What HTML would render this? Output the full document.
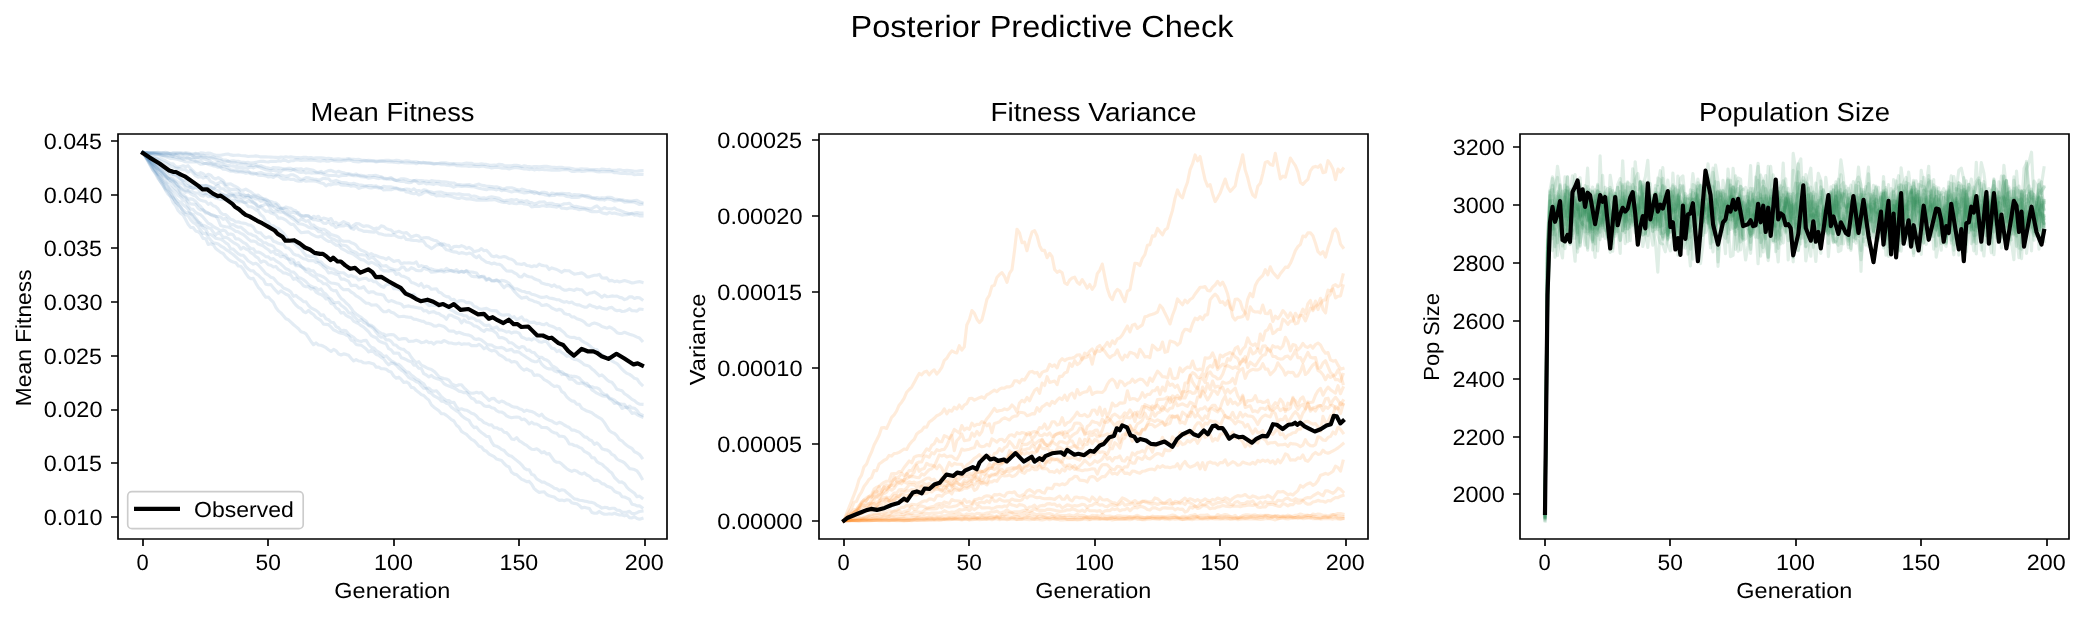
<!DOCTYPE html><html><head><meta charset="utf-8"><style>html,body{margin:0;padding:0;background:#fff;overflow:hidden}svg{display:block;will-change:transform;text-rendering:geometricPrecision}text{font-family:"Liberation Sans", sans-serif;fill:#000}</style></head><body>
<svg width="2084" height="617" viewBox="0 0 2084 617">
<rect width="2084" height="617" fill="#fff"/>
<clipPath id="c0"><rect x="118" y="134" width="549" height="405"/></clipPath>
<clipPath id="c1"><rect x="819" y="134" width="549" height="405"/></clipPath>
<clipPath id="c2"><rect x="1520" y="134" width="549" height="405"/></clipPath>
<g clip-path="url(#c0)" fill="none" stroke="rgb(70,130,180)" stroke-opacity="0.150" stroke-width="3.125" stroke-linejoin="round" stroke-linecap="square">
<path d="M143.0 152.6L145.5 152.6L148.0 152.6L150.5 152.6L153.0 152.6L155.5 152.5L158.0 152.4L160.5 152.6L163.0 152.7L165.5 152.3L168.0 153.1L170.5 153.2L173.1 152.8L175.6 153.1L178.1 152.8L180.6 152.8L183.1 153.2L185.6 152.6L188.1 153.0L190.6 153.5L193.1 153.8L195.6 153.4L198.1 153.7L200.6 152.9L203.1 153.1L205.7 153.5L208.2 153.1L210.7 153.4L213.2 154.4L215.7 155.3L218.2 155.2L220.7 155.3L223.2 154.7L225.7 154.3L228.2 154.1L230.7 154.9L233.2 155.4L235.8 155.2L238.3 155.0L240.8 155.5L243.3 155.8L245.8 155.9L248.3 156.5L250.8 156.3L253.3 156.3L255.8 155.9L258.3 156.3L260.8 156.9L263.3 156.9L265.8 156.9L268.4 157.0L270.9 157.1L273.4 157.3L275.9 157.4L278.4 157.6L280.9 157.1L283.4 157.3L285.9 156.8L288.4 157.2L290.9 156.9L293.4 157.2L295.9 157.6L298.5 157.6L301.0 157.8L303.5 157.2L306.0 157.3L308.5 157.9L311.0 157.6L313.5 158.2L316.0 157.8L318.5 157.7L321.0 157.7L323.5 158.1L326.0 158.6L328.5 158.3L331.1 158.5L333.6 159.4L336.1 159.1L338.6 158.8L341.1 159.2L343.6 159.2L346.1 159.0L348.6 158.6L351.1 159.3L353.6 159.3L356.1 159.5L358.6 159.3L361.2 160.1L363.7 160.3L366.2 160.6L368.7 160.4L371.2 160.5L373.7 160.8L376.2 161.1L378.7 161.0L381.2 160.8L383.7 160.6L386.2 160.4L388.7 160.3L391.2 160.8L393.8 160.8L396.3 160.2L398.8 160.6L401.3 161.4L403.8 161.3L406.3 160.7L408.8 161.1L411.3 161.7L413.8 161.9L416.3 161.8L418.8 162.6L421.3 163.2L423.8 162.7L426.4 162.9L428.9 162.9L431.4 163.1L433.9 163.5L436.4 163.5L438.9 163.3L441.4 162.9L443.9 162.7L446.4 162.9L448.9 163.6L451.4 163.6L453.9 163.6L456.5 163.7L459.0 163.7L461.5 164.0L464.0 163.5L466.5 163.0L469.0 163.4L471.5 163.3L474.0 164.4L476.5 164.4L479.0 164.4L481.5 163.9L484.0 164.4L486.5 164.4L489.1 165.1L491.6 165.4L494.1 165.0L496.6 165.3L499.1 164.3L501.6 164.5L504.1 165.5L506.6 165.9L509.1 165.9L511.6 165.9L514.1 165.4L516.6 165.2L519.2 165.7L521.7 166.6L524.2 165.7L526.7 166.3L529.2 166.6L531.7 167.0L534.2 166.6L536.7 166.5L539.2 166.7L541.7 166.5L544.2 166.3L546.7 166.4L549.2 166.8L551.8 167.3L554.3 167.4L556.8 167.6L559.3 167.4L561.8 167.3L564.3 168.1L566.8 168.1L569.3 168.1L571.8 168.5L574.3 169.0L576.8 169.2L579.3 169.1L581.9 168.9L584.4 169.0L586.9 169.0L589.4 169.5L591.9 169.5L594.4 169.6L596.9 169.5L599.4 170.0L601.9 169.0L604.4 169.4L606.9 169.8L609.4 169.4L611.9 170.4L614.5 170.2L617.0 170.1L619.5 169.7L622.0 170.3L624.5 170.5L627.0 170.3L629.5 170.5L632.0 170.9L634.5 171.3L637.0 171.2L639.5 170.8L642.0 170.7"/>
<path d="M143.0 152.6L145.5 152.6L148.0 152.6L150.5 152.7L153.0 152.7L155.5 152.7L158.0 153.1L160.5 153.1L163.0 153.3L165.5 153.4L168.0 153.2L170.5 153.8L173.1 153.3L175.6 153.0L178.1 153.2L180.6 153.2L183.1 153.4L185.6 153.5L188.1 154.3L190.6 154.4L193.1 154.7L195.6 154.1L198.1 154.3L200.6 155.4L203.1 155.2L205.7 156.3L208.2 156.2L210.7 156.9L213.2 157.1L215.7 157.8L218.2 158.0L220.7 158.6L223.2 160.0L225.7 160.0L228.2 161.2L230.7 161.0L233.2 160.7L235.8 161.2L238.3 161.3L240.8 162.2L243.3 162.4L245.8 162.6L248.3 162.4L250.8 163.1L253.3 162.7L255.8 162.4L258.3 161.7L260.8 161.2L263.3 161.4L265.8 161.8L268.4 162.0L270.9 161.3L273.4 161.4L275.9 161.4L278.4 160.8L280.9 161.1L283.4 160.1L285.9 160.5L288.4 161.7L290.9 160.8L293.4 160.8L295.9 159.9L298.5 159.9L301.0 160.5L303.5 160.1L306.0 160.2L308.5 160.2L311.0 160.1L313.5 160.3L316.0 160.5L318.5 161.0L321.0 161.1L323.5 160.5L326.0 161.1L328.5 161.3L331.1 160.3L333.6 160.7L336.1 161.0L338.6 161.3L341.1 161.3L343.6 160.5L346.1 160.6L348.6 159.9L351.1 160.4L353.6 161.5L356.1 161.7L358.6 161.9L361.2 161.4L363.7 161.0L366.2 160.9L368.7 161.3L371.2 161.2L373.7 161.2L376.2 162.0L378.7 161.4L381.2 161.2L383.7 161.5L386.2 161.8L388.7 162.0L391.2 161.7L393.8 162.2L396.3 162.4L398.8 162.7L401.3 162.3L403.8 162.7L406.3 163.0L408.8 162.8L411.3 163.0L413.8 162.9L416.3 163.8L418.8 162.5L421.3 162.5L423.8 162.4L426.4 163.0L428.9 163.2L431.4 163.5L433.9 164.2L436.4 163.7L438.9 163.8L441.4 164.1L443.9 164.0L446.4 164.6L448.9 165.0L451.4 164.8L453.9 164.4L456.5 165.6L459.0 165.8L461.5 166.0L464.0 166.0L466.5 166.0L469.0 166.4L471.5 166.3L474.0 166.1L476.5 166.5L479.0 166.6L481.5 166.3L484.0 166.2L486.5 167.0L489.1 167.3L491.6 168.0L494.1 167.5L496.6 167.1L499.1 167.5L501.6 168.1L504.1 168.2L506.6 168.2L509.1 168.9L511.6 168.2L514.1 167.7L516.6 167.7L519.2 167.9L521.7 168.4L524.2 168.9L526.7 169.0L529.2 169.6L531.7 169.0L534.2 169.9L536.7 169.3L539.2 169.8L541.7 169.3L544.2 169.6L546.7 169.7L549.2 170.0L551.8 170.3L554.3 170.1L556.8 170.1L559.3 170.3L561.8 169.8L564.3 169.8L566.8 169.5L569.3 170.1L571.8 171.4L574.3 171.5L576.8 171.0L579.3 170.8L581.9 171.5L584.4 171.3L586.9 170.7L589.4 170.8L591.9 170.8L594.4 170.9L596.9 171.7L599.4 171.9L601.9 171.5L604.4 171.7L606.9 171.6L609.4 171.6L611.9 171.5L614.5 172.8L617.0 172.8L619.5 173.2L622.0 173.5L624.5 173.3L627.0 173.6L629.5 173.8L632.0 173.8L634.5 174.7L637.0 174.5L639.5 174.2L642.0 174.4"/>
<path d="M143.0 152.6L145.5 152.7L148.0 152.7L150.5 152.7L153.0 152.7L155.5 152.7L158.0 153.1L160.5 153.5L163.0 152.8L165.5 153.2L168.0 153.1L170.5 153.9L173.1 154.6L175.6 154.2L178.1 154.2L180.6 154.0L183.1 154.9L185.6 154.2L188.1 154.2L190.6 154.6L193.1 156.1L195.6 157.8L198.1 157.4L200.6 156.6L203.1 157.2L205.7 157.1L208.2 158.1L210.7 157.9L213.2 158.4L215.7 159.2L218.2 160.2L220.7 160.5L223.2 161.8L225.7 162.0L228.2 161.1L230.7 162.5L233.2 162.7L235.8 162.8L238.3 164.3L240.8 163.7L243.3 164.2L245.8 164.1L248.3 165.4L250.8 165.2L253.3 165.6L255.8 164.9L258.3 166.3L260.8 165.7L263.3 166.7L265.8 167.4L268.4 168.0L270.9 168.8L273.4 167.5L275.9 167.8L278.4 167.9L280.9 168.2L283.4 168.9L285.9 168.7L288.4 168.2L290.9 168.4L293.4 169.6L295.9 168.7L298.5 169.0L301.0 168.7L303.5 169.9L306.0 168.9L308.5 169.3L311.0 169.7L313.5 170.2L316.0 171.9L318.5 172.5L321.0 171.3L323.5 172.8L326.0 171.6L328.5 170.6L331.1 170.4L333.6 171.5L336.1 172.4L338.6 171.3L341.1 172.4L343.6 172.7L346.1 173.6L348.6 173.5L351.1 174.4L353.6 174.7L356.1 174.0L358.6 175.3L361.2 175.4L363.7 175.8L366.2 176.5L368.7 175.6L371.2 175.8L373.7 175.5L376.2 175.4L378.7 176.2L381.2 176.8L383.7 177.9L386.2 178.6L388.7 178.2L391.2 177.6L393.8 179.9L396.3 180.6L398.8 179.7L401.3 178.8L403.8 178.8L406.3 179.3L408.8 180.2L411.3 180.7L413.8 180.7L416.3 180.4L418.8 180.6L421.3 180.6L423.8 180.9L426.4 181.0L428.9 181.6L431.4 180.6L433.9 181.0L436.4 181.4L438.9 181.2L441.4 181.8L443.9 181.7L446.4 182.0L448.9 182.5L451.4 182.9L453.9 183.0L456.5 184.3L459.0 184.5L461.5 184.8L464.0 185.0L466.5 184.7L469.0 184.5L471.5 185.5L474.0 185.5L476.5 184.7L479.0 184.1L481.5 185.3L484.0 185.6L486.5 186.2L489.1 186.4L491.6 186.6L494.1 187.1L496.6 186.7L499.1 187.4L501.6 188.5L504.1 189.0L506.6 187.9L509.1 187.7L511.6 187.7L514.1 188.4L516.6 189.6L519.2 190.1L521.7 189.1L524.2 189.8L526.7 190.8L529.2 190.7L531.7 192.1L534.2 191.5L536.7 192.4L539.2 193.7L541.7 192.3L544.2 192.2L546.7 192.8L549.2 194.9L551.8 193.0L554.3 193.6L556.8 193.8L559.3 193.6L561.8 193.4L564.3 193.5L566.8 193.9L569.3 193.5L571.8 195.2L574.3 194.6L576.8 194.8L579.3 194.9L581.9 195.2L584.4 195.7L586.9 195.6L589.4 196.0L591.9 197.5L594.4 198.1L596.9 197.6L599.4 198.3L601.9 197.7L604.4 198.1L606.9 197.4L609.4 197.3L611.9 197.5L614.5 199.0L617.0 199.3L619.5 199.8L622.0 199.9L624.5 200.3L627.0 200.6L629.5 201.1L632.0 201.1L634.5 200.5L637.0 200.4L639.5 201.7L642.0 202.6"/>
<path d="M143.0 152.6L145.5 152.7L148.0 153.0L150.5 153.2L153.0 153.4L155.5 153.6L158.0 153.8L160.5 154.5L163.0 155.2L165.5 154.7L168.0 154.9L170.5 155.3L173.1 156.2L175.6 154.8L178.1 156.1L180.6 157.4L183.1 157.0L185.6 157.2L188.1 158.2L190.6 158.4L193.1 157.5L195.6 157.4L198.1 157.6L200.6 157.7L203.1 158.8L205.7 159.4L208.2 160.3L210.7 161.5L213.2 163.0L215.7 163.2L218.2 162.2L220.7 163.9L223.2 164.2L225.7 165.4L228.2 165.2L230.7 165.8L233.2 166.1L235.8 166.5L238.3 167.6L240.8 167.2L243.3 167.6L245.8 167.9L248.3 167.9L250.8 166.8L253.3 167.9L255.8 166.6L258.3 166.8L260.8 167.7L263.3 168.8L265.8 169.7L268.4 170.3L270.9 170.6L273.4 170.2L275.9 171.0L278.4 170.6L280.9 171.4L283.4 169.7L285.9 169.7L288.4 170.0L290.9 170.6L293.4 169.4L295.9 170.9L298.5 171.9L301.0 172.4L303.5 171.9L306.0 173.0L308.5 172.4L311.0 173.1L313.5 172.9L316.0 172.9L318.5 173.0L321.0 173.2L323.5 174.1L326.0 174.9L328.5 175.4L331.1 175.5L333.6 175.5L336.1 175.5L338.6 176.4L341.1 175.6L343.6 175.1L346.1 175.4L348.6 174.6L351.1 175.2L353.6 175.7L356.1 175.5L358.6 175.8L361.2 176.8L363.7 176.9L366.2 177.3L368.7 178.2L371.2 177.8L373.7 177.3L376.2 177.9L378.7 178.6L381.2 177.7L383.7 178.8L386.2 179.0L388.7 179.1L391.2 179.0L393.8 179.4L396.3 180.5L398.8 180.9L401.3 181.5L403.8 181.1L406.3 182.3L408.8 182.8L411.3 182.4L413.8 180.6L416.3 181.4L418.8 183.7L421.3 183.3L423.8 182.5L426.4 183.9L428.9 183.4L431.4 183.9L433.9 184.4L436.4 183.4L438.9 184.0L441.4 185.0L443.9 184.8L446.4 185.4L448.9 185.4L451.4 186.1L453.9 187.2L456.5 186.0L459.0 186.0L461.5 186.5L464.0 186.2L466.5 186.1L469.0 186.4L471.5 186.7L474.0 186.7L476.5 187.5L479.0 188.3L481.5 188.8L484.0 189.2L486.5 189.8L489.1 188.6L491.6 188.9L494.1 189.3L496.6 189.9L499.1 188.9L501.6 190.7L504.1 190.1L506.6 190.5L509.1 191.2L511.6 191.9L514.1 191.2L516.6 191.1L519.2 191.7L521.7 192.3L524.2 192.9L526.7 192.7L529.2 192.3L531.7 191.8L534.2 193.6L536.7 192.7L539.2 193.6L541.7 194.0L544.2 194.6L546.7 195.1L549.2 195.8L551.8 195.4L554.3 195.5L556.8 194.2L559.3 194.9L561.8 194.8L564.3 195.3L566.8 196.5L569.3 196.6L571.8 197.4L574.3 197.1L576.8 197.4L579.3 197.2L581.9 195.8L584.4 196.3L586.9 197.0L589.4 197.7L591.9 198.1L594.4 198.4L596.9 199.3L599.4 199.7L601.9 199.4L604.4 200.1L606.9 198.8L609.4 199.3L611.9 199.8L614.5 201.0L617.0 200.7L619.5 200.0L622.0 200.7L624.5 202.2L627.0 201.9L629.5 202.0L632.0 202.0L634.5 202.3L637.0 203.4L639.5 204.5L642.0 204.2"/>
<path d="M143.0 152.6L145.5 153.0L148.0 153.3L150.5 153.6L153.0 153.8L155.5 154.1L158.0 154.5L160.5 154.8L163.0 155.3L165.5 155.7L168.0 156.3L170.5 156.3L173.1 156.6L175.6 157.2L178.1 157.6L180.6 158.0L183.1 159.2L185.6 158.5L188.1 157.6L190.6 159.3L193.1 159.7L195.6 161.2L198.1 161.3L200.6 160.9L203.1 163.2L205.7 163.5L208.2 163.4L210.7 163.3L213.2 164.5L215.7 164.6L218.2 165.6L220.7 167.0L223.2 166.3L225.7 166.8L228.2 168.0L230.7 169.7L233.2 170.3L235.8 169.9L238.3 171.2L240.8 170.9L243.3 170.9L245.8 171.5L248.3 171.0L250.8 173.7L253.3 174.1L255.8 173.7L258.3 173.1L260.8 172.5L263.3 173.4L265.8 174.2L268.4 174.0L270.9 174.1L273.4 174.9L275.9 175.0L278.4 173.9L280.9 175.1L283.4 175.7L285.9 176.4L288.4 175.9L290.9 174.7L293.4 174.8L295.9 176.1L298.5 178.1L301.0 179.6L303.5 179.0L306.0 177.6L308.5 177.8L311.0 178.5L313.5 179.0L316.0 179.2L318.5 180.3L321.0 179.5L323.5 178.2L326.0 178.6L328.5 178.7L331.1 181.3L333.6 181.2L336.1 180.4L338.6 181.5L341.1 182.5L343.6 182.6L346.1 182.8L348.6 183.7L351.1 183.9L353.6 183.3L356.1 184.1L358.6 184.8L361.2 185.0L363.7 185.6L366.2 185.8L368.7 185.5L371.2 185.5L373.7 186.2L376.2 185.9L378.7 187.1L381.2 187.9L383.7 186.2L386.2 186.7L388.7 186.7L391.2 186.9L393.8 187.6L396.3 187.9L398.8 188.8L401.3 189.2L403.8 189.5L406.3 189.0L408.8 189.2L411.3 190.6L413.8 188.8L416.3 190.8L418.8 190.5L421.3 191.6L423.8 189.7L426.4 190.3L428.9 191.6L431.4 192.0L433.9 192.9L436.4 192.2L438.9 192.1L441.4 192.1L443.9 193.0L446.4 193.6L448.9 193.7L451.4 193.7L453.9 193.8L456.5 194.2L459.0 193.9L461.5 194.4L464.0 194.7L466.5 194.8L469.0 194.9L471.5 196.5L474.0 196.0L476.5 196.6L479.0 197.7L481.5 198.0L484.0 197.7L486.5 198.4L489.1 197.2L491.6 196.8L494.1 197.2L496.6 197.7L499.1 198.2L501.6 200.0L504.1 200.9L506.6 200.3L509.1 200.3L511.6 199.6L514.1 200.2L516.6 199.5L519.2 201.1L521.7 200.8L524.2 201.5L526.7 200.7L529.2 202.2L531.7 202.6L534.2 203.9L536.7 203.4L539.2 202.1L541.7 202.0L544.2 201.8L546.7 203.8L549.2 203.4L551.8 203.2L554.3 204.2L556.8 204.6L559.3 205.1L561.8 204.8L564.3 203.7L566.8 203.7L569.3 203.2L571.8 205.4L574.3 206.6L576.8 206.4L579.3 207.1L581.9 207.6L584.4 208.0L586.9 208.3L589.4 208.8L591.9 208.6L594.4 207.0L596.9 205.8L599.4 208.2L601.9 209.1L604.4 207.5L606.9 208.7L609.4 208.7L611.9 209.0L614.5 207.9L617.0 209.7L619.5 210.3L622.0 211.3L624.5 212.2L627.0 212.9L629.5 213.7L632.0 213.3L634.5 213.1L637.0 212.5L639.5 213.1L642.0 213.0"/>
<path d="M143.0 152.6L145.5 153.1L148.0 153.6L150.5 153.6L153.0 153.7L155.5 154.3L158.0 154.5L160.5 155.6L163.0 156.1L165.5 156.8L168.0 157.6L170.5 158.5L173.1 158.4L175.6 159.0L178.1 159.4L180.6 160.2L183.1 160.7L185.6 161.8L188.1 162.0L190.6 161.6L193.1 162.0L195.6 161.6L198.1 162.6L200.6 164.3L203.1 164.0L205.7 163.3L208.2 164.4L210.7 164.9L213.2 165.9L215.7 166.2L218.2 167.2L220.7 167.2L223.2 169.3L225.7 169.4L228.2 170.3L230.7 171.2L233.2 171.2L235.8 171.9L238.3 172.0L240.8 172.0L243.3 172.4L245.8 173.3L248.3 172.7L250.8 172.8L253.3 173.0L255.8 173.5L258.3 175.2L260.8 175.4L263.3 175.4L265.8 175.9L268.4 177.0L270.9 176.4L273.4 177.5L275.9 175.8L278.4 176.0L280.9 178.0L283.4 179.3L285.9 179.1L288.4 178.7L290.9 179.5L293.4 179.2L295.9 180.5L298.5 181.2L301.0 181.3L303.5 180.3L306.0 181.3L308.5 181.0L311.0 181.0L313.5 181.0L316.0 181.3L318.5 182.1L321.0 182.9L323.5 183.5L326.0 185.8L328.5 184.4L331.1 184.9L333.6 184.0L336.1 184.0L338.6 183.4L341.1 184.9L343.6 185.1L346.1 185.3L348.6 185.4L351.1 186.3L353.6 185.8L356.1 186.4L358.6 188.4L361.2 187.6L363.7 187.0L366.2 186.5L368.7 187.7L371.2 187.9L373.7 187.5L376.2 187.4L378.7 188.1L381.2 187.8L383.7 190.0L386.2 189.7L388.7 189.7L391.2 189.8L393.8 188.8L396.3 188.6L398.8 189.4L401.3 190.2L403.8 189.9L406.3 192.0L408.8 192.3L411.3 193.3L413.8 193.8L416.3 193.2L418.8 194.9L421.3 194.3L423.8 192.6L426.4 191.5L428.9 192.7L431.4 194.1L433.9 194.4L436.4 195.9L438.9 195.4L441.4 195.8L443.9 196.3L446.4 195.4L448.9 196.0L451.4 196.5L453.9 197.4L456.5 198.1L459.0 198.5L461.5 197.5L464.0 198.2L466.5 198.9L469.0 198.7L471.5 199.2L474.0 199.6L476.5 200.2L479.0 199.9L481.5 200.1L484.0 200.2L486.5 200.2L489.1 199.9L491.6 200.0L494.1 199.6L496.6 200.2L499.1 201.3L501.6 201.9L504.1 202.5L506.6 202.3L509.1 203.4L511.6 202.8L514.1 203.5L516.6 203.7L519.2 203.1L521.7 202.9L524.2 204.0L526.7 204.2L529.2 204.6L531.7 206.9L534.2 206.5L536.7 206.1L539.2 206.5L541.7 205.8L544.2 205.8L546.7 206.4L549.2 206.0L551.8 206.4L554.3 206.7L556.8 207.1L559.3 206.1L561.8 208.3L564.3 208.2L566.8 208.8L569.3 208.0L571.8 207.6L574.3 208.4L576.8 208.7L579.3 209.7L581.9 209.2L584.4 209.0L586.9 210.0L589.4 210.9L591.9 211.7L594.4 211.6L596.9 211.8L599.4 211.3L601.9 212.7L604.4 213.4L606.9 213.9L609.4 212.4L611.9 213.4L614.5 213.0L617.0 213.7L619.5 214.2L622.0 215.1L624.5 214.8L627.0 214.6L629.5 214.1L632.0 213.8L634.5 215.1L637.0 214.8L639.5 215.9L642.0 215.9"/>
<path d="M143.0 152.6L145.5 153.6L148.0 154.7L150.5 155.4L153.0 156.3L155.5 157.2L158.0 158.5L160.5 158.9L163.0 159.7L165.5 160.7L168.0 162.3L170.5 163.8L173.1 163.9L175.6 166.5L178.1 167.2L180.6 166.6L183.1 165.7L185.6 166.8L188.1 165.7L190.6 168.5L193.1 170.8L195.6 173.3L198.1 174.2L200.6 172.6L203.1 173.7L205.7 175.9L208.2 174.2L210.7 175.2L213.2 177.8L215.7 179.0L218.2 177.6L220.7 179.1L223.2 180.8L225.7 184.6L228.2 184.1L230.7 183.8L233.2 185.3L235.8 186.7L238.3 188.1L240.8 190.3L243.3 190.2L245.8 189.1L248.3 190.6L250.8 191.8L253.3 194.0L255.8 195.6L258.3 195.1L260.8 197.1L263.3 198.9L265.8 199.1L268.4 200.9L270.9 201.5L273.4 202.4L275.9 203.0L278.4 204.9L280.9 208.8L283.4 208.3L285.9 207.0L288.4 207.8L290.9 208.2L293.4 210.0L295.9 210.8L298.5 214.7L301.0 215.2L303.5 217.2L306.0 215.7L308.5 215.7L311.0 218.7L313.5 216.3L316.0 217.4L318.5 216.3L321.0 219.5L323.5 218.1L326.0 218.8L328.5 219.6L331.1 218.5L333.6 222.8L336.1 222.4L338.6 224.5L341.1 223.1L343.6 221.6L346.1 222.9L348.6 223.8L351.1 227.5L353.6 225.2L356.1 223.5L358.6 223.7L361.2 225.2L363.7 226.5L366.2 225.8L368.7 226.1L371.2 227.4L373.7 229.0L376.2 228.1L378.7 228.6L381.2 225.7L383.7 226.4L386.2 228.6L388.7 229.5L391.2 230.1L393.8 232.7L396.3 232.1L398.8 231.2L401.3 232.4L403.8 233.3L406.3 232.5L408.8 234.7L411.3 237.1L413.8 236.0L416.3 235.3L418.8 236.1L421.3 238.4L423.8 237.8L426.4 237.6L428.9 237.9L431.4 239.3L433.9 240.3L436.4 240.7L438.9 242.8L441.4 245.4L443.9 243.9L446.4 245.2L448.9 245.3L451.4 248.8L453.9 246.5L456.5 246.2L459.0 246.8L461.5 245.6L464.0 246.6L466.5 248.5L469.0 247.4L471.5 248.8L474.0 251.8L476.5 251.0L479.0 250.5L481.5 248.6L484.0 250.7L486.5 250.3L489.1 253.0L491.6 256.0L494.1 256.7L496.6 255.8L499.1 257.3L501.6 257.1L504.1 256.5L506.6 257.3L509.1 258.8L511.6 259.2L514.1 260.8L516.6 263.8L519.2 264.0L521.7 264.5L524.2 263.5L526.7 265.5L529.2 265.7L531.7 266.8L534.2 265.7L536.7 266.4L539.2 264.1L541.7 265.4L544.2 265.8L546.7 266.0L549.2 269.5L551.8 267.9L554.3 268.8L556.8 269.5L559.3 270.9L561.8 272.3L564.3 270.4L566.8 270.7L569.3 270.8L571.8 272.7L574.3 274.2L576.8 273.7L579.3 273.4L581.9 272.9L584.4 274.4L586.9 276.9L589.4 276.9L591.9 275.9L594.4 275.3L596.9 275.3L599.4 274.4L601.9 277.9L604.4 278.1L606.9 277.9L609.4 280.9L611.9 280.4L614.5 281.7L617.0 281.1L619.5 281.9L622.0 281.3L624.5 280.5L627.0 281.2L629.5 282.0L632.0 283.0L634.5 282.6L637.0 282.0L639.5 281.6L642.0 282.3"/>
<path d="M143.0 152.6L145.5 153.8L148.0 155.1L150.5 156.5L153.0 157.8L155.5 158.6L158.0 159.2L160.5 160.8L163.0 162.1L165.5 163.1L168.0 164.5L170.5 166.3L173.1 167.0L175.6 168.4L178.1 168.2L180.6 169.3L183.1 169.7L185.6 169.7L188.1 172.2L190.6 170.3L193.1 172.9L195.6 175.7L198.1 177.2L200.6 176.2L203.1 178.1L205.7 177.1L208.2 178.0L210.7 181.6L213.2 182.4L215.7 184.4L218.2 183.3L220.7 181.9L223.2 183.0L225.7 186.3L228.2 188.1L230.7 189.6L233.2 189.4L235.8 189.8L238.3 190.2L240.8 194.4L243.3 193.9L245.8 196.0L248.3 195.4L250.8 197.2L253.3 195.9L255.8 196.2L258.3 197.9L260.8 198.2L263.3 199.0L265.8 200.2L268.4 200.9L270.9 204.2L273.4 206.0L275.9 204.5L278.4 207.8L280.9 208.0L283.4 208.6L285.9 209.2L288.4 211.2L290.9 212.6L293.4 212.3L295.9 213.3L298.5 212.6L301.0 216.3L303.5 215.6L306.0 215.6L308.5 216.1L311.0 217.7L313.5 219.7L316.0 219.7L318.5 220.5L321.0 220.8L323.5 223.1L326.0 223.4L328.5 221.6L331.1 224.6L333.6 225.1L336.1 227.5L338.6 226.1L341.1 225.7L343.6 226.0L346.1 225.0L348.6 225.9L351.1 228.4L353.6 229.4L356.1 226.6L358.6 229.5L361.2 230.2L363.7 231.4L366.2 231.3L368.7 231.6L371.2 231.9L373.7 232.2L376.2 231.4L378.7 233.6L381.2 234.0L383.7 234.7L386.2 235.3L388.7 235.1L391.2 235.5L393.8 234.5L396.3 236.1L398.8 237.3L401.3 237.6L403.8 236.3L406.3 239.4L408.8 239.6L411.3 240.2L413.8 240.4L416.3 240.5L418.8 241.1L421.3 240.8L423.8 241.6L426.4 245.3L428.9 246.7L431.4 248.6L433.9 247.0L436.4 244.9L438.9 244.7L441.4 243.4L443.9 247.2L446.4 249.8L448.9 250.3L451.4 251.2L453.9 251.9L456.5 252.1L459.0 253.5L461.5 252.6L464.0 253.1L466.5 254.0L469.0 253.1L471.5 253.7L474.0 256.1L476.5 257.7L479.0 255.7L481.5 258.9L484.0 260.4L486.5 262.2L489.1 262.6L491.6 264.0L494.1 263.0L496.6 264.2L499.1 264.3L501.6 265.4L504.1 268.4L506.6 271.0L509.1 271.1L511.6 271.0L514.1 272.8L516.6 273.9L519.2 276.6L521.7 277.0L524.2 274.2L526.7 275.9L529.2 276.7L531.7 277.0L534.2 278.7L536.7 279.8L539.2 280.4L541.7 283.1L544.2 283.7L546.7 284.4L549.2 284.7L551.8 286.4L554.3 284.9L556.8 287.0L559.3 286.8L561.8 288.9L564.3 290.2L566.8 290.1L569.3 289.2L571.8 289.8L574.3 290.4L576.8 288.9L579.3 289.6L581.9 289.8L584.4 292.5L586.9 294.6L589.4 293.1L591.9 292.8L594.4 291.9L596.9 293.4L599.4 295.1L601.9 297.3L604.4 295.2L606.9 296.7L609.4 296.5L611.9 295.9L614.5 296.2L617.0 296.0L619.5 297.4L622.0 297.9L624.5 299.6L627.0 298.7L629.5 296.8L632.0 296.9L634.5 298.5L637.0 297.5L639.5 297.8L642.0 299.6"/>
<path d="M143.0 152.6L145.5 154.6L148.0 156.6L150.5 158.4L153.0 160.3L155.5 161.9L158.0 163.6L160.5 165.3L163.0 167.2L165.5 168.8L168.0 169.9L170.5 170.9L173.1 174.8L175.6 174.7L178.1 176.1L180.6 178.9L183.1 180.7L185.6 180.2L188.1 183.5L190.6 185.5L193.1 184.5L195.6 183.3L198.1 185.0L200.6 185.4L203.1 185.7L205.7 185.5L208.2 185.9L210.7 187.2L213.2 189.0L215.7 186.8L218.2 185.5L220.7 188.8L223.2 188.8L225.7 190.8L228.2 191.4L230.7 193.3L233.2 194.3L235.8 193.7L238.3 193.8L240.8 194.8L243.3 196.2L245.8 195.7L248.3 194.9L250.8 196.7L253.3 197.9L255.8 198.9L258.3 199.0L260.8 201.3L263.3 200.4L265.8 201.8L268.4 205.1L270.9 204.7L273.4 206.7L275.9 208.4L278.4 209.9L280.9 208.8L283.4 211.8L285.9 213.0L288.4 214.6L290.9 215.9L293.4 216.8L295.9 219.2L298.5 221.3L301.0 219.2L303.5 219.9L306.0 221.4L308.5 220.5L311.0 224.7L313.5 225.0L316.0 227.1L318.5 228.4L321.0 229.1L323.5 229.2L326.0 230.5L328.5 232.2L331.1 234.6L333.6 235.3L336.1 236.0L338.6 237.2L341.1 240.2L343.6 241.2L346.1 241.3L348.6 241.2L351.1 242.7L353.6 243.5L356.1 245.1L358.6 248.5L361.2 250.2L363.7 251.1L366.2 252.3L368.7 254.9L371.2 253.6L373.7 255.1L376.2 255.6L378.7 256.7L381.2 257.6L383.7 258.0L386.2 259.5L388.7 257.6L391.2 259.6L393.8 261.4L396.3 260.7L398.8 260.6L401.3 264.0L403.8 262.8L406.3 263.0L408.8 262.8L411.3 263.1L413.8 263.3L416.3 262.0L418.8 266.5L421.3 265.6L423.8 266.5L426.4 266.6L428.9 268.5L431.4 268.9L433.9 269.7L436.4 270.4L438.9 270.5L441.4 269.8L443.9 270.6L446.4 268.3L448.9 270.0L451.4 270.9L453.9 271.2L456.5 269.6L459.0 272.0L461.5 271.2L464.0 272.5L466.5 270.6L469.0 271.7L471.5 272.0L474.0 272.4L476.5 273.0L479.0 276.5L481.5 276.6L484.0 277.5L486.5 280.4L489.1 278.3L491.6 281.0L494.1 280.7L496.6 280.6L499.1 281.2L501.6 280.4L504.1 280.7L506.6 281.7L509.1 283.4L511.6 286.2L514.1 288.6L516.6 288.7L519.2 290.0L521.7 291.2L524.2 291.5L526.7 292.6L529.2 292.6L531.7 294.3L534.2 294.7L536.7 295.6L539.2 296.7L541.7 297.4L544.2 297.2L546.7 296.6L549.2 298.0L551.8 298.4L554.3 298.9L556.8 299.8L559.3 299.8L561.8 301.3L564.3 302.3L566.8 301.6L569.3 302.8L571.8 302.1L574.3 303.9L576.8 304.9L579.3 304.9L581.9 306.1L584.4 307.1L586.9 307.2L589.4 304.8L591.9 305.9L594.4 306.7L596.9 308.0L599.4 306.8L601.9 308.2L604.4 308.7L606.9 309.2L609.4 307.7L611.9 307.4L614.5 309.7L617.0 310.7L619.5 310.2L622.0 311.5L624.5 311.3L627.0 310.4L629.5 308.7L632.0 310.8L634.5 310.7L637.0 311.1L639.5 309.0L642.0 309.3"/>
<path d="M143.0 152.6L145.5 154.8L148.0 156.8L150.5 158.7L153.0 161.0L155.5 162.9L158.0 164.8L160.5 166.8L163.0 168.4L165.5 170.2L168.0 171.8L170.5 173.8L173.1 174.4L175.6 175.5L178.1 177.8L180.6 179.5L183.1 181.4L185.6 185.0L188.1 186.0L190.6 187.5L193.1 187.8L195.6 187.7L198.1 187.2L200.6 186.0L203.1 186.1L205.7 185.4L208.2 186.6L210.7 187.0L213.2 188.1L215.7 190.0L218.2 190.8L220.7 193.0L223.2 194.4L225.7 195.5L228.2 196.2L230.7 196.2L233.2 195.5L235.8 196.6L238.3 196.6L240.8 197.1L243.3 198.3L245.8 197.7L248.3 197.2L250.8 199.5L253.3 202.9L255.8 204.4L258.3 208.7L260.8 205.7L263.3 205.4L265.8 203.8L268.4 205.1L270.9 209.4L273.4 212.0L275.9 211.0L278.4 211.8L280.9 212.1L283.4 212.3L285.9 214.2L288.4 215.7L290.9 217.6L293.4 219.3L295.9 221.4L298.5 223.8L301.0 224.0L303.5 224.6L306.0 225.6L308.5 227.3L311.0 228.1L313.5 228.0L316.0 229.1L318.5 231.6L321.0 231.5L323.5 234.1L326.0 233.7L328.5 236.3L331.1 238.4L333.6 239.2L336.1 240.5L338.6 241.7L341.1 245.1L343.6 245.3L346.1 245.7L348.6 247.8L351.1 250.4L353.6 251.6L356.1 252.4L358.6 254.7L361.2 254.6L363.7 255.0L366.2 255.3L368.7 258.8L371.2 257.3L373.7 258.0L376.2 260.6L378.7 262.6L381.2 265.6L383.7 266.0L386.2 265.6L388.7 267.7L391.2 268.7L393.8 269.5L396.3 270.0L398.8 269.8L401.3 267.6L403.8 267.0L406.3 270.2L408.8 269.9L411.3 267.7L413.8 268.7L416.3 270.4L418.8 270.8L421.3 270.6L423.8 268.0L426.4 269.3L428.9 269.9L431.4 272.3L433.9 271.9L436.4 271.6L438.9 271.2L441.4 271.3L443.9 272.0L446.4 271.5L448.9 271.0L451.4 270.4L453.9 271.7L456.5 272.0L459.0 272.4L461.5 271.4L464.0 271.8L466.5 271.0L469.0 273.9L471.5 276.1L474.0 276.6L476.5 276.6L479.0 277.6L481.5 276.3L484.0 276.2L486.5 279.4L489.1 279.0L491.6 280.4L494.1 281.0L496.6 279.7L499.1 281.6L501.6 284.8L504.1 287.7L506.6 285.4L509.1 285.8L511.6 287.7L514.1 291.1L516.6 293.8L519.2 296.3L521.7 298.3L524.2 297.6L526.7 297.1L529.2 299.6L531.7 300.2L534.2 301.4L536.7 302.1L539.2 303.0L541.7 305.5L544.2 305.1L546.7 304.6L549.2 305.9L551.8 308.0L554.3 309.1L556.8 310.3L559.3 309.2L561.8 310.3L564.3 313.5L566.8 314.2L569.3 314.5L571.8 317.0L574.3 316.9L576.8 318.7L579.3 319.4L581.9 320.5L584.4 322.1L586.9 324.8L589.4 325.5L591.9 323.8L594.4 323.0L596.9 323.8L599.4 324.7L601.9 326.6L604.4 327.2L606.9 328.1L609.4 326.8L611.9 328.2L614.5 330.1L617.0 332.7L619.5 333.5L622.0 333.4L624.5 332.3L627.0 333.3L629.5 334.2L632.0 334.9L634.5 335.9L637.0 337.1L639.5 338.0L642.0 340.9"/>
<path d="M143.0 152.6L145.5 154.9L148.0 157.3L150.5 159.4L153.0 161.7L155.5 164.0L158.0 165.9L160.5 168.6L163.0 171.1L165.5 173.0L168.0 175.2L170.5 177.5L173.1 178.5L175.6 180.7L178.1 182.1L180.6 183.3L183.1 184.0L185.6 187.4L188.1 188.2L190.6 187.0L193.1 188.9L195.6 186.8L198.1 189.2L200.6 191.4L203.1 193.6L205.7 193.7L208.2 192.9L210.7 195.8L213.2 196.5L215.7 197.4L218.2 196.4L220.7 197.0L223.2 194.8L225.7 196.4L228.2 194.6L230.7 195.0L233.2 195.1L235.8 198.4L238.3 200.2L240.8 199.9L243.3 202.1L245.8 202.5L248.3 200.7L250.8 202.0L253.3 201.7L255.8 204.0L258.3 206.2L260.8 206.6L263.3 209.2L265.8 211.4L268.4 211.0L270.9 213.0L273.4 213.9L275.9 214.8L278.4 218.2L280.9 217.9L283.4 218.8L285.9 220.2L288.4 222.4L290.9 224.4L293.4 224.2L295.9 227.3L298.5 230.2L301.0 232.6L303.5 232.4L306.0 232.1L308.5 231.9L311.0 233.9L313.5 235.2L316.0 236.4L318.5 237.0L321.0 236.0L323.5 238.2L326.0 240.1L328.5 241.4L331.1 241.5L333.6 243.4L336.1 245.1L338.6 245.5L341.1 248.3L343.6 249.6L346.1 251.0L348.6 252.6L351.1 253.3L353.6 254.4L356.1 256.3L358.6 258.1L361.2 259.7L363.7 259.9L366.2 261.7L368.7 263.6L371.2 262.2L373.7 263.1L376.2 264.6L378.7 265.9L381.2 269.2L383.7 270.9L386.2 270.7L388.7 271.2L391.2 270.5L393.8 271.0L396.3 274.5L398.8 273.4L401.3 276.0L403.8 276.4L406.3 277.6L408.8 278.9L411.3 282.4L413.8 283.1L416.3 284.2L418.8 285.8L421.3 283.5L423.8 287.5L426.4 286.0L428.9 286.8L431.4 289.3L433.9 289.0L436.4 288.7L438.9 292.3L441.4 293.1L443.9 295.4L446.4 296.6L448.9 296.9L451.4 299.7L453.9 299.4L456.5 302.3L459.0 300.9L461.5 300.5L464.0 301.0L466.5 302.7L469.0 302.4L471.5 303.2L474.0 306.4L476.5 307.0L479.0 308.8L481.5 309.2L484.0 308.7L486.5 308.4L489.1 309.7L491.6 310.6L494.1 310.6L496.6 310.9L499.1 313.6L501.6 314.9L504.1 315.1L506.6 314.7L509.1 314.7L511.6 317.7L514.1 316.7L516.6 319.7L519.2 318.3L521.7 316.8L524.2 320.3L526.7 320.1L529.2 322.2L531.7 322.4L534.2 322.1L536.7 323.6L539.2 323.3L541.7 324.4L544.2 324.7L546.7 323.4L549.2 325.6L551.8 326.2L554.3 327.3L556.8 329.1L559.3 328.5L561.8 330.8L564.3 332.7L566.8 335.9L569.3 336.9L571.8 337.5L574.3 337.3L576.8 338.5L579.3 338.3L581.9 340.9L584.4 342.3L586.9 343.6L589.4 345.4L591.9 347.7L594.4 349.4L596.9 349.5L599.4 353.2L601.9 354.5L604.4 356.4L606.9 357.9L609.4 358.4L611.9 360.9L614.5 362.4L617.0 363.6L619.5 366.2L622.0 369.2L624.5 371.6L627.0 373.4L629.5 374.4L632.0 376.1L634.5 378.3L637.0 378.9L639.5 382.7L642.0 385.0"/>
<path d="M143.0 152.6L145.5 155.4L148.0 158.5L150.5 160.7L153.0 163.3L155.5 165.5L158.0 168.4L160.5 170.1L163.0 173.0L165.5 175.5L168.0 178.4L170.5 178.6L173.1 180.2L175.6 182.4L178.1 185.6L180.6 187.1L183.1 189.3L185.6 190.7L188.1 190.5L190.6 191.6L193.1 192.3L195.6 193.0L198.1 193.0L200.6 195.2L203.1 196.1L205.7 194.3L208.2 196.6L210.7 196.5L213.2 195.6L215.7 198.3L218.2 198.6L220.7 199.4L223.2 199.4L225.7 199.7L228.2 198.1L230.7 200.4L233.2 200.2L235.8 201.2L238.3 202.0L240.8 201.8L243.3 201.7L245.8 203.5L248.3 206.6L250.8 206.8L253.3 207.8L255.8 209.8L258.3 211.1L260.8 214.8L263.3 216.8L265.8 221.2L268.4 222.1L270.9 225.8L273.4 225.8L275.9 227.7L278.4 228.4L280.9 230.7L283.4 233.1L285.9 236.5L288.4 240.4L290.9 241.7L293.4 242.1L295.9 244.9L298.5 247.3L301.0 249.1L303.5 252.5L306.0 255.6L308.5 255.9L311.0 256.8L313.5 255.8L316.0 258.0L318.5 261.5L321.0 261.8L323.5 264.6L326.0 266.3L328.5 267.6L331.1 268.8L333.6 269.1L336.1 270.9L338.6 272.3L341.1 272.7L343.6 272.8L346.1 274.8L348.6 276.5L351.1 275.3L353.6 276.7L356.1 277.0L358.6 280.0L361.2 279.0L363.7 278.5L366.2 278.2L368.7 280.4L371.2 279.8L373.7 281.7L376.2 281.8L378.7 284.3L381.2 286.3L383.7 287.3L386.2 284.7L388.7 284.3L391.2 283.0L393.8 288.8L396.3 288.7L398.8 289.3L401.3 290.6L403.8 292.4L406.3 292.7L408.8 293.8L411.3 294.7L413.8 294.2L416.3 297.9L418.8 300.3L421.3 300.1L423.8 300.2L426.4 303.1L428.9 305.7L431.4 304.9L433.9 305.5L436.4 305.1L438.9 306.2L441.4 303.9L443.9 303.5L446.4 306.8L448.9 308.3L451.4 310.2L453.9 311.4L456.5 313.1L459.0 314.0L461.5 314.5L464.0 315.8L466.5 315.8L469.0 318.6L471.5 317.8L474.0 318.4L476.5 320.6L479.0 320.8L481.5 322.8L484.0 324.9L486.5 325.6L489.1 325.0L491.6 327.7L494.1 328.0L496.6 326.8L499.1 330.0L501.6 330.0L504.1 330.9L506.6 332.1L509.1 331.5L511.6 333.2L514.1 332.0L516.6 332.1L519.2 333.2L521.7 337.2L524.2 338.0L526.7 339.4L529.2 338.9L531.7 340.1L534.2 338.1L536.7 339.7L539.2 341.8L541.7 342.2L544.2 341.3L546.7 341.7L549.2 345.1L551.8 348.3L554.3 348.6L556.8 351.6L559.3 350.4L561.8 352.6L564.3 354.0L566.8 356.3L569.3 355.2L571.8 358.1L574.3 359.4L576.8 359.6L579.3 360.9L581.9 362.6L584.4 364.8L586.9 365.4L589.4 366.4L591.9 368.9L594.4 370.8L596.9 373.3L599.4 375.9L601.9 374.9L604.4 377.2L606.9 379.7L609.4 381.6L611.9 382.3L614.5 385.5L617.0 389.3L619.5 390.1L622.0 390.7L624.5 393.7L627.0 395.3L629.5 397.3L632.0 399.4L634.5 400.6L637.0 402.8L639.5 404.1L642.0 404.3"/>
<path d="M143.0 152.6L145.5 155.3L148.0 158.0L150.5 160.9L153.0 163.3L155.5 166.2L158.0 168.9L160.5 170.9L163.0 172.4L165.5 175.3L168.0 177.8L170.5 180.8L173.1 181.1L175.6 183.5L178.1 186.0L180.6 188.5L183.1 190.4L185.6 192.4L188.1 191.3L190.6 193.7L193.1 195.3L195.6 195.9L198.1 198.7L200.6 200.3L203.1 200.9L205.7 201.5L208.2 204.3L210.7 203.1L213.2 205.8L215.7 206.6L218.2 209.0L220.7 212.9L223.2 214.5L225.7 214.6L228.2 217.0L230.7 219.3L233.2 220.1L235.8 222.0L238.3 221.8L240.8 222.8L243.3 223.1L245.8 223.5L248.3 224.9L250.8 225.3L253.3 227.0L255.8 231.3L258.3 232.6L260.8 232.9L263.3 235.9L265.8 238.0L268.4 236.9L270.9 237.4L273.4 241.2L275.9 242.0L278.4 243.3L280.9 243.9L283.4 244.2L285.9 247.7L288.4 248.0L290.9 250.4L293.4 253.9L295.9 255.0L298.5 255.4L301.0 257.2L303.5 258.8L306.0 259.1L308.5 260.8L311.0 260.6L313.5 260.5L316.0 262.4L318.5 262.7L321.0 264.7L323.5 267.0L326.0 269.2L328.5 273.0L331.1 272.4L333.6 273.3L336.1 274.3L338.6 274.8L341.1 279.3L343.6 279.0L346.1 280.1L348.6 281.3L351.1 285.6L353.6 285.4L356.1 285.2L358.6 288.1L361.2 288.0L363.7 286.7L366.2 290.4L368.7 292.7L371.2 291.7L373.7 291.9L376.2 293.8L378.7 294.3L381.2 294.4L383.7 295.2L386.2 299.6L388.7 301.6L391.2 300.6L393.8 301.5L396.3 302.7L398.8 303.2L401.3 304.1L403.8 307.1L406.3 306.2L408.8 305.9L411.3 306.8L413.8 306.9L416.3 307.5L418.8 308.1L421.3 308.1L423.8 310.9L426.4 310.5L428.9 312.9L431.4 312.0L433.9 311.6L436.4 313.1L438.9 313.5L441.4 315.4L443.9 316.5L446.4 319.3L448.9 315.0L451.4 315.2L453.9 316.8L456.5 317.8L459.0 318.9L461.5 323.0L464.0 319.9L466.5 322.0L469.0 322.6L471.5 323.6L474.0 325.9L476.5 326.2L479.0 327.9L481.5 330.0L484.0 331.5L486.5 329.2L489.1 329.9L491.6 330.1L494.1 331.4L496.6 333.3L499.1 337.7L501.6 337.5L504.1 338.3L506.6 339.6L509.1 342.8L511.6 342.8L514.1 344.6L516.6 346.7L519.2 348.2L521.7 346.5L524.2 347.1L526.7 350.4L529.2 350.0L531.7 352.2L534.2 352.5L536.7 355.6L539.2 357.4L541.7 357.2L544.2 359.3L546.7 360.1L549.2 361.8L551.8 365.5L554.3 366.9L556.8 368.4L559.3 371.3L561.8 371.7L564.3 374.0L566.8 374.8L569.3 375.7L571.8 376.1L574.3 376.4L576.8 376.9L579.3 377.9L581.9 380.9L584.4 383.0L586.9 383.3L589.4 386.5L591.9 386.7L594.4 387.8L596.9 387.8L599.4 389.1L601.9 392.5L604.4 394.5L606.9 394.9L609.4 398.0L611.9 398.9L614.5 400.1L617.0 402.6L619.5 403.9L622.0 404.4L624.5 404.4L627.0 407.9L629.5 406.1L632.0 407.9L634.5 408.2L637.0 410.4L639.5 413.9L642.0 415.1"/>
<path d="M143.0 152.6L145.5 155.5L148.0 158.7L150.5 161.7L153.0 164.4L155.5 166.7L158.0 169.2L160.5 172.0L163.0 174.4L165.5 176.9L168.0 178.6L170.5 180.2L173.1 182.2L175.6 185.6L178.1 187.2L180.6 193.0L183.1 194.8L185.6 196.8L188.1 199.2L190.6 198.9L193.1 199.4L195.6 201.5L198.1 204.3L200.6 206.5L203.1 209.7L205.7 211.7L208.2 213.1L210.7 214.6L213.2 215.0L215.7 216.5L218.2 216.5L220.7 217.0L223.2 219.4L225.7 218.3L228.2 221.8L230.7 224.9L233.2 224.5L235.8 226.3L238.3 227.2L240.8 227.1L243.3 229.2L245.8 231.3L248.3 233.7L250.8 234.1L253.3 235.6L255.8 236.2L258.3 239.1L260.8 240.2L263.3 242.6L265.8 242.8L268.4 244.6L270.9 245.1L273.4 246.3L275.9 249.8L278.4 250.9L280.9 252.4L283.4 254.8L285.9 255.1L288.4 259.2L290.9 258.9L293.4 260.0L295.9 264.2L298.5 262.7L301.0 266.6L303.5 267.8L306.0 269.3L308.5 269.0L311.0 270.8L313.5 270.9L316.0 274.1L318.5 275.1L321.0 275.8L323.5 277.0L326.0 278.7L328.5 281.5L331.1 283.0L333.6 283.2L336.1 283.8L338.6 284.6L341.1 287.8L343.6 289.8L346.1 289.6L348.6 289.6L351.1 292.0L353.6 293.3L356.1 295.9L358.6 297.2L361.2 299.1L363.7 301.2L366.2 303.2L368.7 303.3L371.2 305.1L373.7 305.0L376.2 304.8L378.7 306.8L381.2 309.6L383.7 311.8L386.2 311.8L388.7 310.3L391.2 312.2L393.8 313.1L396.3 314.9L398.8 316.8L401.3 316.5L403.8 316.3L406.3 316.9L408.8 317.3L411.3 317.4L413.8 319.2L416.3 319.4L418.8 320.3L421.3 321.1L423.8 321.4L426.4 323.3L428.9 323.4L431.4 324.2L433.9 325.9L436.4 326.1L438.9 325.0L441.4 325.7L443.9 326.5L446.4 328.5L448.9 331.0L451.4 331.1L453.9 331.1L456.5 333.2L459.0 332.2L461.5 333.2L464.0 334.3L466.5 334.7L469.0 335.1L471.5 336.2L474.0 338.7L476.5 339.4L479.0 338.9L481.5 340.0L484.0 341.9L486.5 344.2L489.1 344.9L491.6 345.0L494.1 346.8L496.6 347.7L499.1 347.8L501.6 347.4L504.1 348.5L506.6 350.6L509.1 349.9L511.6 349.4L514.1 352.0L516.6 351.6L519.2 352.1L521.7 354.2L524.2 355.8L526.7 357.5L529.2 359.0L531.7 360.8L534.2 361.6L536.7 361.7L539.2 360.0L541.7 364.2L544.2 366.6L546.7 368.2L549.2 368.9L551.8 368.8L554.3 370.8L556.8 371.9L559.3 371.5L561.8 374.6L564.3 374.0L566.8 375.4L569.3 379.2L571.8 378.9L574.3 380.5L576.8 382.9L579.3 383.6L581.9 383.0L584.4 384.2L586.9 386.0L589.4 386.0L591.9 389.9L594.4 391.4L596.9 393.2L599.4 394.4L601.9 395.7L604.4 396.3L606.9 395.9L609.4 398.8L611.9 400.3L614.5 403.5L617.0 402.8L619.5 404.6L622.0 408.5L624.5 407.3L627.0 407.4L629.5 409.8L632.0 413.4L634.5 412.8L637.0 414.6L639.5 415.9L642.0 416.9"/>
<path d="M143.0 152.6L145.5 155.8L148.0 159.0L150.5 161.7L153.0 164.6L155.5 167.7L158.0 170.0L160.5 172.7L163.0 175.6L165.5 177.2L168.0 182.0L170.5 183.2L173.1 186.2L175.6 188.8L178.1 190.8L180.6 194.9L183.1 196.9L185.6 197.9L188.1 201.7L190.6 203.9L193.1 204.1L195.6 204.5L198.1 208.2L200.6 209.9L203.1 209.9L205.7 213.0L208.2 213.1L210.7 214.6L213.2 216.0L215.7 216.0L218.2 219.7L220.7 225.6L223.2 226.2L225.7 226.8L228.2 227.0L230.7 228.0L233.2 229.5L235.8 231.4L238.3 231.8L240.8 233.3L243.3 234.5L245.8 236.7L248.3 239.0L250.8 241.1L253.3 241.1L255.8 241.7L258.3 244.1L260.8 244.9L263.3 246.0L265.8 248.0L268.4 249.7L270.9 252.3L273.4 251.4L275.9 254.3L278.4 254.6L280.9 256.8L283.4 256.3L285.9 258.1L288.4 259.1L290.9 263.1L293.4 262.8L295.9 265.7L298.5 265.7L301.0 266.1L303.5 268.6L306.0 271.6L308.5 272.6L311.0 274.7L313.5 276.1L316.0 277.3L318.5 280.4L321.0 281.4L323.5 283.8L326.0 283.8L328.5 285.9L331.1 289.4L333.6 290.7L336.1 290.6L338.6 295.0L341.1 298.4L343.6 300.3L346.1 303.0L348.6 305.1L351.1 308.2L353.6 311.8L356.1 314.0L358.6 315.8L361.2 317.3L363.7 319.6L366.2 321.3L368.7 324.9L371.2 325.4L373.7 327.0L376.2 329.7L378.7 331.8L381.2 333.4L383.7 334.1L386.2 335.6L388.7 334.8L391.2 334.6L393.8 334.8L396.3 337.0L398.8 339.5L401.3 338.9L403.8 338.6L406.3 338.8L408.8 341.5L411.3 341.2L413.8 341.1L416.3 340.3L418.8 341.2L421.3 342.6L423.8 342.3L426.4 341.0L428.9 342.8L431.4 342.3L433.9 344.2L436.4 342.0L438.9 342.0L441.4 342.5L443.9 340.5L446.4 341.7L448.9 343.0L451.4 343.0L453.9 343.7L456.5 343.9L459.0 343.0L461.5 344.5L464.0 343.7L466.5 344.0L469.0 343.9L471.5 345.6L474.0 345.5L476.5 345.8L479.0 344.3L481.5 346.0L484.0 348.8L486.5 347.2L489.1 349.6L491.6 350.9L494.1 350.2L496.6 351.8L499.1 354.8L501.6 355.9L504.1 357.5L506.6 359.8L509.1 360.0L511.6 362.1L514.1 361.5L516.6 362.2L519.2 365.9L521.7 368.5L524.2 370.2L526.7 368.9L529.2 370.4L531.7 371.2L534.2 375.5L536.7 374.9L539.2 375.3L541.7 377.0L544.2 379.7L546.7 380.9L549.2 382.5L551.8 384.8L554.3 386.5L556.8 385.9L559.3 387.0L561.8 391.7L564.3 393.2L566.8 396.8L569.3 399.2L571.8 400.9L574.3 401.4L576.8 404.2L579.3 404.4L581.9 408.4L584.4 409.6L586.9 411.1L589.4 411.8L591.9 412.8L594.4 414.7L596.9 416.4L599.4 417.8L601.9 419.4L604.4 422.6L606.9 426.6L609.4 430.6L611.9 432.4L614.5 433.5L617.0 435.9L619.5 439.6L622.0 440.8L624.5 443.5L627.0 445.4L629.5 447.2L632.0 448.5L634.5 451.8L637.0 452.9L639.5 454.5L642.0 457.9"/>
<path d="M143.0 152.6L145.5 156.2L148.0 159.8L150.5 163.1L153.0 166.3L155.5 170.1L158.0 174.1L160.5 175.4L163.0 179.5L165.5 182.5L168.0 185.3L170.5 187.5L173.1 190.0L175.6 191.9L178.1 195.5L180.6 197.3L183.1 200.3L185.6 201.4L188.1 206.1L190.6 209.0L193.1 209.4L195.6 212.3L198.1 213.8L200.6 214.8L203.1 217.2L205.7 220.2L208.2 223.3L210.7 224.2L213.2 226.5L215.7 227.8L218.2 229.2L220.7 231.0L223.2 229.9L225.7 231.1L228.2 234.5L230.7 233.9L233.2 234.7L235.8 239.0L238.3 238.7L240.8 240.6L243.3 242.5L245.8 243.6L248.3 246.4L250.8 248.5L253.3 248.7L255.8 252.2L258.3 252.0L260.8 253.0L263.3 254.6L265.8 256.6L268.4 256.9L270.9 259.3L273.4 258.6L275.9 260.8L278.4 262.3L280.9 264.1L283.4 266.4L285.9 268.8L288.4 269.8L290.9 271.9L293.4 272.0L295.9 274.1L298.5 277.5L301.0 278.2L303.5 279.8L306.0 281.8L308.5 284.5L311.0 286.3L313.5 287.4L316.0 287.8L318.5 290.2L321.0 288.8L323.5 292.5L326.0 294.1L328.5 297.3L331.1 299.0L333.6 302.4L336.1 302.8L338.6 302.3L341.1 305.2L343.6 307.0L346.1 309.2L348.6 312.7L351.1 313.1L353.6 315.9L356.1 318.5L358.6 321.0L361.2 319.7L363.7 322.3L366.2 323.5L368.7 325.5L371.2 326.8L373.7 328.9L376.2 332.2L378.7 335.7L381.2 337.3L383.7 336.8L386.2 340.0L388.7 339.8L391.2 341.4L393.8 344.7L396.3 345.3L398.8 347.9L401.3 349.0L403.8 349.4L406.3 351.9L408.8 353.2L411.3 357.3L413.8 360.4L416.3 362.6L418.8 361.7L421.3 365.2L423.8 366.1L426.4 367.6L428.9 368.8L431.4 369.4L433.9 371.2L436.4 373.7L438.9 376.6L441.4 377.8L443.9 378.5L446.4 379.0L448.9 380.1L451.4 383.5L453.9 385.0L456.5 385.9L459.0 384.8L461.5 384.7L464.0 387.9L466.5 390.2L469.0 392.5L471.5 393.2L474.0 393.1L476.5 392.2L479.0 393.1L481.5 392.5L484.0 395.5L486.5 397.7L489.1 400.4L491.6 398.6L494.1 398.4L496.6 401.0L499.1 402.5L501.6 401.0L504.1 402.0L506.6 403.8L509.1 404.6L511.6 406.2L514.1 407.1L516.6 407.2L519.2 408.7L521.7 409.4L524.2 411.5L526.7 410.1L529.2 411.1L531.7 411.5L534.2 412.6L536.7 414.4L539.2 416.0L541.7 414.2L544.2 417.4L546.7 418.9L549.2 420.2L551.8 420.9L554.3 422.8L556.8 423.7L559.3 422.3L561.8 423.3L564.3 425.0L566.8 426.3L569.3 427.5L571.8 430.1L574.3 430.1L576.8 431.2L579.3 432.1L581.9 434.4L584.4 436.9L586.9 437.4L589.4 439.8L591.9 440.8L594.4 444.3L596.9 442.8L599.4 445.2L601.9 448.7L604.4 449.6L606.9 450.0L609.4 451.3L611.9 454.4L614.5 455.7L617.0 459.0L619.5 460.5L622.0 461.4L624.5 462.9L627.0 465.6L629.5 468.6L632.0 469.0L634.5 469.6L637.0 470.9L639.5 474.3L642.0 478.6"/>
<path d="M143.0 152.6L145.5 156.4L148.0 160.0L150.5 163.9L153.0 167.0L155.5 170.8L158.0 173.7L160.5 176.8L163.0 180.7L165.5 183.9L168.0 187.1L170.5 190.8L173.1 193.9L175.6 198.2L178.1 201.1L180.6 202.2L183.1 204.7L185.6 206.7L188.1 209.0L190.6 213.8L193.1 214.4L195.6 218.1L198.1 221.2L200.6 225.3L203.1 225.2L205.7 226.2L208.2 227.7L210.7 228.4L213.2 232.1L215.7 235.0L218.2 232.5L220.7 234.1L223.2 237.4L225.7 237.3L228.2 238.4L230.7 240.5L233.2 242.3L235.8 243.8L238.3 245.4L240.8 249.2L243.3 247.3L245.8 249.0L248.3 250.0L250.8 252.7L253.3 254.2L255.8 256.7L258.3 258.2L260.8 262.3L263.3 261.0L265.8 261.9L268.4 264.7L270.9 265.3L273.4 267.0L275.9 266.5L278.4 269.5L280.9 270.9L283.4 273.0L285.9 273.1L288.4 274.3L290.9 275.2L293.4 279.3L295.9 278.2L298.5 280.8L301.0 282.8L303.5 285.7L306.0 286.8L308.5 286.7L311.0 289.1L313.5 288.5L316.0 292.2L318.5 293.7L321.0 294.5L323.5 296.1L326.0 299.0L328.5 298.8L331.1 303.5L333.6 304.2L336.1 308.0L338.6 309.4L341.1 313.1L343.6 312.4L346.1 315.4L348.6 316.8L351.1 317.9L353.6 321.1L356.1 322.5L358.6 323.6L361.2 325.7L363.7 327.2L366.2 329.5L368.7 331.9L371.2 335.4L373.7 336.8L376.2 337.7L378.7 340.8L381.2 342.1L383.7 342.9L386.2 343.9L388.7 348.7L391.2 349.9L393.8 353.3L396.3 353.0L398.8 353.4L401.3 357.7L403.8 358.5L406.3 359.7L408.8 361.1L411.3 361.7L413.8 365.2L416.3 365.2L418.8 368.2L421.3 368.5L423.8 373.7L426.4 375.0L428.9 376.9L431.4 375.4L433.9 377.6L436.4 378.4L438.9 379.2L441.4 380.4L443.9 383.6L446.4 385.1L448.9 386.0L451.4 387.0L453.9 388.1L456.5 389.4L459.0 391.1L461.5 391.6L464.0 392.7L466.5 392.4L469.0 395.3L471.5 398.2L474.0 399.0L476.5 402.2L479.0 401.9L481.5 403.2L484.0 405.7L486.5 406.5L489.1 406.1L491.6 407.7L494.1 408.2L496.6 410.6L499.1 412.0L501.6 412.0L504.1 413.3L506.6 415.9L509.1 417.0L511.6 417.7L514.1 417.3L516.6 417.1L519.2 417.2L521.7 419.7L524.2 419.1L526.7 421.0L529.2 423.9L531.7 422.2L534.2 424.0L536.7 424.0L539.2 425.4L541.7 427.5L544.2 427.5L546.7 427.6L549.2 429.3L551.8 431.6L554.3 432.7L556.8 433.3L559.3 436.2L561.8 436.3L564.3 436.7L566.8 439.5L569.3 444.0L571.8 444.2L574.3 445.5L576.8 445.9L579.3 447.4L581.9 448.4L584.4 451.4L586.9 452.7L589.4 454.2L591.9 457.8L594.4 457.9L596.9 461.6L599.4 463.2L601.9 464.1L604.4 466.6L606.9 468.6L609.4 471.3L611.9 473.1L614.5 477.5L617.0 479.9L619.5 482.3L622.0 481.9L624.5 483.7L627.0 487.4L629.5 489.8L632.0 491.5L634.5 493.3L637.0 496.7L639.5 496.1L642.0 498.1"/>
<path d="M143.0 152.6L145.5 156.6L148.0 160.3L150.5 164.1L153.0 168.4L155.5 171.9L158.0 175.6L160.5 179.2L163.0 183.1L165.5 187.9L168.0 189.6L170.5 192.7L173.1 197.5L175.6 202.3L178.1 203.8L180.6 207.6L183.1 210.1L185.6 212.5L188.1 212.7L190.6 213.6L193.1 217.2L195.6 219.9L198.1 222.3L200.6 223.3L203.1 227.9L205.7 229.3L208.2 234.3L210.7 234.5L213.2 236.1L215.7 238.2L218.2 238.8L220.7 239.2L223.2 240.7L225.7 242.9L228.2 244.4L230.7 248.8L233.2 249.1L235.8 251.6L238.3 253.8L240.8 255.2L243.3 255.3L245.8 258.1L248.3 261.0L250.8 262.5L253.3 264.1L255.8 263.3L258.3 264.9L260.8 267.8L263.3 270.6L265.8 273.7L268.4 275.1L270.9 277.2L273.4 277.9L275.9 281.0L278.4 283.7L280.9 285.1L283.4 288.0L285.9 289.0L288.4 290.1L290.9 291.9L293.4 296.3L295.9 295.4L298.5 297.8L301.0 299.4L303.5 301.6L306.0 301.8L308.5 305.3L311.0 307.9L313.5 309.1L316.0 310.4L318.5 312.4L321.0 315.4L323.5 314.9L326.0 318.8L328.5 319.7L331.1 322.3L333.6 322.5L336.1 326.6L338.6 327.7L341.1 330.7L343.6 330.4L346.1 330.9L348.6 334.0L351.1 335.9L353.6 337.3L356.1 339.8L358.6 341.0L361.2 341.4L363.7 340.6L366.2 340.4L368.7 344.5L371.2 347.3L373.7 347.9L376.2 350.6L378.7 352.0L381.2 353.8L383.7 356.6L386.2 355.9L388.7 358.5L391.2 360.9L393.8 362.2L396.3 364.0L398.8 364.3L401.3 366.7L403.8 369.4L406.3 371.9L408.8 372.3L411.3 375.0L413.8 376.8L416.3 379.0L418.8 380.1L421.3 382.4L423.8 383.9L426.4 388.1L428.9 388.1L431.4 390.5L433.9 391.3L436.4 390.8L438.9 393.6L441.4 396.7L443.9 398.7L446.4 400.6L448.9 400.5L451.4 402.5L453.9 402.4L456.5 406.8L459.0 409.6L461.5 408.8L464.0 409.9L466.5 410.2L469.0 411.5L471.5 413.3L474.0 414.1L476.5 416.0L479.0 419.0L481.5 420.1L484.0 422.6L486.5 423.5L489.1 425.0L491.6 424.8L494.1 427.8L496.6 427.7L499.1 429.1L501.6 429.4L504.1 432.3L506.6 432.6L509.1 435.3L511.6 438.9L514.1 439.6L516.6 437.6L519.2 440.8L521.7 442.2L524.2 444.1L526.7 445.4L529.2 447.6L531.7 449.3L534.2 449.5L536.7 448.8L539.2 450.4L541.7 452.8L544.2 451.7L546.7 454.0L549.2 453.6L551.8 457.4L554.3 460.9L556.8 462.3L559.3 462.2L561.8 464.1L564.3 466.5L566.8 468.7L569.3 470.3L571.8 471.4L574.3 470.2L576.8 471.1L579.3 473.0L581.9 474.1L584.4 472.9L586.9 475.0L589.4 476.1L591.9 478.4L594.4 480.5L596.9 480.1L599.4 481.3L601.9 483.6L604.4 484.1L606.9 486.2L609.4 487.0L611.9 488.2L614.5 491.3L617.0 492.5L619.5 493.2L622.0 496.7L624.5 497.0L627.0 498.1L629.5 499.4L632.0 504.3L634.5 504.7L637.0 505.9L639.5 505.7L642.0 507.6"/>
<path d="M143.0 152.6L145.5 156.7L148.0 160.9L150.5 165.4L153.0 170.0L155.5 173.8L158.0 178.5L160.5 181.4L163.0 185.6L165.5 189.3L168.0 191.7L170.5 196.2L173.1 198.1L175.6 201.1L178.1 204.7L180.6 206.8L183.1 212.0L185.6 214.3L188.1 215.8L190.6 219.6L193.1 222.4L195.6 223.8L198.1 226.3L200.6 230.3L203.1 233.4L205.7 233.2L208.2 237.0L210.7 240.0L213.2 242.7L215.7 243.2L218.2 243.9L220.7 246.0L223.2 247.3L225.7 249.3L228.2 250.8L230.7 252.8L233.2 254.5L235.8 256.9L238.3 259.2L240.8 260.9L243.3 262.4L245.8 266.6L248.3 269.0L250.8 270.7L253.3 270.9L255.8 273.7L258.3 275.2L260.8 277.7L263.3 279.6L265.8 284.2L268.4 284.7L270.9 284.6L273.4 287.9L275.9 290.6L278.4 293.2L280.9 290.9L283.4 292.5L285.9 294.3L288.4 295.2L290.9 298.6L293.4 301.9L295.9 305.0L298.5 307.4L301.0 308.5L303.5 311.6L306.0 312.7L308.5 310.5L311.0 312.9L313.5 314.5L316.0 317.5L318.5 318.9L321.0 320.6L323.5 324.2L326.0 324.4L328.5 324.6L331.1 327.2L333.6 329.8L336.1 331.0L338.6 332.5L341.1 333.3L343.6 333.6L346.1 335.0L348.6 336.2L351.1 340.1L353.6 341.2L356.1 344.4L358.6 345.0L361.2 345.1L363.7 347.1L366.2 348.9L368.7 351.9L371.2 350.3L373.7 351.9L376.2 354.5L378.7 355.3L381.2 357.4L383.7 358.8L386.2 362.4L388.7 364.8L391.2 363.1L393.8 363.5L396.3 365.3L398.8 368.0L401.3 370.1L403.8 371.7L406.3 374.6L408.8 377.4L411.3 378.8L413.8 379.9L416.3 381.7L418.8 382.5L421.3 385.7L423.8 388.3L426.4 388.5L428.9 392.3L431.4 393.4L433.9 395.9L436.4 397.2L438.9 398.5L441.4 401.1L443.9 401.4L446.4 403.3L448.9 404.1L451.4 407.3L453.9 409.1L456.5 410.9L459.0 412.4L461.5 415.5L464.0 417.6L466.5 419.1L469.0 420.4L471.5 424.7L474.0 427.6L476.5 427.1L479.0 430.4L481.5 432.5L484.0 434.3L486.5 436.4L489.1 436.5L491.6 442.0L494.1 445.6L496.6 446.2L499.1 447.5L501.6 449.4L504.1 450.5L506.6 453.5L509.1 455.5L511.6 456.3L514.1 458.4L516.6 460.4L519.2 462.4L521.7 464.8L524.2 468.1L526.7 469.6L529.2 469.8L531.7 474.4L534.2 475.3L536.7 478.9L539.2 480.3L541.7 482.1L544.2 482.1L546.7 483.8L549.2 484.8L551.8 486.3L554.3 488.2L556.8 488.7L559.3 490.8L561.8 489.8L564.3 490.2L566.8 492.6L569.3 494.5L571.8 496.6L574.3 498.9L576.8 499.2L579.3 500.2L581.9 500.5L584.4 501.1L586.9 501.5L589.4 502.3L591.9 502.4L594.4 503.3L596.9 505.3L599.4 506.4L601.9 508.1L604.4 507.4L606.9 507.5L609.4 508.8L611.9 508.3L614.5 508.2L617.0 510.2L619.5 510.4L622.0 512.1L624.5 512.3L627.0 512.0L629.5 511.3L632.0 513.6L634.5 513.6L637.0 512.7L639.5 511.5L642.0 511.2"/>
<path d="M143.0 152.6L145.5 157.2L148.0 161.4L150.5 165.9L153.0 170.2L155.5 173.1L158.0 177.0L160.5 182.0L163.0 184.9L165.5 190.2L168.0 194.1L170.5 196.4L173.1 202.4L175.6 205.5L178.1 210.5L180.6 213.3L183.1 215.1L185.6 219.6L188.1 224.2L190.6 227.4L193.1 227.5L195.6 230.9L198.1 231.7L200.6 233.9L203.1 238.4L205.7 238.7L208.2 244.4L210.7 243.8L213.2 244.7L215.7 248.5L218.2 250.4L220.7 252.4L223.2 253.5L225.7 256.9L228.2 259.2L230.7 261.0L233.2 262.0L235.8 262.8L238.3 266.0L240.8 266.2L243.3 269.2L245.8 273.4L248.3 276.9L250.8 278.8L253.3 278.4L255.8 283.1L258.3 287.3L260.8 289.9L263.3 294.0L265.8 297.2L268.4 297.0L270.9 299.9L273.4 302.4L275.9 307.5L278.4 310.9L280.9 312.9L283.4 315.7L285.9 318.8L288.4 319.8L290.9 322.1L293.4 324.5L295.9 326.6L298.5 328.8L301.0 331.7L303.5 332.4L306.0 333.8L308.5 337.7L311.0 341.5L313.5 344.7L316.0 342.9L318.5 345.0L321.0 345.2L323.5 346.3L326.0 347.7L328.5 349.7L331.1 351.5L333.6 349.4L336.1 350.8L338.6 354.0L341.1 355.0L343.6 353.9L346.1 354.4L348.6 355.2L351.1 358.2L353.6 361.0L356.1 359.6L358.6 361.0L361.2 361.3L363.7 362.8L366.2 363.0L368.7 362.5L371.2 363.2L373.7 363.9L376.2 367.3L378.7 367.0L381.2 368.8L383.7 368.7L386.2 369.3L388.7 371.3L391.2 372.1L393.8 376.1L396.3 378.2L398.8 377.2L401.3 379.4L403.8 382.5L406.3 381.9L408.8 383.4L411.3 387.4L413.8 387.8L416.3 390.6L418.8 392.4L421.3 394.6L423.8 395.5L426.4 398.1L428.9 400.1L431.4 404.9L433.9 407.2L436.4 409.0L438.9 410.8L441.4 413.7L443.9 413.7L446.4 415.4L448.9 417.4L451.4 419.7L453.9 421.0L456.5 425.2L459.0 427.3L461.5 431.4L464.0 433.0L466.5 434.4L469.0 437.0L471.5 439.3L474.0 440.6L476.5 443.2L479.0 446.3L481.5 447.0L484.0 450.3L486.5 451.3L489.1 454.1L491.6 455.4L494.1 456.7L496.6 459.1L499.1 459.7L501.6 460.4L504.1 463.5L506.6 465.9L509.1 467.0L511.6 472.3L514.1 474.1L516.6 474.6L519.2 477.1L521.7 479.4L524.2 480.3L526.7 481.7L529.2 481.4L531.7 484.3L534.2 488.6L536.7 490.7L539.2 492.4L541.7 492.0L544.2 491.8L546.7 494.5L549.2 495.8L551.8 496.4L554.3 497.0L556.8 499.1L559.3 500.4L561.8 500.1L564.3 500.8L566.8 499.8L569.3 500.2L571.8 502.8L574.3 503.4L576.8 503.7L579.3 505.5L581.9 508.0L584.4 507.3L586.9 507.9L589.4 508.6L591.9 512.5L594.4 513.3L596.9 513.1L599.4 511.4L601.9 513.2L604.4 514.3L606.9 514.3L609.4 513.8L611.9 514.2L614.5 513.2L617.0 514.3L619.5 515.0L622.0 515.0L624.5 515.9L627.0 515.0L629.5 517.7L632.0 517.9L634.5 516.8L637.0 518.5L639.5 519.2L642.0 518.4"/>
</g>
<path clip-path="url(#c0)" d="M142.9 153.1L149.7 157.6L159.5 163.5L169.2 170.5L173.1 171.8L176.0 172.0L180.9 174.7L184.7 176.3L188.6 179.0L198.4 185.9L202.3 189.3L207.1 189.3L213.0 193.6L217.8 196.1L220.7 195.6L227.5 200.4L232.4 203.9L234.9 206.7L238.8 209.1L242.6 212.5L245.6 214.9L249.5 216.4L257.2 220.8L262.1 223.2L268.9 227.1L274.7 230.5L277.7 233.9L282.5 236.8L285.4 240.7L289.3 240.7L294.2 240.2L300.0 243.6L304.9 247.5L309.8 249.5L314.6 252.9L320.0 253.9L322.9 253.8L326.8 256.7L330.7 260.1L333.1 257.6L337.5 261.5L340.9 261.5L345.3 265.4L350.2 268.8L355.0 267.9L360.4 272.7L364.7 270.8L368.2 269.3L372.5 272.2L375.9 277.1L381.3 276.9L388.1 281.0L395.9 285.4L400.7 287.8L405.6 293.6L411.4 296.1L415.8 298.8L420.7 301.2L427.5 299.7L433.3 301.7L439.2 305.1L443.1 304.1L448.9 307.0L453.8 304.1L460.6 309.9L468.4 309.0L478.1 314.3L483.9 313.8L488.8 318.7L492.7 317.2L497.5 320.2L503.4 323.1L508.8 319.7L513.6 324.1L517.5 324.1L521.4 327.0L528.2 326.5L532.1 330.4L537.0 335.3L542.8 335.5L548.6 338.2L551.6 337.7L558.4 343.1L563.2 345.0L568.1 350.9L573.9 355.7L581.7 348.9L587.5 351.3L593.4 351.3L596.8 352.8L601.6 356.2L608.4 358.9L616.5 353.8L624.0 358.3L633.6 364.4L637.7 363.4L642.0 365.4" fill="none" stroke="#000" stroke-width="4.17" stroke-linejoin="round" stroke-linecap="square"/>
<g clip-path="url(#c1)" fill="none" stroke="rgb(255,127,14)" stroke-opacity="0.150" stroke-width="3.125" stroke-linejoin="round" stroke-linecap="square">
<path d="M844.0 520.6L846.5 513.9L849.0 507.6L851.5 501.2L854.0 494.9L856.5 488.4L859.0 479.6L861.5 475.2L864.0 466.8L866.5 464.2L869.0 457.5L871.5 452.2L874.1 444.9L876.6 440.3L879.1 435.3L881.6 427.7L884.1 427.5L886.6 428.5L889.1 423.1L891.6 417.3L894.1 414.8L896.6 411.0L899.1 405.2L901.6 402.2L904.1 398.3L906.7 392.2L909.2 389.5L911.7 387.1L914.2 382.6L916.7 377.8L919.2 373.5L921.7 374.8L924.2 371.9L926.7 371.2L929.2 374.9L931.7 371.7L934.2 369.8L936.8 374.1L939.3 371.2L941.8 367.4L944.3 360.4L946.8 358.3L949.3 353.9L951.8 350.9L954.3 352.2L956.8 353.0L959.3 345.7L961.8 350.1L964.3 346.9L966.8 325.0L969.4 319.6L971.9 310.6L974.4 313.4L976.9 319.2L979.4 322.6L981.9 319.9L984.4 310.2L986.9 299.3L989.4 295.2L991.9 286.3L994.4 285.4L996.9 277.4L999.5 274.4L1002.0 272.6L1004.5 276.3L1007.0 282.3L1009.5 273.4L1012.0 269.7L1014.5 250.6L1017.0 229.2L1019.5 232.8L1022.0 242.7L1024.5 242.0L1027.0 250.7L1029.5 240.3L1032.1 231.9L1034.6 230.6L1037.1 236.0L1039.6 245.7L1042.1 250.4L1044.6 250.4L1047.1 257.7L1049.6 253.3L1052.1 256.7L1054.6 269.4L1057.1 272.3L1059.6 270.9L1062.2 272.8L1064.7 283.0L1067.2 284.4L1069.7 280.0L1072.2 277.9L1074.7 277.2L1077.2 282.2L1079.7 284.3L1082.2 279.6L1084.7 283.6L1087.2 288.2L1089.7 284.5L1092.2 289.4L1094.8 285.5L1097.3 273.6L1099.8 270.2L1102.3 264.0L1104.8 276.9L1107.3 288.6L1109.8 296.1L1112.3 299.7L1114.8 292.7L1117.3 289.4L1119.8 291.0L1122.3 296.6L1124.8 301.6L1127.4 291.2L1129.9 289.7L1132.4 276.3L1134.9 263.2L1137.4 263.5L1139.9 265.6L1142.4 258.3L1144.9 254.7L1147.4 245.3L1149.9 244.7L1152.4 235.8L1154.9 236.1L1157.5 228.4L1160.0 231.7L1162.5 234.9L1165.0 229.9L1167.5 228.2L1170.0 218.5L1172.5 210.4L1175.0 198.4L1177.5 189.9L1180.0 195.5L1182.5 197.8L1185.0 189.0L1187.5 182.3L1190.1 169.6L1192.6 163.7L1195.1 154.9L1197.6 160.8L1200.1 156.5L1202.6 168.6L1205.1 179.8L1207.6 186.2L1210.1 184.6L1212.6 193.9L1215.1 201.6L1217.6 197.6L1220.2 192.9L1222.7 185.9L1225.2 179.0L1227.7 187.1L1230.2 191.3L1232.7 188.8L1235.2 185.9L1237.7 173.6L1240.2 165.3L1242.7 154.8L1245.2 169.9L1247.7 177.8L1250.2 188.0L1252.8 195.1L1255.3 197.2L1257.8 186.3L1260.3 183.3L1262.8 173.6L1265.3 162.4L1267.8 161.5L1270.3 164.5L1272.8 165.4L1275.3 153.3L1277.8 166.2L1280.3 178.8L1282.9 176.2L1285.4 177.2L1287.9 167.6L1290.4 158.0L1292.9 162.0L1295.4 165.7L1297.9 171.8L1300.4 182.5L1302.9 184.4L1305.4 181.6L1307.9 179.4L1310.4 170.8L1312.9 167.3L1315.5 166.4L1318.0 167.3L1320.5 165.0L1323.0 172.7L1325.5 172.1L1328.0 160.7L1330.5 164.1L1333.0 169.2L1335.5 179.7L1338.0 169.0L1340.5 172.0L1343.0 168.8"/>
<path d="M844.0 520.6L846.5 515.5L849.0 512.1L851.5 508.4L854.0 502.4L856.5 501.4L859.0 495.9L861.5 492.2L864.0 486.5L866.5 483.3L869.0 479.4L871.5 477.6L874.1 470.5L876.6 470.8L879.1 464.0L881.6 462.3L884.1 460.2L886.6 459.1L889.1 455.4L891.6 456.1L894.1 453.5L896.6 453.3L899.1 452.4L901.6 450.7L904.1 449.0L906.7 449.5L909.2 444.7L911.7 441.7L914.2 439.4L916.7 434.0L919.2 432.0L921.7 430.7L924.2 427.0L926.7 427.1L929.2 422.0L931.7 420.4L934.2 418.3L936.8 415.7L939.3 414.6L941.8 412.9L944.3 408.9L946.8 413.8L949.3 410.2L951.8 411.2L954.3 407.2L956.8 409.1L959.3 405.0L961.8 408.7L964.3 405.0L966.8 403.6L969.4 398.5L971.9 398.3L974.4 400.2L976.9 398.9L979.4 397.7L981.9 396.8L984.4 398.3L986.9 394.7L989.4 393.6L991.9 391.8L994.4 390.1L996.9 391.6L999.5 389.1L1002.0 388.0L1004.5 388.2L1007.0 386.7L1009.5 386.9L1012.0 385.7L1014.5 380.9L1017.0 380.7L1019.5 382.9L1022.0 379.3L1024.5 380.1L1027.0 376.1L1029.5 372.1L1032.1 371.4L1034.6 373.1L1037.1 372.4L1039.6 376.7L1042.1 372.4L1044.6 371.2L1047.1 370.4L1049.6 364.3L1052.1 366.4L1054.6 364.9L1057.1 367.9L1059.6 361.4L1062.2 358.7L1064.7 360.6L1067.2 358.9L1069.7 358.3L1072.2 358.0L1074.7 357.2L1077.2 355.0L1079.7 354.7L1082.2 359.8L1084.7 353.1L1087.2 354.8L1089.7 351.1L1092.2 349.0L1094.8 353.8L1097.3 350.8L1099.8 351.5L1102.3 349.3L1104.8 346.0L1107.3 342.3L1109.8 346.4L1112.3 340.8L1114.8 343.7L1117.3 339.0L1119.8 337.9L1122.3 335.0L1124.8 330.5L1127.4 326.0L1129.9 332.0L1132.4 325.1L1134.9 324.1L1137.4 328.4L1139.9 326.6L1142.4 324.9L1144.9 316.7L1147.4 316.2L1149.9 314.9L1152.4 314.2L1154.9 313.4L1157.5 312.0L1160.0 305.2L1162.5 308.0L1165.0 313.3L1167.5 318.2L1170.0 324.0L1172.5 315.2L1175.0 308.8L1177.5 298.9L1180.0 302.0L1182.5 304.8L1185.0 300.1L1187.5 302.9L1190.1 299.5L1192.6 298.0L1195.1 294.0L1197.6 290.7L1200.1 287.3L1202.6 287.2L1205.1 286.5L1207.6 290.5L1210.1 291.0L1212.6 287.2L1215.1 285.0L1217.6 281.4L1220.2 285.1L1222.7 282.1L1225.2 287.3L1227.7 294.3L1230.2 304.9L1232.7 316.8L1235.2 320.0L1237.7 317.4L1240.2 317.2L1242.7 316.5L1245.2 313.1L1247.7 299.4L1250.2 293.4L1252.8 296.8L1255.3 285.5L1257.8 280.7L1260.3 277.9L1262.8 275.5L1265.3 269.6L1267.8 274.8L1270.3 266.8L1272.8 272.3L1275.3 275.1L1277.8 277.9L1280.3 273.8L1282.9 270.6L1285.4 267.1L1287.9 267.4L1290.4 263.3L1292.9 257.3L1295.4 250.6L1297.9 246.7L1300.4 244.4L1302.9 236.0L1305.4 236.8L1307.9 232.9L1310.4 232.7L1312.9 235.8L1315.5 243.2L1318.0 251.7L1320.5 254.2L1323.0 251.6L1325.5 257.1L1328.0 247.8L1330.5 240.8L1333.0 231.4L1335.5 228.9L1338.0 233.1L1340.5 244.1L1343.0 247.5"/>
<path d="M844.0 520.6L846.5 517.4L849.0 514.6L851.5 512.2L854.0 509.6L856.5 509.4L859.0 506.5L861.5 502.1L864.0 500.0L866.5 500.8L869.0 496.5L871.5 494.9L874.1 489.1L876.6 487.4L879.1 486.1L881.6 484.1L884.1 482.4L886.6 481.2L889.1 481.0L891.6 473.8L894.1 473.6L896.6 473.7L899.1 471.5L901.6 471.5L904.1 467.5L906.7 464.2L909.2 461.0L911.7 462.8L914.2 457.1L916.7 456.0L919.2 455.5L921.7 455.9L924.2 452.7L926.7 448.8L929.2 450.4L931.7 445.4L934.2 443.7L936.8 438.7L939.3 441.8L941.8 441.8L944.3 435.7L946.8 436.8L949.3 438.4L951.8 434.6L954.3 429.5L956.8 431.3L959.3 433.0L961.8 425.6L964.3 430.0L966.8 428.0L969.4 429.3L971.9 423.1L974.4 426.0L976.9 424.4L979.4 424.5L981.9 421.6L984.4 422.6L986.9 418.7L989.4 415.7L991.9 412.1L994.4 408.4L996.9 411.5L999.5 410.6L1002.0 410.3L1004.5 408.9L1007.0 409.8L1009.5 408.3L1012.0 405.0L1014.5 407.5L1017.0 412.1L1019.5 403.0L1022.0 400.4L1024.5 402.0L1027.0 397.4L1029.5 400.8L1032.1 395.2L1034.6 390.4L1037.1 388.4L1039.6 393.4L1042.1 383.0L1044.6 385.5L1047.1 376.7L1049.6 382.5L1052.1 381.8L1054.6 381.0L1057.1 384.7L1059.6 376.3L1062.2 376.4L1064.7 372.9L1067.2 372.0L1069.7 363.4L1072.2 366.4L1074.7 360.7L1077.2 364.7L1079.7 363.0L1082.2 358.1L1084.7 357.9L1087.2 357.0L1089.7 355.2L1092.2 364.2L1094.8 353.2L1097.3 347.3L1099.8 345.5L1102.3 349.2L1104.8 351.3L1107.3 355.1L1109.8 357.7L1112.3 355.6L1114.8 354.6L1117.3 349.9L1119.8 356.1L1122.3 359.9L1124.8 355.2L1127.4 357.0L1129.9 352.3L1132.4 353.1L1134.9 354.0L1137.4 357.4L1139.9 349.3L1142.4 352.6L1144.9 357.1L1147.4 356.5L1149.9 357.6L1152.4 345.2L1154.9 347.5L1157.5 350.0L1160.0 349.2L1162.5 342.0L1165.0 352.3L1167.5 351.6L1170.0 341.0L1172.5 341.8L1175.0 342.6L1177.5 345.0L1180.0 342.9L1182.5 333.1L1185.0 329.2L1187.5 329.6L1190.1 331.1L1192.6 323.5L1195.1 318.1L1197.6 319.7L1200.1 316.6L1202.6 319.5L1205.1 315.1L1207.6 314.6L1210.1 299.9L1212.6 296.6L1215.1 294.1L1217.6 296.7L1220.2 302.4L1222.7 301.7L1225.2 305.2L1227.7 300.8L1230.2 307.6L1232.7 309.8L1235.2 299.2L1237.7 299.0L1240.2 301.5L1242.7 309.5L1245.2 312.7L1247.7 319.1L1250.2 306.8L1252.8 311.0L1255.3 312.0L1257.8 311.8L1260.3 312.9L1262.8 305.1L1265.3 313.5L1267.8 313.7L1270.3 310.4L1272.8 321.5L1275.3 316.2L1277.8 318.7L1280.3 315.5L1282.9 310.6L1285.4 313.6L1287.9 317.8L1290.4 313.0L1292.9 317.5L1295.4 323.9L1297.9 323.0L1300.4 315.1L1302.9 309.1L1305.4 313.8L1307.9 303.6L1310.4 300.4L1312.9 310.7L1315.5 306.7L1318.0 304.4L1320.5 298.3L1323.0 309.3L1325.5 313.0L1328.0 296.9L1330.5 294.1L1333.0 285.9L1335.5 284.7L1338.0 286.7L1340.5 285.1L1343.0 275.0"/>
<path d="M844.0 520.6L846.5 519.7L849.0 517.4L851.5 515.5L854.0 512.8L856.5 509.7L859.0 505.9L861.5 503.2L864.0 499.8L866.5 497.9L869.0 496.2L871.5 496.7L874.1 491.7L876.6 492.0L879.1 486.7L881.6 491.7L884.1 486.5L886.6 484.8L889.1 486.1L891.6 481.6L894.1 479.4L896.6 477.6L899.1 476.7L901.6 473.1L904.1 475.7L906.7 474.3L909.2 470.5L911.7 470.6L914.2 466.6L916.7 463.2L919.2 462.0L921.7 462.0L924.2 456.1L926.7 456.1L929.2 457.2L931.7 452.7L934.2 453.9L936.8 449.7L939.3 450.8L941.8 449.6L944.3 449.4L946.8 445.6L949.3 440.0L951.8 435.4L954.3 450.7L956.8 440.7L959.3 438.0L961.8 434.0L964.3 440.6L966.8 440.3L969.4 439.8L971.9 433.0L974.4 436.3L976.9 431.4L979.4 435.0L981.9 431.6L984.4 422.9L986.9 425.8L989.4 423.8L991.9 432.7L994.4 423.4L996.9 422.7L999.5 421.8L1002.0 419.1L1004.5 417.8L1007.0 418.9L1009.5 420.0L1012.0 417.2L1014.5 416.1L1017.0 416.0L1019.5 412.2L1022.0 412.5L1024.5 413.0L1027.0 415.8L1029.5 415.1L1032.1 413.6L1034.6 413.9L1037.1 407.6L1039.6 411.3L1042.1 406.8L1044.6 405.3L1047.1 403.3L1049.6 405.6L1052.1 401.3L1054.6 403.4L1057.1 400.2L1059.6 397.9L1062.2 399.6L1064.7 395.2L1067.2 400.3L1069.7 394.8L1072.2 393.1L1074.7 398.0L1077.2 389.5L1079.7 394.6L1082.2 392.9L1084.7 392.0L1087.2 391.6L1089.7 387.0L1092.2 394.4L1094.8 392.6L1097.3 392.1L1099.8 392.2L1102.3 392.5L1104.8 390.0L1107.3 384.3L1109.8 380.7L1112.3 379.0L1114.8 381.5L1117.3 387.6L1119.8 381.0L1122.3 382.0L1124.8 385.7L1127.4 383.3L1129.9 382.6L1132.4 379.1L1134.9 382.3L1137.4 380.4L1139.9 379.1L1142.4 379.5L1144.9 382.3L1147.4 385.2L1149.9 378.0L1152.4 381.4L1154.9 376.2L1157.5 371.2L1160.0 373.6L1162.5 376.7L1165.0 376.9L1167.5 378.1L1170.0 368.9L1172.5 378.1L1175.0 378.6L1177.5 377.6L1180.0 367.9L1182.5 371.8L1185.0 368.7L1187.5 367.1L1190.1 367.7L1192.6 361.0L1195.1 368.4L1197.6 370.0L1200.1 369.0L1202.6 370.4L1205.1 357.8L1207.6 358.3L1210.1 357.5L1212.6 352.9L1215.1 358.9L1217.6 367.4L1220.2 355.1L1222.7 356.8L1225.2 354.7L1227.7 353.7L1230.2 352.5L1232.7 353.9L1235.2 348.3L1237.7 346.7L1240.2 354.0L1242.7 349.1L1245.2 346.7L1247.7 337.9L1250.2 343.4L1252.8 345.3L1255.3 343.9L1257.8 348.2L1260.3 334.0L1262.8 340.4L1265.3 331.2L1267.8 329.7L1270.3 324.3L1272.8 333.6L1275.3 332.0L1277.8 329.2L1280.3 329.4L1282.9 319.2L1285.4 321.1L1287.9 324.4L1290.4 321.0L1292.9 321.1L1295.4 313.3L1297.9 317.2L1300.4 315.3L1302.9 315.7L1305.4 320.8L1307.9 314.6L1310.4 308.1L1312.9 309.0L1315.5 301.1L1318.0 309.6L1320.5 303.7L1323.0 300.3L1325.5 299.9L1328.0 290.1L1330.5 291.0L1333.0 288.8L1335.5 297.9L1338.0 296.2L1340.5 296.0L1343.0 285.8"/>
<path d="M844.0 520.6L846.5 518.8L849.0 515.8L851.5 513.0L854.0 512.7L856.5 510.4L859.0 508.2L861.5 503.5L864.0 501.9L866.5 500.0L869.0 497.7L871.5 497.2L874.1 493.8L876.6 491.0L879.1 494.0L881.6 491.5L884.1 486.8L886.6 489.8L889.1 487.0L891.6 484.6L894.1 476.8L896.6 481.3L899.1 479.4L901.6 480.0L904.1 480.4L906.7 473.4L909.2 476.9L911.7 475.2L914.2 472.2L916.7 465.1L919.2 471.4L921.7 469.2L924.2 468.5L926.7 463.3L929.2 465.1L931.7 465.0L934.2 466.5L936.8 460.6L939.3 454.9L941.8 456.0L944.3 454.9L946.8 457.0L949.3 456.1L951.8 456.1L954.3 458.3L956.8 459.6L959.3 455.3L961.8 449.0L964.3 450.3L966.8 449.7L969.4 449.2L971.9 448.3L974.4 447.8L976.9 441.3L979.4 445.8L981.9 446.8L984.4 446.2L986.9 444.3L989.4 445.9L991.9 438.9L994.4 440.3L996.9 442.2L999.5 439.5L1002.0 439.2L1004.5 441.7L1007.0 438.7L1009.5 435.2L1012.0 434.7L1014.5 436.5L1017.0 432.6L1019.5 433.8L1022.0 432.5L1024.5 433.0L1027.0 434.7L1029.5 434.7L1032.1 432.3L1034.6 431.5L1037.1 432.3L1039.6 427.5L1042.1 428.2L1044.6 424.0L1047.1 429.2L1049.6 427.1L1052.1 421.7L1054.6 421.8L1057.1 425.1L1059.6 424.3L1062.2 417.6L1064.7 425.3L1067.2 422.8L1069.7 421.9L1072.2 418.9L1074.7 415.9L1077.2 412.1L1079.7 415.5L1082.2 415.6L1084.7 414.4L1087.2 416.7L1089.7 415.6L1092.2 410.4L1094.8 410.0L1097.3 414.3L1099.8 407.2L1102.3 415.6L1104.8 409.3L1107.3 416.8L1109.8 411.9L1112.3 403.0L1114.8 406.1L1117.3 405.4L1119.8 402.9L1122.3 403.1L1124.8 402.7L1127.4 390.8L1129.9 399.6L1132.4 398.6L1134.9 398.8L1137.4 400.6L1139.9 398.2L1142.4 392.7L1144.9 397.2L1147.4 394.2L1149.9 394.5L1152.4 390.8L1154.9 390.8L1157.5 387.3L1160.0 394.5L1162.5 387.1L1165.0 391.0L1167.5 381.6L1170.0 385.3L1172.5 384.0L1175.0 387.4L1177.5 385.2L1180.0 391.2L1182.5 395.1L1185.0 383.1L1187.5 382.7L1190.1 375.8L1192.6 372.7L1195.1 374.2L1197.6 377.7L1200.1 377.3L1202.6 373.4L1205.1 376.3L1207.6 368.0L1210.1 365.5L1212.6 367.1L1215.1 360.4L1217.6 369.6L1220.2 366.5L1222.7 364.1L1225.2 365.6L1227.7 358.6L1230.2 360.2L1232.7 353.8L1235.2 356.9L1237.7 358.5L1240.2 364.1L1242.7 359.1L1245.2 362.1L1247.7 357.0L1250.2 348.1L1252.8 353.9L1255.3 352.6L1257.8 348.9L1260.3 353.2L1262.8 346.1L1265.3 345.9L1267.8 349.9L1270.3 351.5L1272.8 345.7L1275.3 347.3L1277.8 346.8L1280.3 348.8L1282.9 346.0L1285.4 337.3L1287.9 341.5L1290.4 350.8L1292.9 344.6L1295.4 345.2L1297.9 349.9L1300.4 347.4L1302.9 343.4L1305.4 346.6L1307.9 347.4L1310.4 345.4L1312.9 348.1L1315.5 344.5L1318.0 343.1L1320.5 344.9L1323.0 350.0L1325.5 353.2L1328.0 352.6L1330.5 359.9L1333.0 361.2L1335.5 360.4L1338.0 365.2L1340.5 369.2L1343.0 368.4"/>
<path d="M844.0 520.6L846.5 518.9L849.0 517.4L851.5 515.2L854.0 512.6L856.5 510.8L859.0 509.0L861.5 504.7L864.0 506.0L866.5 503.4L869.0 504.0L871.5 500.5L874.1 496.8L876.6 496.9L879.1 494.8L881.6 494.4L884.1 491.0L886.6 488.9L889.1 486.8L891.6 485.1L894.1 485.7L896.6 481.9L899.1 482.6L901.6 483.8L904.1 479.6L906.7 478.9L909.2 476.9L911.7 476.4L914.2 476.7L916.7 477.5L919.2 477.6L921.7 473.9L924.2 475.0L926.7 472.2L929.2 469.6L931.7 468.7L934.2 465.7L936.8 468.7L939.3 465.1L941.8 468.0L944.3 474.1L946.8 467.8L949.3 462.5L951.8 465.8L954.3 463.3L956.8 464.3L959.3 464.3L961.8 464.4L964.3 468.8L966.8 465.1L969.4 463.2L971.9 461.1L974.4 458.3L976.9 456.9L979.4 454.6L981.9 457.9L984.4 455.9L986.9 456.5L989.4 455.2L991.9 458.9L994.4 453.5L996.9 452.8L999.5 448.6L1002.0 451.1L1004.5 447.6L1007.0 446.4L1009.5 441.4L1012.0 444.3L1014.5 447.7L1017.0 447.4L1019.5 440.0L1022.0 442.3L1024.5 438.1L1027.0 433.5L1029.5 432.5L1032.1 438.9L1034.6 436.3L1037.1 432.4L1039.6 435.2L1042.1 435.8L1044.6 433.8L1047.1 435.2L1049.6 432.8L1052.1 436.4L1054.6 436.1L1057.1 433.2L1059.6 433.2L1062.2 434.6L1064.7 431.8L1067.2 432.4L1069.7 430.5L1072.2 428.9L1074.7 423.3L1077.2 423.0L1079.7 423.3L1082.2 426.3L1084.7 434.7L1087.2 426.6L1089.7 424.8L1092.2 421.2L1094.8 422.3L1097.3 422.7L1099.8 425.2L1102.3 419.2L1104.8 422.4L1107.3 422.3L1109.8 420.0L1112.3 415.6L1114.8 414.1L1117.3 415.7L1119.8 418.1L1122.3 416.2L1124.8 412.8L1127.4 414.3L1129.9 409.9L1132.4 413.7L1134.9 421.4L1137.4 412.0L1139.9 413.3L1142.4 406.5L1144.9 406.9L1147.4 407.9L1149.9 409.8L1152.4 405.9L1154.9 408.3L1157.5 399.5L1160.0 399.4L1162.5 399.3L1165.0 398.8L1167.5 397.1L1170.0 402.6L1172.5 395.9L1175.0 397.6L1177.5 395.3L1180.0 399.4L1182.5 391.9L1185.0 391.8L1187.5 390.4L1190.1 375.2L1192.6 382.2L1195.1 386.2L1197.6 388.6L1200.1 379.1L1202.6 378.1L1205.1 382.4L1207.6 374.3L1210.1 371.9L1212.6 375.7L1215.1 376.7L1217.6 379.0L1220.2 378.4L1222.7 374.1L1225.2 367.1L1227.7 365.6L1230.2 366.9L1232.7 368.3L1235.2 366.8L1237.7 368.6L1240.2 362.6L1242.7 361.1L1245.2 356.6L1247.7 367.5L1250.2 362.2L1252.8 364.3L1255.3 365.8L1257.8 362.2L1260.3 358.3L1262.8 355.3L1265.3 354.8L1267.8 348.4L1270.3 350.6L1272.8 356.5L1275.3 356.5L1277.8 358.5L1280.3 359.1L1282.9 358.9L1285.4 356.5L1287.9 356.1L1290.4 359.1L1292.9 355.2L1295.4 350.2L1297.9 357.7L1300.4 357.5L1302.9 362.2L1305.4 357.4L1307.9 352.4L1310.4 357.3L1312.9 357.9L1315.5 357.6L1318.0 368.2L1320.5 367.9L1323.0 363.0L1325.5 360.7L1328.0 366.7L1330.5 372.6L1333.0 374.6L1335.5 379.8L1338.0 379.6L1340.5 381.4L1343.0 374.4"/>
<path d="M844.0 520.6L846.5 518.4L849.0 517.2L851.5 513.9L854.0 511.8L856.5 511.8L859.0 508.3L861.5 507.3L864.0 505.2L866.5 506.1L869.0 503.7L871.5 503.1L874.1 500.0L876.6 495.5L879.1 498.6L881.6 494.8L884.1 493.6L886.6 492.2L889.1 488.4L891.6 490.2L894.1 488.3L896.6 484.5L899.1 483.0L901.6 480.5L904.1 481.9L906.7 483.1L909.2 481.8L911.7 482.7L914.2 482.1L916.7 483.3L919.2 482.4L921.7 481.6L924.2 479.8L926.7 478.2L929.2 478.0L931.7 480.3L934.2 479.2L936.8 482.5L939.3 482.2L941.8 477.5L944.3 479.4L946.8 481.5L949.3 478.1L951.8 480.6L954.3 477.2L956.8 480.5L959.3 479.3L961.8 477.0L964.3 472.8L966.8 474.2L969.4 473.0L971.9 474.5L974.4 471.7L976.9 473.1L979.4 470.7L981.9 471.5L984.4 471.4L986.9 469.1L989.4 468.1L991.9 468.2L994.4 462.3L996.9 463.0L999.5 461.3L1002.0 463.1L1004.5 458.3L1007.0 458.5L1009.5 450.7L1012.0 454.6L1014.5 452.9L1017.0 451.3L1019.5 451.2L1022.0 444.6L1024.5 444.3L1027.0 444.4L1029.5 442.7L1032.1 441.1L1034.6 444.2L1037.1 442.2L1039.6 440.3L1042.1 440.1L1044.6 443.2L1047.1 445.5L1049.6 443.8L1052.1 441.2L1054.6 434.7L1057.1 434.3L1059.6 432.8L1062.2 431.9L1064.7 437.5L1067.2 433.9L1069.7 438.2L1072.2 435.6L1074.7 433.7L1077.2 432.5L1079.7 428.2L1082.2 429.3L1084.7 433.1L1087.2 433.6L1089.7 431.7L1092.2 432.3L1094.8 430.4L1097.3 430.1L1099.8 435.6L1102.3 430.1L1104.8 422.0L1107.3 417.4L1109.8 419.5L1112.3 422.6L1114.8 425.5L1117.3 422.8L1119.8 421.8L1122.3 422.3L1124.8 416.9L1127.4 417.4L1129.9 418.1L1132.4 415.5L1134.9 412.5L1137.4 415.3L1139.9 417.5L1142.4 414.3L1144.9 404.6L1147.4 405.7L1149.9 406.7L1152.4 409.3L1154.9 406.6L1157.5 405.2L1160.0 408.8L1162.5 410.5L1165.0 406.5L1167.5 400.5L1170.0 397.3L1172.5 401.9L1175.0 398.0L1177.5 398.7L1180.0 397.7L1182.5 397.9L1185.0 398.0L1187.5 392.6L1190.1 391.5L1192.6 393.4L1195.1 392.9L1197.6 387.2L1200.1 396.3L1202.6 387.1L1205.1 392.0L1207.6 383.5L1210.1 389.4L1212.6 381.0L1215.1 387.3L1217.6 386.2L1220.2 387.7L1222.7 382.0L1225.2 383.2L1227.7 383.0L1230.2 382.0L1232.7 378.5L1235.2 383.8L1237.7 373.2L1240.2 369.9L1242.7 368.5L1245.2 378.3L1247.7 372.5L1250.2 370.5L1252.8 369.3L1255.3 369.9L1257.8 369.9L1260.3 368.6L1262.8 363.7L1265.3 369.1L1267.8 369.1L1270.3 374.7L1272.8 372.2L1275.3 369.2L1277.8 362.8L1280.3 366.4L1282.9 369.7L1285.4 375.0L1287.9 372.0L1290.4 372.6L1292.9 372.2L1295.4 376.2L1297.9 375.9L1300.4 371.8L1302.9 364.8L1305.4 374.5L1307.9 372.3L1310.4 368.4L1312.9 365.0L1315.5 362.9L1318.0 370.4L1320.5 371.9L1323.0 374.7L1325.5 379.7L1328.0 375.1L1330.5 377.5L1333.0 375.9L1335.5 374.7L1338.0 369.9L1340.5 374.4L1343.0 383.7"/>
<path d="M844.0 520.6L846.5 519.1L849.0 517.5L851.5 517.2L854.0 516.0L856.5 512.8L859.0 510.8L861.5 510.7L864.0 508.9L866.5 507.2L869.0 507.0L871.5 505.3L874.1 503.4L876.6 505.9L879.1 502.4L881.6 497.8L884.1 497.9L886.6 497.1L889.1 498.5L891.6 496.1L894.1 493.1L896.6 493.1L899.1 489.9L901.6 489.6L904.1 490.3L906.7 488.0L909.2 484.7L911.7 484.8L914.2 484.9L916.7 487.1L919.2 485.7L921.7 485.6L924.2 483.6L926.7 484.6L929.2 483.3L931.7 484.9L934.2 484.6L936.8 486.5L939.3 485.3L941.8 482.9L944.3 480.7L946.8 481.8L949.3 482.9L951.8 484.7L954.3 480.8L956.8 477.6L959.3 475.1L961.8 475.5L964.3 476.9L966.8 476.8L969.4 476.2L971.9 476.1L974.4 476.2L976.9 471.3L979.4 472.5L981.9 471.7L984.4 470.6L986.9 468.8L989.4 464.0L991.9 466.7L994.4 464.5L996.9 463.6L999.5 463.4L1002.0 461.8L1004.5 461.1L1007.0 460.1L1009.5 455.4L1012.0 452.3L1014.5 455.4L1017.0 451.6L1019.5 457.1L1022.0 449.9L1024.5 450.0L1027.0 448.8L1029.5 448.8L1032.1 445.2L1034.6 446.9L1037.1 451.6L1039.6 446.1L1042.1 439.3L1044.6 444.3L1047.1 445.2L1049.6 445.9L1052.1 441.9L1054.6 443.5L1057.1 445.2L1059.6 441.7L1062.2 441.8L1064.7 442.8L1067.2 443.6L1069.7 440.9L1072.2 441.0L1074.7 445.7L1077.2 447.2L1079.7 438.9L1082.2 444.8L1084.7 439.3L1087.2 441.2L1089.7 435.0L1092.2 435.4L1094.8 433.8L1097.3 437.0L1099.8 436.0L1102.3 435.8L1104.8 435.1L1107.3 433.8L1109.8 434.9L1112.3 432.4L1114.8 430.4L1117.3 427.4L1119.8 425.0L1122.3 424.6L1124.8 426.6L1127.4 428.6L1129.9 425.2L1132.4 429.9L1134.9 428.7L1137.4 423.9L1139.9 422.5L1142.4 420.3L1144.9 413.2L1147.4 418.5L1149.9 417.8L1152.4 411.0L1154.9 416.2L1157.5 412.9L1160.0 412.1L1162.5 406.5L1165.0 409.3L1167.5 411.1L1170.0 408.3L1172.5 408.0L1175.0 400.9L1177.5 405.7L1180.0 404.8L1182.5 403.8L1185.0 405.2L1187.5 406.3L1190.1 402.2L1192.6 403.5L1195.1 406.6L1197.6 397.1L1200.1 397.3L1202.6 391.0L1205.1 395.2L1207.6 399.9L1210.1 396.0L1212.6 390.9L1215.1 391.0L1217.6 394.4L1220.2 388.8L1222.7 387.3L1225.2 393.4L1227.7 389.3L1230.2 393.0L1232.7 390.5L1235.2 388.1L1237.7 395.8L1240.2 400.0L1242.7 395.1L1245.2 404.4L1247.7 400.5L1250.2 400.8L1252.8 400.0L1255.3 395.7L1257.8 401.8L1260.3 401.2L1262.8 402.5L1265.3 402.0L1267.8 400.2L1270.3 409.2L1272.8 406.0L1275.3 402.7L1277.8 404.7L1280.3 399.1L1282.9 402.5L1285.4 411.6L1287.9 403.2L1290.4 404.2L1292.9 398.7L1295.4 400.7L1297.9 405.0L1300.4 399.0L1302.9 396.9L1305.4 403.1L1307.9 401.9L1310.4 402.5L1312.9 402.0L1315.5 395.1L1318.0 390.8L1320.5 388.3L1323.0 395.2L1325.5 390.5L1328.0 387.1L1330.5 389.7L1333.0 391.5L1335.5 393.1L1338.0 385.7L1340.5 393.7L1343.0 387.8"/>
<path d="M844.0 520.6L846.5 519.1L849.0 517.0L851.5 516.2L854.0 515.0L856.5 514.3L859.0 514.1L861.5 513.5L864.0 511.3L866.5 509.5L869.0 506.8L871.5 503.6L874.1 504.1L876.6 502.2L879.1 501.2L881.6 499.8L884.1 499.9L886.6 498.1L889.1 501.0L891.6 499.2L894.1 495.8L896.6 495.5L899.1 496.5L901.6 492.1L904.1 492.4L906.7 490.9L909.2 490.9L911.7 489.6L914.2 489.9L916.7 490.2L919.2 490.3L921.7 486.3L924.2 488.5L926.7 487.8L929.2 486.1L931.7 486.3L934.2 489.1L936.8 486.7L939.3 484.2L941.8 486.1L944.3 484.7L946.8 485.7L949.3 485.0L951.8 486.6L954.3 483.0L956.8 481.9L959.3 484.1L961.8 485.7L964.3 482.9L966.8 483.6L969.4 481.9L971.9 479.9L974.4 475.1L976.9 480.6L979.4 479.9L981.9 471.6L984.4 474.5L986.9 471.6L989.4 468.8L991.9 467.9L994.4 469.6L996.9 467.5L999.5 465.5L1002.0 464.0L1004.5 462.1L1007.0 462.7L1009.5 455.8L1012.0 454.2L1014.5 455.8L1017.0 453.0L1019.5 454.7L1022.0 453.3L1024.5 454.3L1027.0 452.6L1029.5 453.7L1032.1 452.1L1034.6 453.2L1037.1 450.5L1039.6 445.5L1042.1 448.2L1044.6 449.0L1047.1 447.7L1049.6 451.0L1052.1 450.8L1054.6 453.2L1057.1 448.8L1059.6 447.0L1062.2 448.7L1064.7 451.8L1067.2 446.8L1069.7 448.1L1072.2 446.9L1074.7 445.6L1077.2 448.3L1079.7 448.9L1082.2 448.5L1084.7 444.4L1087.2 444.5L1089.7 439.6L1092.2 443.7L1094.8 439.7L1097.3 440.8L1099.8 443.9L1102.3 441.5L1104.8 441.2L1107.3 438.3L1109.8 446.0L1112.3 437.2L1114.8 435.3L1117.3 435.2L1119.8 442.6L1122.3 435.2L1124.8 433.8L1127.4 434.8L1129.9 425.8L1132.4 430.9L1134.9 430.5L1137.4 433.2L1139.9 433.6L1142.4 429.9L1144.9 429.9L1147.4 423.8L1149.9 419.5L1152.4 420.3L1154.9 421.5L1157.5 419.8L1160.0 421.0L1162.5 421.6L1165.0 424.9L1167.5 419.4L1170.0 415.9L1172.5 417.2L1175.0 416.3L1177.5 416.6L1180.0 419.8L1182.5 412.1L1185.0 414.1L1187.5 416.3L1190.1 416.4L1192.6 406.7L1195.1 406.8L1197.6 411.7L1200.1 408.8L1202.6 408.9L1205.1 406.8L1207.6 410.5L1210.1 408.1L1212.6 405.2L1215.1 405.4L1217.6 409.8L1220.2 408.0L1222.7 400.5L1225.2 396.3L1227.7 404.3L1230.2 399.1L1232.7 403.5L1235.2 402.2L1237.7 405.1L1240.2 402.9L1242.7 396.8L1245.2 407.5L1247.7 406.5L1250.2 405.8L1252.8 411.6L1255.3 410.8L1257.8 412.1L1260.3 408.3L1262.8 408.2L1265.3 409.4L1267.8 406.4L1270.3 410.2L1272.8 410.3L1275.3 408.0L1277.8 406.9L1280.3 410.7L1282.9 408.7L1285.4 409.8L1287.9 409.8L1290.4 408.0L1292.9 397.3L1295.4 405.3L1297.9 409.4L1300.4 405.9L1302.9 404.4L1305.4 408.8L1307.9 403.2L1310.4 409.1L1312.9 408.7L1315.5 411.0L1318.0 406.8L1320.5 405.5L1323.0 405.3L1325.5 398.7L1328.0 398.2L1330.5 404.5L1333.0 400.2L1335.5 397.3L1338.0 400.3L1340.5 404.6L1343.0 400.7"/>
<path d="M844.0 520.6L846.5 519.3L849.0 518.2L851.5 515.9L854.0 515.4L856.5 514.5L859.0 514.0L861.5 513.2L864.0 511.8L866.5 512.0L869.0 509.3L871.5 507.4L874.1 508.2L876.6 506.0L879.1 503.6L881.6 502.2L884.1 501.7L886.6 499.1L889.1 500.9L891.6 500.0L894.1 500.6L896.6 496.8L899.1 496.0L901.6 494.8L904.1 495.7L906.7 495.4L909.2 495.5L911.7 495.1L914.2 491.7L916.7 492.4L919.2 492.0L921.7 491.4L924.2 491.7L926.7 487.5L929.2 487.7L931.7 488.3L934.2 487.2L936.8 486.0L939.3 489.0L941.8 489.7L944.3 491.1L946.8 486.6L949.3 482.2L951.8 485.8L954.3 484.9L956.8 482.9L959.3 484.8L961.8 484.1L964.3 480.3L966.8 482.0L969.4 478.9L971.9 481.6L974.4 478.6L976.9 476.5L979.4 479.6L981.9 480.7L984.4 478.1L986.9 474.8L989.4 476.6L991.9 475.7L994.4 475.0L996.9 472.8L999.5 469.0L1002.0 469.3L1004.5 472.9L1007.0 469.1L1009.5 468.4L1012.0 467.7L1014.5 469.2L1017.0 467.7L1019.5 465.1L1022.0 469.1L1024.5 466.1L1027.0 465.0L1029.5 462.0L1032.1 458.7L1034.6 461.8L1037.1 460.8L1039.6 461.8L1042.1 455.9L1044.6 463.0L1047.1 461.3L1049.6 462.4L1052.1 458.1L1054.6 459.3L1057.1 459.7L1059.6 462.0L1062.2 461.9L1064.7 454.8L1067.2 457.7L1069.7 458.3L1072.2 457.3L1074.7 458.0L1077.2 459.0L1079.7 460.1L1082.2 455.1L1084.7 453.8L1087.2 455.3L1089.7 457.1L1092.2 453.4L1094.8 454.2L1097.3 450.9L1099.8 452.4L1102.3 451.8L1104.8 452.6L1107.3 454.4L1109.8 448.6L1112.3 448.8L1114.8 442.7L1117.3 444.6L1119.8 448.2L1122.3 439.4L1124.8 438.1L1127.4 429.2L1129.9 435.1L1132.4 441.1L1134.9 433.4L1137.4 433.4L1139.9 435.6L1142.4 429.2L1144.9 429.0L1147.4 425.3L1149.9 424.2L1152.4 424.7L1154.9 427.0L1157.5 425.5L1160.0 423.8L1162.5 422.4L1165.0 425.4L1167.5 424.3L1170.0 423.3L1172.5 415.6L1175.0 417.6L1177.5 415.3L1180.0 423.0L1182.5 422.0L1185.0 423.8L1187.5 417.0L1190.1 412.1L1192.6 412.5L1195.1 416.9L1197.6 414.1L1200.1 417.3L1202.6 420.3L1205.1 415.9L1207.6 418.4L1210.1 409.0L1212.6 408.6L1215.1 410.5L1217.6 411.9L1220.2 408.9L1222.7 411.3L1225.2 416.6L1227.7 417.8L1230.2 416.9L1232.7 412.3L1235.2 418.2L1237.7 417.8L1240.2 412.3L1242.7 416.8L1245.2 414.1L1247.7 416.0L1250.2 416.1L1252.8 416.8L1255.3 420.0L1257.8 424.4L1260.3 419.2L1262.8 416.5L1265.3 415.0L1267.8 416.1L1270.3 416.9L1272.8 411.1L1275.3 413.6L1277.8 421.5L1280.3 419.4L1282.9 419.7L1285.4 416.1L1287.9 421.9L1290.4 418.8L1292.9 414.6L1295.4 411.7L1297.9 414.4L1300.4 419.4L1302.9 413.0L1305.4 409.5L1307.9 403.7L1310.4 411.2L1312.9 407.8L1315.5 407.4L1318.0 405.8L1320.5 405.5L1323.0 410.6L1325.5 406.9L1328.0 408.3L1330.5 405.5L1333.0 405.4L1335.5 408.4L1338.0 409.0L1340.5 402.8L1343.0 404.3"/>
<path d="M844.0 520.6L846.5 519.7L849.0 518.1L851.5 516.5L854.0 516.3L856.5 514.6L859.0 513.8L861.5 513.4L864.0 511.4L866.5 510.2L869.0 510.1L871.5 511.2L874.1 509.3L876.6 508.1L879.1 506.3L881.6 505.0L884.1 505.9L886.6 502.8L889.1 501.2L891.6 503.1L894.1 500.1L896.6 497.9L899.1 499.1L901.6 499.9L904.1 500.9L906.7 501.5L909.2 494.6L911.7 494.9L914.2 494.5L916.7 495.1L919.2 493.0L921.7 493.4L924.2 493.6L926.7 493.3L929.2 491.1L931.7 491.9L934.2 490.0L936.8 489.1L939.3 489.6L941.8 491.3L944.3 486.7L946.8 488.2L949.3 491.0L951.8 489.6L954.3 487.5L956.8 487.9L959.3 490.2L961.8 487.4L964.3 485.1L966.8 486.7L969.4 484.9L971.9 483.1L974.4 484.9L976.9 481.9L979.4 481.3L981.9 483.8L984.4 481.8L986.9 482.8L989.4 476.5L991.9 474.2L994.4 474.3L996.9 475.1L999.5 471.0L1002.0 473.5L1004.5 472.2L1007.0 471.2L1009.5 471.6L1012.0 470.6L1014.5 467.6L1017.0 468.3L1019.5 465.9L1022.0 470.4L1024.5 467.6L1027.0 466.7L1029.5 465.3L1032.1 466.1L1034.6 466.7L1037.1 465.9L1039.6 463.3L1042.1 467.3L1044.6 465.9L1047.1 460.9L1049.6 458.2L1052.1 459.7L1054.6 460.0L1057.1 458.9L1059.6 460.0L1062.2 463.3L1064.7 466.6L1067.2 465.2L1069.7 464.9L1072.2 466.6L1074.7 469.5L1077.2 468.0L1079.7 466.0L1082.2 463.5L1084.7 460.3L1087.2 462.5L1089.7 465.0L1092.2 463.5L1094.8 460.7L1097.3 462.3L1099.8 461.0L1102.3 459.0L1104.8 454.7L1107.3 459.1L1109.8 457.4L1112.3 461.0L1114.8 457.6L1117.3 457.8L1119.8 455.9L1122.3 460.8L1124.8 461.1L1127.4 457.5L1129.9 459.5L1132.4 452.9L1134.9 455.1L1137.4 452.4L1139.9 452.1L1142.4 450.7L1144.9 452.5L1147.4 446.5L1149.9 447.4L1152.4 452.1L1154.9 443.6L1157.5 445.6L1160.0 442.7L1162.5 437.3L1165.0 443.0L1167.5 441.8L1170.0 445.3L1172.5 436.8L1175.0 439.2L1177.5 442.4L1180.0 432.6L1182.5 435.4L1185.0 435.5L1187.5 433.0L1190.1 434.7L1192.6 432.2L1195.1 426.1L1197.6 422.9L1200.1 422.8L1202.6 427.6L1205.1 423.0L1207.6 424.1L1210.1 420.6L1212.6 421.5L1215.1 421.3L1217.6 423.3L1220.2 425.9L1222.7 419.5L1225.2 415.3L1227.7 417.5L1230.2 418.8L1232.7 420.5L1235.2 423.9L1237.7 421.1L1240.2 421.9L1242.7 422.8L1245.2 427.0L1247.7 424.3L1250.2 429.0L1252.8 433.5L1255.3 428.9L1257.8 432.9L1260.3 432.2L1262.8 430.6L1265.3 436.8L1267.8 437.0L1270.3 432.8L1272.8 434.3L1275.3 431.3L1277.8 428.4L1280.3 434.7L1282.9 433.8L1285.4 438.3L1287.9 435.3L1290.4 434.4L1292.9 432.7L1295.4 432.5L1297.9 429.2L1300.4 429.3L1302.9 424.2L1305.4 421.5L1307.9 421.3L1310.4 422.8L1312.9 424.2L1315.5 423.6L1318.0 426.8L1320.5 431.2L1323.0 416.3L1325.5 422.4L1328.0 421.9L1330.5 415.8L1333.0 414.9L1335.5 406.5L1338.0 408.1L1340.5 413.5L1343.0 404.8"/>
<path d="M844.0 520.6L846.5 520.2L849.0 519.9L851.5 519.4L854.0 518.6L856.5 518.6L859.0 517.6L861.5 518.7L864.0 518.1L866.5 516.9L869.0 515.5L871.5 514.7L874.1 514.0L876.6 513.7L879.1 513.8L881.6 512.0L884.1 512.3L886.6 511.9L889.1 510.4L891.6 511.7L894.1 511.0L896.6 510.2L899.1 508.6L901.6 507.4L904.1 507.4L906.7 505.3L909.2 506.2L911.7 504.3L914.2 504.5L916.7 505.0L919.2 503.5L921.7 502.0L924.2 500.8L926.7 501.1L929.2 498.9L931.7 499.1L934.2 500.2L936.8 495.8L939.3 495.4L941.8 496.3L944.3 493.9L946.8 492.7L949.3 491.4L951.8 493.8L954.3 489.1L956.8 490.3L959.3 490.1L961.8 489.9L964.3 487.9L966.8 488.3L969.4 486.8L971.9 485.2L974.4 490.4L976.9 488.9L979.4 483.8L981.9 482.2L984.4 483.2L986.9 484.9L989.4 481.8L991.9 481.9L994.4 480.4L996.9 481.3L999.5 477.5L1002.0 475.2L1004.5 476.0L1007.0 475.8L1009.5 474.8L1012.0 476.6L1014.5 475.7L1017.0 473.7L1019.5 469.9L1022.0 472.4L1024.5 473.4L1027.0 470.2L1029.5 470.2L1032.1 467.9L1034.6 469.8L1037.1 469.6L1039.6 466.0L1042.1 468.7L1044.6 468.8L1047.1 468.8L1049.6 471.8L1052.1 471.6L1054.6 472.4L1057.1 470.0L1059.6 472.9L1062.2 469.1L1064.7 471.1L1067.2 466.9L1069.7 469.2L1072.2 467.2L1074.7 465.5L1077.2 469.6L1079.7 469.9L1082.2 470.7L1084.7 469.9L1087.2 470.0L1089.7 469.4L1092.2 468.8L1094.8 469.1L1097.3 474.1L1099.8 468.2L1102.3 464.8L1104.8 464.6L1107.3 464.8L1109.8 467.4L1112.3 469.2L1114.8 469.6L1117.3 466.2L1119.8 466.7L1122.3 469.2L1124.8 466.7L1127.4 467.0L1129.9 461.2L1132.4 463.1L1134.9 463.1L1137.4 457.6L1139.9 458.3L1142.4 459.5L1144.9 455.6L1147.4 458.3L1149.9 459.0L1152.4 457.1L1154.9 454.9L1157.5 453.5L1160.0 454.1L1162.5 455.7L1165.0 449.4L1167.5 450.7L1170.0 450.7L1172.5 447.2L1175.0 444.3L1177.5 445.6L1180.0 441.5L1182.5 444.6L1185.0 443.8L1187.5 440.7L1190.1 442.2L1192.6 439.8L1195.1 438.8L1197.6 443.3L1200.1 439.0L1202.6 432.1L1205.1 437.4L1207.6 435.2L1210.1 434.5L1212.6 441.1L1215.1 438.6L1217.6 440.3L1220.2 434.5L1222.7 433.5L1225.2 433.9L1227.7 438.6L1230.2 436.4L1232.7 432.2L1235.2 438.6L1237.7 437.4L1240.2 439.0L1242.7 441.7L1245.2 446.9L1247.7 442.8L1250.2 446.2L1252.8 439.4L1255.3 441.6L1257.8 443.0L1260.3 436.8L1262.8 438.3L1265.3 439.8L1267.8 443.9L1270.3 442.8L1272.8 442.7L1275.3 442.2L1277.8 445.1L1280.3 444.8L1282.9 444.7L1285.4 444.1L1287.9 446.4L1290.4 443.3L1292.9 443.9L1295.4 444.0L1297.9 444.9L1300.4 446.7L1302.9 445.2L1305.4 439.7L1307.9 443.9L1310.4 445.6L1312.9 446.0L1315.5 444.6L1318.0 436.8L1320.5 437.6L1323.0 440.0L1325.5 440.4L1328.0 437.4L1330.5 436.4L1333.0 432.0L1335.5 434.1L1338.0 427.0L1340.5 429.3L1343.0 432.9"/>
<path d="M844.0 520.6L846.5 520.5L849.0 520.5L851.5 519.9L854.0 519.1L856.5 518.5L859.0 517.7L861.5 518.1L864.0 517.0L866.5 517.0L869.0 516.0L871.5 516.4L874.1 515.0L876.6 515.1L879.1 514.5L881.6 515.3L884.1 514.2L886.6 513.8L889.1 514.4L891.6 512.5L894.1 511.4L896.6 511.8L899.1 510.7L901.6 512.6L904.1 511.6L906.7 511.1L909.2 510.0L911.7 506.4L914.2 509.5L916.7 508.8L919.2 506.2L921.7 505.9L924.2 506.7L926.7 508.2L929.2 507.4L931.7 506.8L934.2 506.3L936.8 504.3L939.3 503.6L941.8 503.9L944.3 501.9L946.8 502.7L949.3 503.6L951.8 499.5L954.3 500.7L956.8 500.8L959.3 501.0L961.8 503.2L964.3 499.3L966.8 502.3L969.4 501.4L971.9 503.5L974.4 499.8L976.9 499.4L979.4 498.3L981.9 498.7L984.4 496.5L986.9 495.7L989.4 496.1L991.9 497.3L994.4 494.6L996.9 494.9L999.5 494.3L1002.0 495.4L1004.5 496.4L1007.0 492.9L1009.5 492.2L1012.0 492.8L1014.5 491.8L1017.0 495.1L1019.5 496.5L1022.0 495.3L1024.5 494.2L1027.0 490.9L1029.5 489.7L1032.1 491.3L1034.6 493.4L1037.1 490.7L1039.6 490.6L1042.1 492.5L1044.6 493.1L1047.1 488.1L1049.6 488.2L1052.1 488.7L1054.6 484.2L1057.1 484.3L1059.6 485.2L1062.2 483.8L1064.7 484.8L1067.2 483.1L1069.7 479.5L1072.2 478.7L1074.7 476.3L1077.2 476.6L1079.7 480.2L1082.2 480.4L1084.7 480.6L1087.2 482.0L1089.7 477.2L1092.2 476.5L1094.8 477.3L1097.3 480.5L1099.8 478.5L1102.3 476.6L1104.8 476.6L1107.3 473.8L1109.8 470.3L1112.3 474.0L1114.8 473.1L1117.3 474.4L1119.8 471.1L1122.3 470.3L1124.8 473.4L1127.4 473.1L1129.9 474.3L1132.4 471.0L1134.9 471.3L1137.4 472.5L1139.9 473.2L1142.4 471.2L1144.9 471.0L1147.4 470.0L1149.9 469.3L1152.4 469.1L1154.9 470.0L1157.5 466.1L1160.0 467.5L1162.5 465.7L1165.0 467.2L1167.5 467.0L1170.0 467.8L1172.5 466.9L1175.0 466.8L1177.5 463.7L1180.0 468.9L1182.5 464.3L1185.0 461.4L1187.5 465.4L1190.1 467.2L1192.6 466.2L1195.1 465.2L1197.6 462.9L1200.1 468.9L1202.6 462.6L1205.1 469.7L1207.6 463.0L1210.1 461.9L1212.6 463.2L1215.1 463.0L1217.6 465.1L1220.2 462.5L1222.7 462.7L1225.2 459.8L1227.7 465.2L1230.2 463.5L1232.7 461.7L1235.2 462.9L1237.7 465.3L1240.2 464.8L1242.7 462.0L1245.2 463.0L1247.7 463.7L1250.2 464.1L1252.8 462.4L1255.3 464.1L1257.8 460.3L1260.3 461.8L1262.8 460.0L1265.3 461.4L1267.8 460.2L1270.3 462.7L1272.8 460.8L1275.3 463.9L1277.8 459.7L1280.3 462.8L1282.9 459.2L1285.4 453.8L1287.9 455.2L1290.4 460.1L1292.9 459.8L1295.4 460.2L1297.9 457.8L1300.4 458.4L1302.9 455.0L1305.4 460.2L1307.9 461.3L1310.4 458.5L1312.9 454.4L1315.5 452.4L1318.0 454.4L1320.5 454.0L1323.0 450.2L1325.5 452.6L1328.0 453.3L1330.5 452.2L1333.0 450.9L1335.5 449.5L1338.0 447.9L1340.5 445.9L1343.0 443.8"/>
<path d="M844.0 520.6L846.5 520.2L849.0 520.1L851.5 520.2L854.0 520.5L856.5 519.7L859.0 519.9L861.5 519.8L864.0 519.5L866.5 519.7L869.0 518.0L871.5 518.5L874.1 518.0L876.6 517.9L879.1 517.4L881.6 516.6L884.1 515.5L886.6 516.3L889.1 516.0L891.6 514.9L894.1 515.1L896.6 514.3L899.1 514.0L901.6 514.4L904.1 514.9L906.7 512.6L909.2 513.1L911.7 513.6L914.2 511.9L916.7 511.8L919.2 512.1L921.7 512.5L924.2 510.4L926.7 508.8L929.2 508.9L931.7 508.8L934.2 508.9L936.8 508.7L939.3 506.2L941.8 507.9L944.3 505.5L946.8 506.6L949.3 507.0L951.8 506.7L954.3 506.2L956.8 505.8L959.3 504.0L961.8 503.1L964.3 506.3L966.8 506.5L969.4 506.2L971.9 505.2L974.4 501.4L976.9 504.5L979.4 502.6L981.9 502.0L984.4 502.7L986.9 500.7L989.4 502.6L991.9 497.9L994.4 501.1L996.9 501.1L999.5 498.9L1002.0 500.5L1004.5 501.3L1007.0 500.9L1009.5 500.9L1012.0 499.0L1014.5 500.1L1017.0 500.4L1019.5 500.8L1022.0 499.9L1024.5 496.1L1027.0 498.0L1029.5 495.9L1032.1 495.9L1034.6 496.9L1037.1 497.7L1039.6 497.3L1042.1 498.2L1044.6 498.8L1047.1 498.6L1049.6 498.4L1052.1 498.8L1054.6 499.5L1057.1 497.5L1059.6 496.0L1062.2 499.3L1064.7 499.2L1067.2 495.7L1069.7 499.6L1072.2 501.0L1074.7 497.3L1077.2 497.1L1079.7 498.0L1082.2 497.4L1084.7 498.1L1087.2 499.2L1089.7 501.2L1092.2 497.0L1094.8 499.2L1097.3 501.4L1099.8 497.2L1102.3 499.7L1104.8 500.0L1107.3 499.5L1109.8 501.2L1112.3 502.6L1114.8 502.9L1117.3 504.3L1119.8 500.9L1122.3 497.9L1124.8 499.0L1127.4 500.4L1129.9 502.3L1132.4 502.1L1134.9 500.5L1137.4 502.7L1139.9 502.2L1142.4 501.8L1144.9 501.0L1147.4 501.6L1149.9 502.0L1152.4 501.4L1154.9 497.9L1157.5 498.7L1160.0 500.9L1162.5 503.2L1165.0 503.4L1167.5 503.4L1170.0 504.3L1172.5 503.1L1175.0 503.5L1177.5 503.2L1180.0 502.0L1182.5 499.9L1185.0 498.1L1187.5 500.3L1190.1 498.7L1192.6 499.6L1195.1 501.1L1197.6 499.5L1200.1 501.2L1202.6 500.5L1205.1 498.8L1207.6 500.3L1210.1 501.0L1212.6 499.4L1215.1 500.2L1217.6 498.0L1220.2 499.0L1222.7 499.5L1225.2 497.7L1227.7 498.6L1230.2 500.9L1232.7 498.5L1235.2 496.8L1237.7 495.6L1240.2 496.1L1242.7 495.7L1245.2 494.5L1247.7 496.7L1250.2 497.7L1252.8 495.9L1255.3 496.7L1257.8 498.2L1260.3 497.7L1262.8 497.0L1265.3 497.4L1267.8 495.3L1270.3 496.8L1272.8 498.7L1275.3 495.1L1277.8 491.6L1280.3 492.0L1282.9 491.4L1285.4 492.9L1287.9 494.7L1290.4 493.9L1292.9 495.0L1295.4 492.7L1297.9 490.6L1300.4 485.5L1302.9 487.2L1305.4 485.1L1307.9 483.7L1310.4 482.8L1312.9 485.3L1315.5 483.8L1318.0 480.5L1320.5 475.3L1323.0 474.5L1325.5 473.4L1328.0 474.4L1330.5 473.0L1333.0 471.3L1335.5 466.1L1338.0 467.5L1340.5 471.1L1343.0 461.2"/>
<path d="M844.0 520.6L846.5 520.5L849.0 520.5L851.5 520.3L854.0 520.1L856.5 520.3L859.0 519.6L861.5 518.9L864.0 518.6L866.5 519.3L869.0 519.5L871.5 518.9L874.1 518.1L876.6 517.9L879.1 518.3L881.6 518.6L884.1 517.8L886.6 517.2L889.1 516.8L891.6 516.7L894.1 517.3L896.6 517.1L899.1 516.9L901.6 516.6L904.1 516.4L906.7 515.2L909.2 514.7L911.7 515.4L914.2 515.5L916.7 515.8L919.2 514.9L921.7 513.7L924.2 513.6L926.7 513.4L929.2 513.7L931.7 513.0L934.2 513.1L936.8 513.0L939.3 512.8L941.8 512.5L944.3 510.7L946.8 512.0L949.3 512.7L951.8 512.0L954.3 512.4L956.8 511.2L959.3 509.6L961.8 510.0L964.3 509.4L966.8 508.9L969.4 510.6L971.9 508.3L974.4 509.6L976.9 508.0L979.4 506.0L981.9 508.0L984.4 507.9L986.9 507.8L989.4 507.7L991.9 508.6L994.4 507.9L996.9 506.8L999.5 506.6L1002.0 507.0L1004.5 505.9L1007.0 506.5L1009.5 503.7L1012.0 505.0L1014.5 505.5L1017.0 506.5L1019.5 504.6L1022.0 505.0L1024.5 505.9L1027.0 509.1L1029.5 507.0L1032.1 506.7L1034.6 505.2L1037.1 508.0L1039.6 506.1L1042.1 505.4L1044.6 505.6L1047.1 503.9L1049.6 503.6L1052.1 504.4L1054.6 504.0L1057.1 506.1L1059.6 505.0L1062.2 508.0L1064.7 506.6L1067.2 504.9L1069.7 505.4L1072.2 506.2L1074.7 505.6L1077.2 506.0L1079.7 505.3L1082.2 504.3L1084.7 504.8L1087.2 507.3L1089.7 505.5L1092.2 505.3L1094.8 503.4L1097.3 503.8L1099.8 505.1L1102.3 504.7L1104.8 506.3L1107.3 506.6L1109.8 504.9L1112.3 504.7L1114.8 505.5L1117.3 505.3L1119.8 504.4L1122.3 502.0L1124.8 505.2L1127.4 504.5L1129.9 504.3L1132.4 503.1L1134.9 505.4L1137.4 504.1L1139.9 503.9L1142.4 501.0L1144.9 501.9L1147.4 502.7L1149.9 503.5L1152.4 504.2L1154.9 503.3L1157.5 504.5L1160.0 503.5L1162.5 503.0L1165.0 503.1L1167.5 501.0L1170.0 499.6L1172.5 504.3L1175.0 501.4L1177.5 501.8L1180.0 503.6L1182.5 502.6L1185.0 504.6L1187.5 501.3L1190.1 502.9L1192.6 504.1L1195.1 506.6L1197.6 506.5L1200.1 503.7L1202.6 504.8L1205.1 504.5L1207.6 502.5L1210.1 502.7L1212.6 504.7L1215.1 503.8L1217.6 502.6L1220.2 502.6L1222.7 501.8L1225.2 501.1L1227.7 503.3L1230.2 504.1L1232.7 505.1L1235.2 502.2L1237.7 501.6L1240.2 503.4L1242.7 503.6L1245.2 503.2L1247.7 501.7L1250.2 502.2L1252.8 500.9L1255.3 504.2L1257.8 504.2L1260.3 501.9L1262.8 503.9L1265.3 501.6L1267.8 502.8L1270.3 502.6L1272.8 501.7L1275.3 503.6L1277.8 500.2L1280.3 500.6L1282.9 500.7L1285.4 498.6L1287.9 498.1L1290.4 499.9L1292.9 500.5L1295.4 498.7L1297.9 500.0L1300.4 500.0L1302.9 500.1L1305.4 498.3L1307.9 497.5L1310.4 497.9L1312.9 495.9L1315.5 494.3L1318.0 492.7L1320.5 494.3L1323.0 495.7L1325.5 490.7L1328.0 490.9L1330.5 492.2L1333.0 493.4L1335.5 491.3L1338.0 488.2L1340.5 489.2L1343.0 491.9"/>
<path d="M844.0 520.6L846.5 520.6L849.0 520.7L851.5 520.4L854.0 520.5L856.5 520.6L859.0 520.6L861.5 520.4L864.0 520.2L866.5 520.0L869.0 519.7L871.5 519.7L874.1 519.4L876.6 519.6L879.1 519.5L881.6 519.3L884.1 519.3L886.6 519.3L889.1 518.8L891.6 519.2L894.1 519.1L896.6 519.2L899.1 518.8L901.6 518.6L904.1 518.6L906.7 518.5L909.2 518.2L911.7 518.0L914.2 517.7L916.7 517.6L919.2 517.3L921.7 517.0L924.2 516.6L926.7 517.7L929.2 516.8L931.7 516.7L934.2 516.0L936.8 516.3L939.3 516.9L941.8 515.8L944.3 515.8L946.8 515.5L949.3 516.0L951.8 515.3L954.3 514.9L956.8 514.6L959.3 513.1L961.8 514.6L964.3 515.5L966.8 513.9L969.4 514.5L971.9 513.9L974.4 514.8L976.9 513.4L979.4 513.5L981.9 514.2L984.4 513.7L986.9 513.1L989.4 512.6L991.9 511.8L994.4 512.0L996.9 511.0L999.5 512.9L1002.0 512.5L1004.5 511.6L1007.0 509.9L1009.5 511.6L1012.0 512.4L1014.5 511.7L1017.0 511.9L1019.5 511.9L1022.0 510.9L1024.5 510.3L1027.0 510.5L1029.5 511.6L1032.1 510.3L1034.6 508.8L1037.1 510.0L1039.6 510.4L1042.1 510.3L1044.6 510.6L1047.1 509.4L1049.6 509.3L1052.1 509.7L1054.6 510.2L1057.1 510.9L1059.6 511.4L1062.2 511.1L1064.7 510.7L1067.2 509.8L1069.7 510.0L1072.2 509.0L1074.7 509.5L1077.2 510.7L1079.7 511.3L1082.2 510.1L1084.7 511.7L1087.2 509.0L1089.7 510.7L1092.2 510.8L1094.8 510.7L1097.3 511.2L1099.8 510.5L1102.3 512.8L1104.8 511.0L1107.3 510.4L1109.8 510.8L1112.3 508.7L1114.8 509.6L1117.3 508.7L1119.8 510.9L1122.3 509.8L1124.8 509.7L1127.4 508.0L1129.9 510.8L1132.4 508.3L1134.9 507.5L1137.4 507.9L1139.9 506.4L1142.4 506.7L1144.9 507.7L1147.4 509.5L1149.9 510.1L1152.4 507.9L1154.9 507.7L1157.5 508.9L1160.0 509.8L1162.5 508.0L1165.0 507.9L1167.5 508.1L1170.0 508.3L1172.5 507.9L1175.0 509.9L1177.5 508.5L1180.0 509.4L1182.5 509.1L1185.0 512.1L1187.5 511.0L1190.1 506.9L1192.6 508.2L1195.1 505.8L1197.6 508.5L1200.1 507.7L1202.6 505.5L1205.1 505.8L1207.6 506.6L1210.1 508.8L1212.6 508.1L1215.1 508.2L1217.6 506.9L1220.2 506.7L1222.7 505.4L1225.2 506.1L1227.7 506.4L1230.2 506.7L1232.7 505.9L1235.2 506.3L1237.7 506.1L1240.2 506.7L1242.7 505.9L1245.2 505.6L1247.7 505.1L1250.2 505.1L1252.8 505.5L1255.3 504.7L1257.8 507.0L1260.3 507.5L1262.8 506.8L1265.3 507.0L1267.8 504.7L1270.3 504.5L1272.8 504.5L1275.3 505.3L1277.8 506.1L1280.3 506.4L1282.9 503.7L1285.4 504.3L1287.9 505.8L1290.4 504.5L1292.9 504.8L1295.4 502.1L1297.9 503.1L1300.4 502.9L1302.9 500.5L1305.4 503.0L1307.9 504.3L1310.4 503.9L1312.9 502.1L1315.5 501.5L1318.0 500.3L1320.5 501.3L1323.0 501.3L1325.5 502.3L1328.0 500.5L1330.5 500.9L1333.0 499.1L1335.5 497.5L1338.0 497.7L1340.5 496.2L1343.0 495.4"/>
<path d="M844.0 520.6L846.5 520.6L849.0 520.5L851.5 520.4L854.0 520.4L856.5 520.3L859.0 520.4L861.5 520.3L864.0 520.0L866.5 520.0L869.0 520.2L871.5 520.5L874.1 520.3L876.6 519.8L879.1 519.7L881.6 519.8L884.1 519.8L886.6 519.8L889.1 520.3L891.6 519.6L894.1 519.3L896.6 519.4L899.1 519.4L901.6 519.5L904.1 519.6L906.7 519.4L909.2 519.6L911.7 519.3L914.2 519.3L916.7 518.4L919.2 518.4L921.7 518.5L924.2 518.9L926.7 518.4L929.2 518.1L931.7 518.0L934.2 519.0L936.8 517.8L939.3 518.1L941.8 518.1L944.3 518.7L946.8 518.5L949.3 517.8L951.8 518.1L954.3 518.4L956.8 517.6L959.3 516.5L961.8 516.3L964.3 516.9L966.8 516.4L969.4 516.8L971.9 517.5L974.4 517.1L976.9 518.0L979.4 516.9L981.9 515.7L984.4 516.1L986.9 516.6L989.4 515.2L991.9 515.8L994.4 516.7L996.9 515.9L999.5 516.7L1002.0 514.6L1004.5 515.2L1007.0 513.7L1009.5 513.0L1012.0 512.9L1014.5 514.6L1017.0 514.6L1019.5 515.4L1022.0 513.9L1024.5 512.7L1027.0 514.2L1029.5 513.5L1032.1 512.6L1034.6 514.1L1037.1 514.9L1039.6 513.8L1042.1 514.1L1044.6 514.6L1047.1 513.7L1049.6 513.6L1052.1 514.4L1054.6 515.8L1057.1 514.5L1059.6 515.4L1062.2 515.6L1064.7 515.5L1067.2 515.3L1069.7 514.9L1072.2 515.8L1074.7 515.7L1077.2 514.2L1079.7 515.6L1082.2 515.4L1084.7 515.8L1087.2 517.4L1089.7 516.9L1092.2 515.2L1094.8 515.7L1097.3 515.4L1099.8 516.6L1102.3 514.4L1104.8 516.0L1107.3 516.3L1109.8 516.1L1112.3 516.6L1114.8 517.6L1117.3 515.7L1119.8 515.8L1122.3 516.2L1124.8 516.4L1127.4 516.3L1129.9 516.7L1132.4 516.7L1134.9 516.3L1137.4 515.3L1139.9 516.5L1142.4 517.4L1144.9 517.6L1147.4 517.2L1149.9 517.5L1152.4 516.0L1154.9 516.9L1157.5 516.9L1160.0 516.6L1162.5 517.3L1165.0 516.7L1167.5 516.3L1170.0 515.7L1172.5 515.0L1175.0 515.5L1177.5 517.1L1180.0 517.7L1182.5 516.3L1185.0 516.2L1187.5 517.1L1190.1 515.6L1192.6 515.4L1195.1 514.6L1197.6 516.4L1200.1 515.4L1202.6 515.2L1205.1 515.3L1207.6 514.8L1210.1 517.0L1212.6 516.7L1215.1 517.3L1217.6 514.5L1220.2 515.6L1222.7 515.3L1225.2 514.5L1227.7 515.1L1230.2 516.4L1232.7 516.6L1235.2 515.4L1237.7 517.9L1240.2 517.1L1242.7 515.5L1245.2 514.9L1247.7 514.8L1250.2 515.2L1252.8 515.1L1255.3 514.9L1257.8 516.0L1260.3 515.3L1262.8 515.6L1265.3 515.2L1267.8 515.3L1270.3 516.4L1272.8 516.0L1275.3 516.4L1277.8 515.9L1280.3 516.6L1282.9 516.0L1285.4 516.6L1287.9 515.1L1290.4 516.3L1292.9 516.2L1295.4 515.2L1297.9 515.0L1300.4 514.0L1302.9 514.8L1305.4 515.4L1307.9 515.1L1310.4 516.1L1312.9 514.0L1315.5 514.7L1318.0 514.1L1320.5 514.4L1323.0 515.5L1325.5 515.2L1328.0 516.2L1330.5 515.1L1333.0 514.5L1335.5 514.5L1338.0 513.5L1340.5 513.6L1343.0 514.2"/>
<path d="M844.0 520.6L846.5 520.6L849.0 520.6L851.5 520.5L854.0 520.5L856.5 520.5L859.0 520.6L861.5 520.6L864.0 520.5L866.5 520.6L869.0 520.4L871.5 520.4L874.1 520.5L876.6 520.4L879.1 520.5L881.6 520.4L884.1 520.3L886.6 520.3L889.1 520.2L891.6 520.2L894.1 520.4L896.6 520.1L899.1 520.3L901.6 520.4L904.1 520.6L906.7 520.2L909.2 520.4L911.7 519.7L914.2 519.5L916.7 519.8L919.2 519.5L921.7 519.4L924.2 519.2L926.7 519.3L929.2 519.2L931.7 518.9L934.2 519.1L936.8 518.9L939.3 519.0L941.8 519.1L944.3 519.1L946.8 518.8L949.3 518.5L951.8 518.3L954.3 517.9L956.8 518.4L959.3 518.3L961.8 518.7L964.3 518.4L966.8 517.9L969.4 518.4L971.9 517.9L974.4 517.8L976.9 518.1L979.4 518.0L981.9 517.4L984.4 517.9L986.9 517.9L989.4 517.6L991.9 517.4L994.4 517.6L996.9 516.6L999.5 517.8L1002.0 516.1L1004.5 516.3L1007.0 516.3L1009.5 517.1L1012.0 517.1L1014.5 517.3L1017.0 516.4L1019.5 517.5L1022.0 517.7L1024.5 516.0L1027.0 516.8L1029.5 515.8L1032.1 516.2L1034.6 517.0L1037.1 517.0L1039.6 516.2L1042.1 516.4L1044.6 517.4L1047.1 517.3L1049.6 517.5L1052.1 516.3L1054.6 517.1L1057.1 517.2L1059.6 516.7L1062.2 517.8L1064.7 517.4L1067.2 517.8L1069.7 517.2L1072.2 517.5L1074.7 517.7L1077.2 517.4L1079.7 517.5L1082.2 517.6L1084.7 517.5L1087.2 516.8L1089.7 517.4L1092.2 517.4L1094.8 517.6L1097.3 517.1L1099.8 518.2L1102.3 518.2L1104.8 518.5L1107.3 518.8L1109.8 518.5L1112.3 517.7L1114.8 516.9L1117.3 517.9L1119.8 517.8L1122.3 518.0L1124.8 518.4L1127.4 517.7L1129.9 517.1L1132.4 517.6L1134.9 517.3L1137.4 517.0L1139.9 517.5L1142.4 517.4L1144.9 517.7L1147.4 517.0L1149.9 517.3L1152.4 517.3L1154.9 517.4L1157.5 517.1L1160.0 517.7L1162.5 516.8L1165.0 517.5L1167.5 518.1L1170.0 517.7L1172.5 517.6L1175.0 517.1L1177.5 517.5L1180.0 517.7L1182.5 517.7L1185.0 517.7L1187.5 517.8L1190.1 517.7L1192.6 516.6L1195.1 516.5L1197.6 517.1L1200.1 518.5L1202.6 518.4L1205.1 517.7L1207.6 517.4L1210.1 517.2L1212.6 517.6L1215.1 517.3L1217.6 517.4L1220.2 516.9L1222.7 517.0L1225.2 516.7L1227.7 516.7L1230.2 516.9L1232.7 517.8L1235.2 517.6L1237.7 517.9L1240.2 517.2L1242.7 517.3L1245.2 516.8L1247.7 516.9L1250.2 516.9L1252.8 516.0L1255.3 516.6L1257.8 516.1L1260.3 516.8L1262.8 516.4L1265.3 515.7L1267.8 515.6L1270.3 515.8L1272.8 517.2L1275.3 516.0L1277.8 516.1L1280.3 516.5L1282.9 516.4L1285.4 516.4L1287.9 516.8L1290.4 516.1L1292.9 517.3L1295.4 517.5L1297.9 516.9L1300.4 517.3L1302.9 516.7L1305.4 516.1L1307.9 515.5L1310.4 515.5L1312.9 516.3L1315.5 516.4L1318.0 517.2L1320.5 517.5L1323.0 517.1L1325.5 516.5L1328.0 517.3L1330.5 516.5L1333.0 514.7L1335.5 515.4L1338.0 516.1L1340.5 516.4L1343.0 516.5"/>
<path d="M844.0 520.6L846.5 520.6L849.0 520.6L851.5 520.6L854.0 520.6L856.5 520.5L859.0 520.6L861.5 520.5L864.0 520.4L866.5 520.5L869.0 520.6L871.5 520.5L874.1 520.4L876.6 520.5L879.1 520.5L881.6 520.5L884.1 520.5L886.6 520.3L889.1 520.4L891.6 520.2L894.1 520.4L896.6 520.3L899.1 520.2L901.6 520.5L904.1 520.4L906.7 520.4L909.2 520.4L911.7 520.7L914.2 519.8L916.7 520.1L919.2 520.1L921.7 520.3L924.2 520.1L926.7 520.0L929.2 520.0L931.7 519.9L934.2 519.5L936.8 519.6L939.3 520.2L941.8 519.9L944.3 518.9L946.8 519.2L949.3 519.0L951.8 519.5L954.3 518.9L956.8 519.0L959.3 519.3L961.8 519.4L964.3 518.9L966.8 519.1L969.4 519.9L971.9 519.0L974.4 519.0L976.9 518.6L979.4 518.7L981.9 519.0L984.4 518.9L986.9 519.1L989.4 518.3L991.9 518.7L994.4 518.6L996.9 517.4L999.5 518.7L1002.0 518.7L1004.5 518.4L1007.0 519.0L1009.5 518.9L1012.0 517.7L1014.5 518.4L1017.0 519.6L1019.5 519.0L1022.0 519.1L1024.5 518.0L1027.0 517.6L1029.5 517.6L1032.1 518.7L1034.6 519.0L1037.1 517.6L1039.6 518.6L1042.1 517.6L1044.6 517.6L1047.1 518.1L1049.6 518.1L1052.1 518.3L1054.6 518.6L1057.1 519.1L1059.6 518.5L1062.2 518.2L1064.7 518.1L1067.2 519.5L1069.7 519.4L1072.2 519.4L1074.7 519.1L1077.2 518.9L1079.7 519.3L1082.2 518.8L1084.7 518.0L1087.2 517.7L1089.7 519.4L1092.2 518.4L1094.8 518.3L1097.3 518.4L1099.8 519.0L1102.3 518.3L1104.8 518.4L1107.3 518.7L1109.8 518.1L1112.3 518.4L1114.8 519.0L1117.3 518.8L1119.8 518.7L1122.3 518.8L1124.8 518.6L1127.4 518.4L1129.9 518.3L1132.4 518.8L1134.9 517.9L1137.4 517.8L1139.9 518.6L1142.4 519.1L1144.9 518.8L1147.4 518.2L1149.9 517.7L1152.4 518.5L1154.9 518.6L1157.5 518.7L1160.0 518.7L1162.5 518.1L1165.0 518.0L1167.5 518.2L1170.0 518.3L1172.5 517.6L1175.0 517.5L1177.5 518.0L1180.0 518.9L1182.5 519.6L1185.0 518.9L1187.5 518.4L1190.1 518.5L1192.6 518.4L1195.1 517.9L1197.6 516.6L1200.1 517.8L1202.6 517.8L1205.1 518.0L1207.6 517.7L1210.1 517.9L1212.6 518.1L1215.1 517.5L1217.6 517.6L1220.2 518.2L1222.7 518.5L1225.2 517.4L1227.7 518.2L1230.2 518.8L1232.7 518.5L1235.2 518.4L1237.7 518.2L1240.2 518.2L1242.7 517.8L1245.2 518.5L1247.7 518.0L1250.2 517.1L1252.8 517.8L1255.3 518.2L1257.8 518.1L1260.3 517.3L1262.8 517.8L1265.3 516.1L1267.8 517.9L1270.3 518.0L1272.8 516.7L1275.3 516.1L1277.8 518.3L1280.3 517.9L1282.9 517.2L1285.4 517.6L1287.9 517.4L1290.4 517.3L1292.9 517.6L1295.4 517.7L1297.9 516.9L1300.4 517.4L1302.9 517.6L1305.4 517.0L1307.9 517.8L1310.4 517.9L1312.9 517.0L1315.5 518.3L1318.0 518.1L1320.5 518.4L1323.0 517.4L1325.5 517.2L1328.0 517.5L1330.5 517.2L1333.0 517.3L1335.5 516.6L1338.0 518.3L1340.5 518.1L1343.0 518.4"/>
<path d="M844.0 520.6L846.5 520.6L849.0 520.6L851.5 520.6L854.0 520.6L856.5 520.6L859.0 520.6L861.5 520.6L864.0 520.6L866.5 520.7L869.0 520.6L871.5 520.6L874.1 520.5L876.6 520.5L879.1 520.6L881.6 520.5L884.1 520.6L886.6 520.5L889.1 520.6L891.6 520.4L894.1 520.5L896.6 520.6L899.1 520.6L901.6 520.7L904.1 520.6L906.7 520.6L909.2 520.4L911.7 520.5L914.2 520.5L916.7 520.4L919.2 520.5L921.7 520.2L924.2 520.2L926.7 520.3L929.2 520.0L931.7 519.8L934.2 520.2L936.8 520.0L939.3 519.7L941.8 519.7L944.3 519.6L946.8 519.5L949.3 519.7L951.8 519.4L954.3 519.1L956.8 519.4L959.3 519.5L961.8 519.9L964.3 519.2L966.8 519.2L969.4 519.7L971.9 519.7L974.4 519.4L976.9 519.2L979.4 519.6L981.9 519.5L984.4 519.2L986.9 519.2L989.4 519.3L991.9 519.7L994.4 518.7L996.9 519.0L999.5 519.7L1002.0 519.0L1004.5 519.2L1007.0 519.6L1009.5 519.1L1012.0 519.2L1014.5 519.1L1017.0 519.4L1019.5 519.2L1022.0 519.0L1024.5 519.3L1027.0 519.5L1029.5 519.8L1032.1 519.5L1034.6 519.4L1037.1 519.3L1039.6 519.8L1042.1 520.0L1044.6 519.4L1047.1 518.7L1049.6 519.8L1052.1 519.0L1054.6 518.7L1057.1 519.0L1059.6 519.9L1062.2 520.0L1064.7 519.6L1067.2 519.7L1069.7 519.5L1072.2 519.8L1074.7 519.4L1077.2 520.0L1079.7 519.8L1082.2 519.4L1084.7 518.9L1087.2 519.6L1089.7 519.7L1092.2 519.2L1094.8 519.1L1097.3 519.2L1099.8 519.2L1102.3 519.3L1104.8 519.4L1107.3 519.4L1109.8 519.2L1112.3 520.0L1114.8 519.5L1117.3 519.2L1119.8 519.5L1122.3 519.1L1124.8 519.4L1127.4 519.4L1129.9 519.7L1132.4 519.1L1134.9 518.5L1137.4 519.4L1139.9 519.2L1142.4 519.8L1144.9 519.7L1147.4 519.2L1149.9 519.3L1152.4 518.8L1154.9 518.7L1157.5 519.0L1160.0 519.1L1162.5 518.5L1165.0 519.2L1167.5 519.3L1170.0 519.6L1172.5 518.7L1175.0 519.2L1177.5 518.9L1180.0 518.8L1182.5 519.4L1185.0 519.2L1187.5 519.3L1190.1 519.5L1192.6 519.6L1195.1 518.9L1197.6 518.6L1200.1 519.0L1202.6 519.2L1205.1 518.8L1207.6 519.1L1210.1 518.7L1212.6 518.8L1215.1 518.9L1217.6 519.0L1220.2 519.3L1222.7 519.0L1225.2 519.0L1227.7 518.7L1230.2 519.1L1232.7 519.2L1235.2 518.8L1237.7 519.6L1240.2 519.1L1242.7 518.9L1245.2 518.7L1247.7 518.9L1250.2 518.9L1252.8 518.6L1255.3 518.9L1257.8 519.2L1260.3 519.5L1262.8 519.2L1265.3 518.8L1267.8 518.4L1270.3 518.8L1272.8 519.3L1275.3 519.9L1277.8 519.0L1280.3 518.3L1282.9 518.1L1285.4 518.6L1287.9 518.9L1290.4 518.4L1292.9 518.1L1295.4 517.6L1297.9 518.6L1300.4 517.9L1302.9 518.6L1305.4 518.5L1307.9 517.7L1310.4 517.8L1312.9 518.7L1315.5 518.6L1318.0 518.5L1320.5 519.1L1323.0 518.7L1325.5 518.7L1328.0 518.7L1330.5 518.6L1333.0 519.1L1335.5 518.5L1338.0 519.0L1340.5 519.4L1343.0 518.6"/>
</g>
<path clip-path="url(#c1)" d="M844.0 520.6L847.7 517.7L857.5 513.8L867.2 509.9L871.1 508.9L876.9 509.9L884.7 507.9L891.5 505.0L898.3 503.1L904.1 498.7L907.1 500.6L912.9 492.4L916.8 491.4L921.7 493.3L924.6 488.5L929.4 489.0L934.3 484.6L939.7 482.8L946.5 474.5L953.3 476.0L957.2 472.6L962.1 473.6L965.0 470.6L972.8 467.2L976.7 469.2L979.6 462.4L986.4 455.6L990.3 459.5L994.2 458.5L998.1 460.9L1003.9 459.5L1006.8 461.4L1015.6 453.1L1023.9 461.6L1031.7 456.7L1034.6 461.6L1039.5 458.2L1042.4 460.1L1045.3 456.2L1052.1 453.3L1060.9 452.3L1064.3 454.7L1067.2 449.9L1074.5 454.7L1078.4 453.8L1084.2 455.2L1090.0 450.9L1093.9 451.8L1099.8 445.5L1103.7 444.0L1109.5 437.2L1113.9 436.1L1116.8 428.3L1119.7 430.3L1122.2 425.4L1127.0 427.4L1130.4 435.2L1134.3 436.6L1137.2 441.0L1140.2 439.0L1146.0 440.5L1150.9 443.9L1155.7 444.4L1164.5 441.5L1172.3 446.8L1177.1 439.0L1182.0 434.7L1189.8 430.8L1193.7 434.2L1198.5 436.1L1203.9 430.5L1207.8 434.4L1212.6 426.1L1215.6 425.6L1218.5 428.1L1222.4 428.1L1225.3 432.0L1229.2 438.8L1234.0 435.4L1238.9 437.3L1242.8 436.8L1246.7 439.3L1252.0 442.7L1256.4 438.8L1262.3 435.9L1267.1 436.3L1270.0 431.0L1273.0 424.2L1276.8 424.7L1282.7 429.0L1288.5 424.7L1292.4 424.2L1295.1 422.7L1297.3 424.9L1300.2 422.7L1304.6 426.4L1309.0 428.6L1314.8 431.5L1320.6 429.3L1326.5 425.6L1330.8 424.2L1333.8 415.8L1336.7 416.2L1340.3 423.4L1343.0 420.9" fill="none" stroke="#000" stroke-width="4.17" stroke-linejoin="round" stroke-linecap="square"/>
<g clip-path="url(#c2)" fill="none" stroke="rgb(46,139,87)" stroke-opacity="0.150" stroke-width="3.125" stroke-linejoin="round" stroke-linecap="square">
<path d="M1545.0 518.3L1547.5 239.7L1550.0 190.7L1552.5 189.6L1555.0 211.3L1557.5 200.8L1560.0 199.4L1562.5 205.3L1565.0 206.1L1567.5 176.9L1570.0 244.3L1572.5 228.2L1575.1 200.0L1577.6 209.4L1580.1 204.2L1582.6 203.6L1585.1 212.1L1587.6 210.2L1590.1 222.4L1592.6 213.3L1595.1 198.5L1597.6 190.7L1600.1 196.7L1602.6 210.8L1605.1 216.6L1607.7 239.5L1610.2 220.6L1612.7 228.4L1615.2 226.1L1617.7 220.0L1620.2 211.7L1622.7 208.5L1625.2 209.8L1627.7 228.6L1630.2 222.4L1632.7 202.5L1635.2 210.3L1637.8 203.9L1640.3 208.0L1642.8 185.5L1645.3 177.2L1647.8 160.3L1650.3 203.6L1652.8 195.3L1655.3 227.2L1657.8 202.5L1660.3 200.5L1662.8 213.6L1665.3 187.1L1667.8 201.3L1670.4 232.5L1672.9 191.1L1675.4 203.3L1677.9 194.8L1680.4 216.2L1682.9 223.4L1685.4 232.6L1687.9 232.6L1690.4 203.5L1692.9 199.0L1695.4 233.5L1697.9 215.5L1700.5 210.7L1703.0 222.4L1705.5 208.4L1708.0 222.4L1710.5 197.7L1713.0 212.0L1715.5 208.3L1718.0 266.5L1720.5 233.0L1723.0 216.9L1725.5 223.6L1728.0 218.8L1730.5 229.4L1733.1 203.0L1735.6 227.1L1738.1 221.7L1740.6 192.2L1743.1 189.3L1745.6 207.9L1748.1 232.8L1750.6 249.3L1753.1 215.8L1755.6 210.7L1758.1 217.8L1760.6 219.5L1763.2 181.0L1765.7 191.1L1768.2 207.7L1770.7 215.4L1773.2 219.5L1775.7 209.5L1778.2 216.5L1780.7 212.4L1783.2 220.1L1785.7 202.7L1788.2 206.5L1790.7 229.9L1793.2 170.2L1795.8 197.6L1798.3 216.5L1800.8 233.6L1803.3 216.6L1805.8 223.6L1808.3 187.8L1810.8 197.9L1813.3 218.6L1815.8 242.8L1818.3 207.0L1820.8 238.4L1823.3 211.1L1825.8 210.0L1828.4 256.7L1830.9 227.8L1833.4 189.5L1835.9 221.4L1838.4 251.6L1840.9 250.4L1843.4 223.6L1845.9 210.8L1848.4 198.7L1850.9 204.9L1853.4 226.4L1855.9 223.4L1858.5 219.3L1861.0 217.2L1863.5 234.5L1866.0 207.8L1868.5 193.8L1871.0 210.3L1873.5 209.7L1876.0 232.8L1878.5 214.4L1881.0 226.3L1883.5 230.8L1886.0 204.1L1888.5 208.4L1891.1 219.4L1893.6 241.4L1896.1 219.6L1898.6 187.4L1901.1 200.9L1903.6 205.7L1906.1 190.6L1908.6 172.0L1911.1 192.4L1913.6 190.0L1916.1 202.8L1918.6 201.1L1921.2 201.4L1923.7 190.4L1926.2 213.6L1928.7 206.4L1931.2 204.6L1933.7 210.7L1936.2 220.7L1938.7 199.8L1941.2 214.2L1943.7 237.1L1946.2 205.3L1948.7 232.9L1951.2 203.3L1953.8 250.2L1956.3 220.3L1958.8 183.1L1961.3 206.9L1963.8 190.1L1966.3 211.7L1968.8 223.2L1971.3 218.1L1973.8 196.4L1976.3 185.4L1978.8 180.3L1981.3 187.9L1983.9 205.0L1986.4 242.1L1988.9 230.7L1991.4 190.4L1993.9 232.0L1996.4 207.8L1998.9 202.6L2001.4 236.4L2003.9 211.4L2006.4 217.4L2008.9 209.2L2011.4 212.2L2013.9 214.7L2016.5 227.2L2019.0 248.3L2021.5 191.0L2024.0 220.4L2026.5 217.8L2029.0 219.1L2031.5 218.1L2034.0 225.3L2036.5 205.4L2039.0 209.8L2041.5 218.9L2044.0 223.0"/>
<path d="M1545.0 509.6L1547.5 320.5L1550.0 195.5L1552.5 234.5L1555.0 204.2L1557.5 204.2L1560.0 185.7L1562.5 213.1L1565.0 218.3L1567.5 187.5L1570.0 217.4L1572.5 192.3L1575.1 199.5L1577.6 248.2L1580.1 226.8L1582.6 221.8L1585.1 235.2L1587.6 247.9L1590.1 218.3L1592.6 229.3L1595.1 226.2L1597.6 230.1L1600.1 219.3L1602.6 204.2L1605.1 195.3L1607.7 197.9L1610.2 213.3L1612.7 213.9L1615.2 201.6L1617.7 187.3L1620.2 206.1L1622.7 230.8L1625.2 210.6L1627.7 199.8L1630.2 215.5L1632.7 191.7L1635.2 213.7L1637.8 211.2L1640.3 204.3L1642.8 182.0L1645.3 223.1L1647.8 204.6L1650.3 195.8L1652.8 208.7L1655.3 192.8L1657.8 217.0L1660.3 231.7L1662.8 236.6L1665.3 228.6L1667.8 233.2L1670.4 207.7L1672.9 209.6L1675.4 234.6L1677.9 190.0L1680.4 201.3L1682.9 236.0L1685.4 248.1L1687.9 218.9L1690.4 189.8L1692.9 210.6L1695.4 194.3L1697.9 179.1L1700.5 190.4L1703.0 211.0L1705.5 232.7L1708.0 227.2L1710.5 192.3L1713.0 205.6L1715.5 226.1L1718.0 221.4L1720.5 216.6L1723.0 193.0L1725.5 216.0L1728.0 180.2L1730.5 199.1L1733.1 201.5L1735.6 227.1L1738.1 207.7L1740.6 205.3L1743.1 196.9L1745.6 219.1L1748.1 209.0L1750.6 236.1L1753.1 234.0L1755.6 177.0L1758.1 210.1L1760.6 223.7L1763.2 198.9L1765.7 210.8L1768.2 166.3L1770.7 198.5L1773.2 195.8L1775.7 211.6L1778.2 191.6L1780.7 205.4L1783.2 163.1L1785.7 211.1L1788.2 203.2L1790.7 196.6L1793.2 226.7L1795.8 223.9L1798.3 227.6L1800.8 243.9L1803.3 214.1L1805.8 260.9L1808.3 246.0L1810.8 239.6L1813.3 213.8L1815.8 214.7L1818.3 194.7L1820.8 186.9L1823.3 202.7L1825.8 225.9L1828.4 203.1L1830.9 222.0L1833.4 219.8L1835.9 213.1L1838.4 186.6L1840.9 159.9L1843.4 177.4L1845.9 210.7L1848.4 195.0L1850.9 185.2L1853.4 219.0L1855.9 210.3L1858.5 222.0L1861.0 224.0L1863.5 212.4L1866.0 208.6L1868.5 223.1L1871.0 213.3L1873.5 232.3L1876.0 218.8L1878.5 210.2L1881.0 218.5L1883.5 238.6L1886.0 230.7L1888.5 209.1L1891.1 194.0L1893.6 190.4L1896.1 188.4L1898.6 175.7L1901.1 209.3L1903.6 191.0L1906.1 219.5L1908.6 183.5L1911.1 187.5L1913.6 222.0L1916.1 201.9L1918.6 191.7L1921.2 219.7L1923.7 207.4L1926.2 195.2L1928.7 175.5L1931.2 211.4L1933.7 184.8L1936.2 221.3L1938.7 227.4L1941.2 192.2L1943.7 193.5L1946.2 219.3L1948.7 186.9L1951.2 196.2L1953.8 203.9L1956.3 213.8L1958.8 255.2L1961.3 221.7L1963.8 197.5L1966.3 208.3L1968.8 197.9L1971.3 209.3L1973.8 187.0L1976.3 253.9L1978.8 213.4L1981.3 227.2L1983.9 211.5L1986.4 199.9L1988.9 188.6L1991.4 191.6L1993.9 185.7L1996.4 221.6L1998.9 211.2L2001.4 248.0L2003.9 214.6L2006.4 239.9L2008.9 200.3L2011.4 205.1L2013.9 214.5L2016.5 223.0L2019.0 211.2L2021.5 221.5L2024.0 238.1L2026.5 211.4L2029.0 226.0L2031.5 207.1L2034.0 226.7L2036.5 235.9L2039.0 180.0L2041.5 193.6L2044.0 186.7"/>
<path d="M1545.0 519.4L1547.5 281.5L1550.0 207.6L1552.5 213.3L1555.0 212.9L1557.5 196.0L1560.0 208.9L1562.5 211.6L1565.0 190.4L1567.5 191.4L1570.0 194.6L1572.5 175.7L1575.1 205.7L1577.6 230.7L1580.1 245.2L1582.6 222.6L1585.1 211.8L1587.6 196.7L1590.1 233.6L1592.6 241.3L1595.1 224.4L1597.6 221.3L1600.1 239.6L1602.6 223.5L1605.1 204.7L1607.7 216.0L1610.2 175.2L1612.7 192.3L1615.2 222.6L1617.7 220.3L1620.2 240.2L1622.7 184.5L1625.2 211.9L1627.7 219.3L1630.2 203.6L1632.7 217.7L1635.2 227.0L1637.8 219.2L1640.3 198.9L1642.8 193.8L1645.3 233.1L1647.8 247.5L1650.3 215.8L1652.8 220.8L1655.3 224.6L1657.8 199.8L1660.3 203.9L1662.8 221.1L1665.3 206.3L1667.8 225.7L1670.4 226.6L1672.9 186.3L1675.4 212.1L1677.9 205.1L1680.4 217.1L1682.9 221.0L1685.4 235.5L1687.9 239.5L1690.4 199.7L1692.9 173.6L1695.4 192.9L1697.9 199.4L1700.5 220.1L1703.0 217.0L1705.5 189.4L1708.0 163.9L1710.5 189.8L1713.0 201.3L1715.5 192.1L1718.0 206.2L1720.5 225.0L1723.0 231.8L1725.5 223.1L1728.0 223.2L1730.5 256.7L1733.1 255.4L1735.6 210.7L1738.1 196.9L1740.6 195.9L1743.1 213.5L1745.6 225.5L1748.1 217.8L1750.6 209.6L1753.1 221.3L1755.6 197.3L1758.1 221.6L1760.6 256.1L1763.2 213.0L1765.7 198.5L1768.2 213.2L1770.7 196.2L1773.2 189.3L1775.7 251.6L1778.2 216.4L1780.7 235.2L1783.2 207.5L1785.7 207.9L1788.2 198.1L1790.7 214.5L1793.2 224.3L1795.8 211.7L1798.3 171.8L1800.8 195.9L1803.3 227.1L1805.8 217.7L1808.3 219.0L1810.8 193.3L1813.3 206.4L1815.8 217.2L1818.3 211.5L1820.8 225.2L1823.3 208.4L1825.8 230.9L1828.4 225.7L1830.9 213.0L1833.4 236.8L1835.9 242.2L1838.4 234.0L1840.9 193.7L1843.4 194.1L1845.9 207.5L1848.4 194.7L1850.9 193.9L1853.4 218.8L1855.9 233.4L1858.5 197.6L1861.0 220.5L1863.5 203.9L1866.0 237.4L1868.5 220.6L1871.0 236.2L1873.5 207.5L1876.0 198.6L1878.5 202.7L1881.0 197.0L1883.5 218.3L1886.0 207.5L1888.5 201.4L1891.1 225.1L1893.6 205.6L1896.1 206.4L1898.6 203.3L1901.1 214.7L1903.6 214.4L1906.1 205.2L1908.6 209.1L1911.1 202.3L1913.6 233.3L1916.1 201.9L1918.6 223.9L1921.2 197.9L1923.7 234.0L1926.2 229.0L1928.7 212.8L1931.2 206.3L1933.7 219.3L1936.2 230.2L1938.7 207.0L1941.2 194.0L1943.7 223.7L1946.2 236.5L1948.7 229.4L1951.2 219.5L1953.8 245.0L1956.3 238.7L1958.8 208.5L1961.3 225.8L1963.8 230.5L1966.3 191.8L1968.8 189.6L1971.3 179.0L1973.8 204.8L1976.3 213.6L1978.8 220.5L1981.3 240.1L1983.9 256.0L1986.4 225.4L1988.9 229.6L1991.4 206.5L1993.9 195.0L1996.4 234.6L1998.9 242.1L2001.4 216.6L2003.9 189.9L2006.4 180.5L2008.9 216.5L2011.4 212.7L2013.9 188.3L2016.5 219.5L2019.0 231.3L2021.5 194.4L2024.0 220.3L2026.5 235.0L2029.0 191.0L2031.5 214.4L2034.0 219.9L2036.5 204.3L2039.0 184.6L2041.5 191.8L2044.0 202.8"/>
<path d="M1545.0 517.9L1547.5 316.4L1550.0 233.7L1552.5 228.6L1555.0 212.5L1557.5 212.7L1560.0 204.5L1562.5 209.1L1565.0 201.6L1567.5 176.8L1570.0 220.6L1572.5 194.1L1575.1 174.6L1577.6 208.5L1580.1 215.8L1582.6 213.4L1585.1 203.1L1587.6 220.4L1590.1 218.9L1592.6 212.9L1595.1 209.7L1597.6 185.8L1600.1 212.4L1602.6 196.5L1605.1 193.2L1607.7 202.5L1610.2 205.7L1612.7 222.6L1615.2 225.2L1617.7 207.4L1620.2 205.0L1622.7 213.1L1625.2 190.9L1627.7 202.7L1630.2 206.9L1632.7 211.7L1635.2 192.1L1637.8 195.9L1640.3 200.9L1642.8 229.0L1645.3 185.9L1647.8 227.4L1650.3 207.4L1652.8 229.2L1655.3 241.2L1657.8 272.1L1660.3 223.8L1662.8 209.4L1665.3 217.1L1667.8 221.0L1670.4 237.3L1672.9 219.2L1675.4 218.8L1677.9 239.3L1680.4 227.3L1682.9 221.9L1685.4 234.0L1687.9 199.4L1690.4 231.6L1692.9 184.6L1695.4 186.3L1697.9 214.2L1700.5 185.6L1703.0 186.8L1705.5 185.1L1708.0 202.6L1710.5 226.7L1713.0 252.0L1715.5 217.6L1718.0 215.8L1720.5 223.4L1723.0 180.3L1725.5 196.0L1728.0 233.7L1730.5 220.0L1733.1 205.5L1735.6 231.7L1738.1 213.6L1740.6 218.5L1743.1 239.0L1745.6 212.0L1748.1 200.7L1750.6 253.4L1753.1 215.1L1755.6 222.8L1758.1 220.7L1760.6 242.5L1763.2 236.6L1765.7 188.5L1768.2 194.4L1770.7 210.6L1773.2 210.4L1775.7 225.7L1778.2 217.7L1780.7 228.1L1783.2 211.9L1785.7 231.2L1788.2 213.7L1790.7 199.4L1793.2 214.5L1795.8 209.6L1798.3 206.9L1800.8 220.0L1803.3 238.1L1805.8 200.6L1808.3 207.8L1810.8 216.2L1813.3 192.0L1815.8 221.0L1818.3 222.9L1820.8 226.7L1823.3 233.2L1825.8 219.8L1828.4 224.7L1830.9 191.6L1833.4 218.0L1835.9 192.7L1838.4 222.3L1840.9 220.1L1843.4 213.3L1845.9 227.1L1848.4 204.4L1850.9 220.0L1853.4 225.1L1855.9 203.7L1858.5 222.4L1861.0 204.0L1863.5 192.0L1866.0 193.6L1868.5 183.6L1871.0 211.7L1873.5 190.9L1876.0 215.6L1878.5 240.5L1881.0 222.0L1883.5 181.7L1886.0 221.2L1888.5 184.5L1891.1 229.0L1893.6 201.1L1896.1 201.0L1898.6 216.8L1901.1 251.2L1903.6 210.6L1906.1 200.9L1908.6 201.0L1911.1 192.9L1913.6 220.9L1916.1 180.7L1918.6 189.0L1921.2 219.2L1923.7 177.2L1926.2 203.0L1928.7 202.0L1931.2 195.3L1933.7 222.4L1936.2 229.6L1938.7 219.1L1941.2 233.0L1943.7 220.7L1946.2 191.0L1948.7 225.9L1951.2 214.1L1953.8 222.1L1956.3 200.6L1958.8 228.9L1961.3 235.0L1963.8 221.0L1966.3 180.9L1968.8 220.8L1971.3 243.7L1973.8 237.4L1976.3 207.3L1978.8 196.3L1981.3 210.0L1983.9 208.3L1986.4 235.6L1988.9 212.3L1991.4 215.9L1993.9 224.7L1996.4 199.5L1998.9 192.4L2001.4 216.3L2003.9 210.5L2006.4 245.3L2008.9 239.3L2011.4 198.3L2013.9 228.9L2016.5 233.2L2019.0 199.9L2021.5 249.2L2024.0 234.4L2026.5 206.6L2029.0 219.8L2031.5 230.2L2034.0 235.7L2036.5 216.0L2039.0 230.5L2041.5 213.1L2044.0 216.4"/>
<path d="M1545.0 514.4L1547.5 270.1L1550.0 214.4L1552.5 220.0L1555.0 246.8L1557.5 213.7L1560.0 246.0L1562.5 258.0L1565.0 212.0L1567.5 190.9L1570.0 215.7L1572.5 230.9L1575.1 197.6L1577.6 234.7L1580.1 222.1L1582.6 228.2L1585.1 210.0L1587.6 210.2L1590.1 228.4L1592.6 201.3L1595.1 200.7L1597.6 212.8L1600.1 220.8L1602.6 219.1L1605.1 238.5L1607.7 226.2L1610.2 223.3L1612.7 209.2L1615.2 218.3L1617.7 224.0L1620.2 214.3L1622.7 199.9L1625.2 202.9L1627.7 215.3L1630.2 223.6L1632.7 195.6L1635.2 211.1L1637.8 235.4L1640.3 217.7L1642.8 246.5L1645.3 232.9L1647.8 209.8L1650.3 217.6L1652.8 222.3L1655.3 205.6L1657.8 194.2L1660.3 227.0L1662.8 238.1L1665.3 233.8L1667.8 239.8L1670.4 214.4L1672.9 203.7L1675.4 215.0L1677.9 234.0L1680.4 247.4L1682.9 227.1L1685.4 232.5L1687.9 213.3L1690.4 237.2L1692.9 231.3L1695.4 227.1L1697.9 202.3L1700.5 200.2L1703.0 204.6L1705.5 210.3L1708.0 203.8L1710.5 243.6L1713.0 208.4L1715.5 218.8L1718.0 192.4L1720.5 195.3L1723.0 191.0L1725.5 221.4L1728.0 169.0L1730.5 194.6L1733.1 205.8L1735.6 222.9L1738.1 211.7L1740.6 250.0L1743.1 201.9L1745.6 204.0L1748.1 213.6L1750.6 192.2L1753.1 200.8L1755.6 204.1L1758.1 221.1L1760.6 211.2L1763.2 233.8L1765.7 238.6L1768.2 218.6L1770.7 226.3L1773.2 240.5L1775.7 224.7L1778.2 248.4L1780.7 197.5L1783.2 226.0L1785.7 232.9L1788.2 194.0L1790.7 235.0L1793.2 257.6L1795.8 226.2L1798.3 222.9L1800.8 200.5L1803.3 213.0L1805.8 242.1L1808.3 220.6L1810.8 221.3L1813.3 196.4L1815.8 205.9L1818.3 228.9L1820.8 230.5L1823.3 219.2L1825.8 223.6L1828.4 214.2L1830.9 210.9L1833.4 234.0L1835.9 216.5L1838.4 202.2L1840.9 232.3L1843.4 244.0L1845.9 210.0L1848.4 205.0L1850.9 197.3L1853.4 181.5L1855.9 209.0L1858.5 231.3L1861.0 215.7L1863.5 226.6L1866.0 211.8L1868.5 202.1L1871.0 210.3L1873.5 204.5L1876.0 212.4L1878.5 210.0L1881.0 233.2L1883.5 191.5L1886.0 220.6L1888.5 223.6L1891.1 229.3L1893.6 223.1L1896.1 224.6L1898.6 251.1L1901.1 198.3L1903.6 204.9L1906.1 217.6L1908.6 216.5L1911.1 198.6L1913.6 197.3L1916.1 206.0L1918.6 198.1L1921.2 254.4L1923.7 211.1L1926.2 218.5L1928.7 229.4L1931.2 236.7L1933.7 220.0L1936.2 246.2L1938.7 218.3L1941.2 229.9L1943.7 207.6L1946.2 243.9L1948.7 216.9L1951.2 224.2L1953.8 238.3L1956.3 201.5L1958.8 194.6L1961.3 227.1L1963.8 224.6L1966.3 194.5L1968.8 209.9L1971.3 225.9L1973.8 235.4L1976.3 234.9L1978.8 212.2L1981.3 200.8L1983.9 219.8L1986.4 235.7L1988.9 235.9L1991.4 252.8L1993.9 219.2L1996.4 218.8L1998.9 200.4L2001.4 176.1L2003.9 185.4L2006.4 217.2L2008.9 223.9L2011.4 242.1L2013.9 259.7L2016.5 197.6L2019.0 209.4L2021.5 242.6L2024.0 213.5L2026.5 253.4L2029.0 231.8L2031.5 220.9L2034.0 231.1L2036.5 231.6L2039.0 209.7L2041.5 226.4L2044.0 202.4"/>
<path d="M1545.0 517.9L1547.5 303.1L1550.0 216.1L1552.5 220.1L1555.0 209.4L1557.5 193.8L1560.0 197.4L1562.5 204.3L1565.0 216.2L1567.5 208.9L1570.0 195.0L1572.5 222.1L1575.1 221.1L1577.6 232.7L1580.1 216.6L1582.6 209.8L1585.1 220.0L1587.6 231.9L1590.1 229.1L1592.6 204.3L1595.1 218.8L1597.6 198.6L1600.1 218.0L1602.6 225.4L1605.1 201.1L1607.7 221.7L1610.2 194.1L1612.7 243.7L1615.2 218.7L1617.7 221.6L1620.2 220.0L1622.7 208.4L1625.2 243.6L1627.7 182.7L1630.2 210.9L1632.7 168.7L1635.2 185.8L1637.8 200.4L1640.3 234.1L1642.8 186.8L1645.3 193.0L1647.8 185.4L1650.3 230.4L1652.8 245.2L1655.3 225.5L1657.8 204.9L1660.3 195.2L1662.8 185.4L1665.3 218.9L1667.8 235.3L1670.4 203.7L1672.9 225.6L1675.4 214.9L1677.9 176.1L1680.4 208.8L1682.9 203.2L1685.4 203.7L1687.9 208.2L1690.4 202.8L1692.9 199.4L1695.4 206.1L1697.9 182.8L1700.5 186.8L1703.0 221.1L1705.5 187.7L1708.0 201.7L1710.5 210.3L1713.0 223.0L1715.5 199.6L1718.0 207.7L1720.5 222.5L1723.0 227.0L1725.5 194.4L1728.0 211.2L1730.5 216.6L1733.1 168.2L1735.6 193.2L1738.1 194.0L1740.6 203.1L1743.1 208.1L1745.6 225.4L1748.1 201.1L1750.6 202.2L1753.1 221.3L1755.6 213.7L1758.1 180.3L1760.6 196.9L1763.2 205.0L1765.7 218.7L1768.2 221.1L1770.7 202.8L1773.2 192.8L1775.7 201.4L1778.2 191.5L1780.7 218.5L1783.2 218.2L1785.7 205.3L1788.2 188.4L1790.7 211.7L1793.2 193.5L1795.8 223.2L1798.3 193.7L1800.8 183.3L1803.3 207.8L1805.8 202.6L1808.3 194.6L1810.8 216.5L1813.3 217.4L1815.8 218.1L1818.3 201.8L1820.8 191.4L1823.3 219.6L1825.8 223.6L1828.4 201.4L1830.9 217.4L1833.4 213.9L1835.9 196.0L1838.4 204.4L1840.9 189.6L1843.4 202.0L1845.9 208.6L1848.4 220.7L1850.9 248.7L1853.4 224.9L1855.9 243.1L1858.5 203.6L1861.0 194.3L1863.5 197.1L1866.0 186.4L1868.5 167.1L1871.0 227.2L1873.5 215.2L1876.0 196.2L1878.5 209.1L1881.0 210.4L1883.5 190.3L1886.0 194.9L1888.5 228.1L1891.1 188.6L1893.6 217.0L1896.1 206.6L1898.6 198.1L1901.1 233.9L1903.6 185.8L1906.1 191.3L1908.6 197.4L1911.1 192.1L1913.6 208.0L1916.1 196.2L1918.6 194.2L1921.2 241.5L1923.7 236.6L1926.2 199.3L1928.7 223.5L1931.2 202.8L1933.7 209.7L1936.2 196.3L1938.7 235.0L1941.2 212.8L1943.7 209.1L1946.2 203.7L1948.7 203.0L1951.2 205.6L1953.8 201.3L1956.3 198.3L1958.8 215.2L1961.3 185.8L1963.8 202.3L1966.3 216.9L1968.8 199.2L1971.3 230.3L1973.8 195.8L1976.3 211.0L1978.8 208.1L1981.3 207.9L1983.9 200.4L1986.4 217.5L1988.9 218.9L1991.4 205.5L1993.9 218.6L1996.4 212.5L1998.9 212.6L2001.4 216.4L2003.9 223.2L2006.4 227.2L2008.9 221.3L2011.4 233.2L2013.9 234.9L2016.5 171.1L2019.0 199.7L2021.5 191.8L2024.0 200.4L2026.5 195.2L2029.0 203.7L2031.5 191.3L2034.0 201.5L2036.5 202.6L2039.0 227.8L2041.5 197.7L2044.0 209.7"/>
<path d="M1545.0 506.8L1547.5 247.4L1550.0 224.0L1552.5 250.6L1555.0 229.1L1557.5 255.5L1560.0 228.1L1562.5 197.3L1565.0 185.0L1567.5 225.3L1570.0 210.9L1572.5 233.7L1575.1 214.0L1577.6 191.8L1580.1 219.1L1582.6 190.3L1585.1 203.9L1587.6 168.1L1590.1 212.4L1592.6 228.2L1595.1 195.6L1597.6 194.1L1600.1 198.8L1602.6 222.5L1605.1 213.0L1607.7 221.7L1610.2 189.6L1612.7 196.7L1615.2 219.7L1617.7 228.2L1620.2 240.6L1622.7 229.4L1625.2 217.0L1627.7 206.6L1630.2 193.1L1632.7 215.4L1635.2 192.2L1637.8 240.6L1640.3 220.8L1642.8 203.5L1645.3 218.2L1647.8 209.5L1650.3 197.8L1652.8 217.6L1655.3 209.9L1657.8 192.9L1660.3 226.9L1662.8 196.9L1665.3 210.0L1667.8 235.4L1670.4 211.3L1672.9 200.3L1675.4 211.6L1677.9 205.7L1680.4 201.8L1682.9 207.8L1685.4 208.1L1687.9 196.4L1690.4 194.6L1692.9 207.0L1695.4 240.6L1697.9 239.7L1700.5 224.4L1703.0 195.3L1705.5 198.7L1708.0 178.3L1710.5 195.0L1713.0 199.8L1715.5 213.4L1718.0 191.1L1720.5 228.3L1723.0 209.4L1725.5 212.8L1728.0 220.0L1730.5 197.3L1733.1 196.2L1735.6 200.4L1738.1 213.4L1740.6 235.4L1743.1 239.2L1745.6 260.0L1748.1 245.5L1750.6 214.4L1753.1 188.5L1755.6 223.9L1758.1 193.6L1760.6 175.1L1763.2 183.6L1765.7 175.6L1768.2 202.4L1770.7 216.8L1773.2 207.6L1775.7 193.7L1778.2 198.5L1780.7 204.2L1783.2 195.4L1785.7 221.1L1788.2 199.7L1790.7 240.6L1793.2 193.8L1795.8 182.6L1798.3 163.9L1800.8 213.5L1803.3 220.4L1805.8 229.8L1808.3 239.3L1810.8 256.3L1813.3 208.4L1815.8 213.3L1818.3 213.1L1820.8 240.9L1823.3 215.3L1825.8 177.4L1828.4 199.2L1830.9 193.3L1833.4 225.5L1835.9 195.8L1838.4 207.0L1840.9 207.3L1843.4 203.3L1845.9 212.5L1848.4 199.1L1850.9 209.1L1853.4 217.0L1855.9 229.8L1858.5 234.4L1861.0 201.6L1863.5 189.6L1866.0 206.5L1868.5 212.2L1871.0 220.0L1873.5 209.3L1876.0 186.1L1878.5 199.3L1881.0 216.2L1883.5 193.5L1886.0 192.8L1888.5 235.4L1891.1 223.9L1893.6 192.1L1896.1 198.5L1898.6 207.6L1901.1 201.9L1903.6 227.2L1906.1 233.4L1908.6 217.3L1911.1 209.2L1913.6 182.0L1916.1 204.2L1918.6 202.8L1921.2 181.5L1923.7 212.2L1926.2 214.5L1928.7 209.8L1931.2 204.7L1933.7 205.2L1936.2 196.3L1938.7 226.1L1941.2 235.7L1943.7 217.4L1946.2 238.8L1948.7 190.1L1951.2 218.0L1953.8 221.3L1956.3 202.5L1958.8 202.6L1961.3 198.5L1963.8 207.6L1966.3 231.6L1968.8 218.2L1971.3 223.4L1973.8 241.9L1976.3 223.3L1978.8 197.6L1981.3 223.0L1983.9 226.2L1986.4 227.4L1988.9 202.2L1991.4 243.2L1993.9 211.1L1996.4 209.3L1998.9 212.3L2001.4 227.1L2003.9 219.6L2006.4 180.8L2008.9 200.0L2011.4 215.2L2013.9 198.3L2016.5 229.2L2019.0 196.9L2021.5 209.6L2024.0 168.5L2026.5 163.2L2029.0 189.2L2031.5 198.5L2034.0 214.8L2036.5 202.4L2039.0 196.7L2041.5 230.7L2044.0 241.6"/>
<path d="M1545.0 516.8L1547.5 247.8L1550.0 214.7L1552.5 201.9L1555.0 184.8L1557.5 177.4L1560.0 209.1L1562.5 209.0L1565.0 209.6L1567.5 236.4L1570.0 244.0L1572.5 222.0L1575.1 206.6L1577.6 197.6L1580.1 219.5L1582.6 203.0L1585.1 211.9L1587.6 219.6L1590.1 197.5L1592.6 237.1L1595.1 257.4L1597.6 191.1L1600.1 207.7L1602.6 197.9L1605.1 210.4L1607.7 223.5L1610.2 234.6L1612.7 248.3L1615.2 218.1L1617.7 231.5L1620.2 219.1L1622.7 209.4L1625.2 212.8L1627.7 211.1L1630.2 187.1L1632.7 201.3L1635.2 205.6L1637.8 213.5L1640.3 188.5L1642.8 184.8L1645.3 215.4L1647.8 206.7L1650.3 213.3L1652.8 220.0L1655.3 229.5L1657.8 186.3L1660.3 196.6L1662.8 244.0L1665.3 202.4L1667.8 180.0L1670.4 202.1L1672.9 210.7L1675.4 209.2L1677.9 195.7L1680.4 217.3L1682.9 206.7L1685.4 236.2L1687.9 198.5L1690.4 227.8L1692.9 222.5L1695.4 208.0L1697.9 194.2L1700.5 219.9L1703.0 225.8L1705.5 190.4L1708.0 217.6L1710.5 227.6L1713.0 224.9L1715.5 204.2L1718.0 198.7L1720.5 192.1L1723.0 200.2L1725.5 216.4L1728.0 205.9L1730.5 198.1L1733.1 228.3L1735.6 226.8L1738.1 216.5L1740.6 186.0L1743.1 211.1L1745.6 211.0L1748.1 211.4L1750.6 205.9L1753.1 199.9L1755.6 226.5L1758.1 263.8L1760.6 212.1L1763.2 247.7L1765.7 216.1L1768.2 206.3L1770.7 198.9L1773.2 226.5L1775.7 210.3L1778.2 200.4L1780.7 197.6L1783.2 187.6L1785.7 222.9L1788.2 223.8L1790.7 219.8L1793.2 214.9L1795.8 195.7L1798.3 194.1L1800.8 205.9L1803.3 181.1L1805.8 194.2L1808.3 227.1L1810.8 194.0L1813.3 229.5L1815.8 237.9L1818.3 225.7L1820.8 223.6L1823.3 217.0L1825.8 213.5L1828.4 226.0L1830.9 228.3L1833.4 205.1L1835.9 205.7L1838.4 214.7L1840.9 226.8L1843.4 215.7L1845.9 230.0L1848.4 238.9L1850.9 202.1L1853.4 198.2L1855.9 214.7L1858.5 186.0L1861.0 207.5L1863.5 200.1L1866.0 200.9L1868.5 207.4L1871.0 208.7L1873.5 185.4L1876.0 189.9L1878.5 237.7L1881.0 208.3L1883.5 248.0L1886.0 238.3L1888.5 210.9L1891.1 229.8L1893.6 195.2L1896.1 213.7L1898.6 202.1L1901.1 204.2L1903.6 196.2L1906.1 185.5L1908.6 229.6L1911.1 216.9L1913.6 209.5L1916.1 193.4L1918.6 197.6L1921.2 212.6L1923.7 234.7L1926.2 244.3L1928.7 235.1L1931.2 214.3L1933.7 209.5L1936.2 186.7L1938.7 200.3L1941.2 195.6L1943.7 230.9L1946.2 212.2L1948.7 220.1L1951.2 223.7L1953.8 193.6L1956.3 207.3L1958.8 211.9L1961.3 211.6L1963.8 234.4L1966.3 244.7L1968.8 187.9L1971.3 204.7L1973.8 210.1L1976.3 207.5L1978.8 218.3L1981.3 218.1L1983.9 227.8L1986.4 210.1L1988.9 213.9L1991.4 194.8L1993.9 181.3L1996.4 222.1L1998.9 202.9L2001.4 216.5L2003.9 176.4L2006.4 199.4L2008.9 192.1L2011.4 215.0L2013.9 191.3L2016.5 219.0L2019.0 234.5L2021.5 258.6L2024.0 224.4L2026.5 221.8L2029.0 211.4L2031.5 227.3L2034.0 216.3L2036.5 213.7L2039.0 230.9L2041.5 184.4L2044.0 167.7"/>
<path d="M1545.0 517.1L1547.5 294.7L1550.0 207.3L1552.5 178.6L1555.0 204.5L1557.5 212.4L1560.0 225.5L1562.5 220.4L1565.0 248.7L1567.5 219.7L1570.0 193.6L1572.5 199.7L1575.1 203.9L1577.6 206.7L1580.1 207.3L1582.6 226.3L1585.1 245.1L1587.6 186.6L1590.1 194.7L1592.6 242.3L1595.1 189.9L1597.6 211.1L1600.1 193.0L1602.6 206.8L1605.1 219.2L1607.7 197.2L1610.2 211.8L1612.7 251.3L1615.2 210.0L1617.7 210.6L1620.2 210.5L1622.7 214.7L1625.2 203.2L1627.7 181.9L1630.2 185.1L1632.7 197.7L1635.2 204.4L1637.8 220.2L1640.3 181.4L1642.8 234.9L1645.3 232.2L1647.8 217.4L1650.3 208.6L1652.8 204.1L1655.3 214.4L1657.8 178.0L1660.3 179.9L1662.8 233.4L1665.3 231.0L1667.8 237.5L1670.4 191.7L1672.9 211.9L1675.4 235.9L1677.9 220.5L1680.4 233.8L1682.9 214.2L1685.4 198.3L1687.9 225.5L1690.4 208.9L1692.9 203.3L1695.4 219.5L1697.9 203.0L1700.5 218.3L1703.0 199.8L1705.5 208.6L1708.0 216.1L1710.5 186.3L1713.0 186.1L1715.5 208.0L1718.0 261.9L1720.5 217.3L1723.0 219.3L1725.5 204.5L1728.0 207.6L1730.5 213.5L1733.1 216.0L1735.6 186.8L1738.1 178.0L1740.6 179.1L1743.1 221.0L1745.6 218.6L1748.1 208.8L1750.6 242.4L1753.1 199.9L1755.6 226.0L1758.1 197.1L1760.6 216.3L1763.2 204.8L1765.7 238.5L1768.2 260.6L1770.7 236.1L1773.2 240.8L1775.7 241.2L1778.2 227.0L1780.7 210.7L1783.2 197.6L1785.7 224.3L1788.2 240.6L1790.7 221.3L1793.2 233.3L1795.8 238.9L1798.3 227.3L1800.8 197.6L1803.3 204.6L1805.8 246.9L1808.3 188.2L1810.8 229.9L1813.3 214.9L1815.8 227.5L1818.3 200.3L1820.8 203.0L1823.3 190.2L1825.8 203.5L1828.4 213.2L1830.9 192.3L1833.4 240.7L1835.9 242.0L1838.4 245.2L1840.9 224.1L1843.4 224.3L1845.9 230.5L1848.4 205.1L1850.9 202.0L1853.4 218.5L1855.9 238.6L1858.5 182.5L1861.0 199.5L1863.5 219.2L1866.0 211.4L1868.5 206.1L1871.0 221.7L1873.5 201.5L1876.0 207.0L1878.5 218.8L1881.0 194.0L1883.5 214.5L1886.0 189.9L1888.5 203.5L1891.1 213.5L1893.6 191.4L1896.1 212.4L1898.6 201.8L1901.1 185.5L1903.6 210.8L1906.1 221.0L1908.6 200.1L1911.1 191.1L1913.6 243.3L1916.1 209.9L1918.6 191.0L1921.2 215.0L1923.7 194.3L1926.2 211.8L1928.7 221.8L1931.2 218.5L1933.7 199.7L1936.2 213.9L1938.7 220.6L1941.2 212.3L1943.7 197.0L1946.2 241.8L1948.7 199.4L1951.2 183.3L1953.8 221.6L1956.3 214.5L1958.8 203.9L1961.3 207.0L1963.8 177.6L1966.3 199.9L1968.8 217.4L1971.3 219.1L1973.8 206.9L1976.3 222.5L1978.8 223.9L1981.3 222.9L1983.9 184.8L1986.4 193.2L1988.9 226.1L1991.4 205.8L1993.9 254.8L1996.4 221.4L1998.9 202.4L2001.4 202.1L2003.9 198.6L2006.4 203.3L2008.9 219.6L2011.4 215.6L2013.9 215.3L2016.5 236.0L2019.0 214.9L2021.5 227.6L2024.0 202.8L2026.5 168.7L2029.0 162.3L2031.5 152.2L2034.0 201.4L2036.5 214.2L2039.0 198.8L2041.5 221.4L2044.0 200.7"/>
<path d="M1545.0 511.9L1547.5 240.3L1550.0 192.0L1552.5 228.5L1555.0 195.6L1557.5 215.1L1560.0 236.0L1562.5 212.9L1565.0 194.4L1567.5 233.2L1570.0 204.0L1572.5 214.0L1575.1 215.9L1577.6 204.5L1580.1 215.8L1582.6 224.4L1585.1 196.5L1587.6 250.3L1590.1 204.4L1592.6 232.0L1595.1 196.1L1597.6 228.2L1600.1 192.4L1602.6 236.5L1605.1 187.3L1607.7 203.0L1610.2 213.0L1612.7 217.2L1615.2 195.4L1617.7 210.4L1620.2 200.7L1622.7 206.1L1625.2 228.8L1627.7 186.9L1630.2 208.0L1632.7 205.4L1635.2 205.3L1637.8 209.4L1640.3 181.7L1642.8 197.3L1645.3 212.4L1647.8 210.2L1650.3 216.4L1652.8 231.7L1655.3 197.3L1657.8 224.4L1660.3 193.7L1662.8 205.3L1665.3 195.7L1667.8 207.8L1670.4 215.6L1672.9 173.0L1675.4 208.2L1677.9 226.4L1680.4 207.7L1682.9 186.6L1685.4 226.9L1687.9 224.3L1690.4 199.9L1692.9 192.4L1695.4 196.9L1697.9 214.8L1700.5 208.4L1703.0 222.3L1705.5 206.2L1708.0 209.8L1710.5 206.1L1713.0 213.6L1715.5 199.8L1718.0 207.5L1720.5 223.0L1723.0 190.2L1725.5 202.0L1728.0 213.7L1730.5 214.8L1733.1 187.0L1735.6 203.9L1738.1 204.6L1740.6 223.6L1743.1 220.5L1745.6 223.9L1748.1 229.3L1750.6 234.3L1753.1 223.5L1755.6 237.1L1758.1 208.1L1760.6 198.6L1763.2 224.4L1765.7 209.1L1768.2 224.2L1770.7 210.9L1773.2 205.7L1775.7 240.1L1778.2 262.0L1780.7 218.2L1783.2 207.2L1785.7 213.2L1788.2 223.6L1790.7 229.1L1793.2 262.0L1795.8 203.4L1798.3 250.3L1800.8 220.6L1803.3 220.6L1805.8 212.0L1808.3 235.8L1810.8 235.2L1813.3 213.6L1815.8 234.6L1818.3 219.6L1820.8 239.4L1823.3 219.4L1825.8 209.4L1828.4 214.4L1830.9 207.1L1833.4 233.8L1835.9 230.1L1838.4 226.2L1840.9 195.6L1843.4 221.3L1845.9 218.2L1848.4 197.5L1850.9 209.3L1853.4 200.4L1855.9 230.9L1858.5 204.6L1861.0 214.5L1863.5 208.5L1866.0 204.0L1868.5 246.4L1871.0 206.3L1873.5 222.2L1876.0 200.0L1878.5 218.2L1881.0 214.7L1883.5 243.4L1886.0 243.9L1888.5 207.4L1891.1 229.6L1893.6 217.1L1896.1 219.3L1898.6 237.6L1901.1 227.1L1903.6 223.3L1906.1 209.7L1908.6 223.1L1911.1 229.9L1913.6 198.0L1916.1 189.3L1918.6 209.7L1921.2 232.8L1923.7 214.9L1926.2 225.8L1928.7 196.3L1931.2 213.0L1933.7 227.4L1936.2 225.4L1938.7 235.5L1941.2 223.4L1943.7 240.6L1946.2 220.1L1948.7 204.7L1951.2 206.6L1953.8 230.5L1956.3 214.7L1958.8 224.1L1961.3 243.5L1963.8 226.2L1966.3 206.0L1968.8 211.8L1971.3 222.5L1973.8 230.4L1976.3 222.5L1978.8 212.0L1981.3 214.2L1983.9 198.3L1986.4 200.2L1988.9 197.5L1991.4 218.0L1993.9 210.9L1996.4 215.8L1998.9 211.0L2001.4 211.3L2003.9 175.8L2006.4 226.2L2008.9 213.6L2011.4 224.5L2013.9 212.5L2016.5 211.9L2019.0 190.6L2021.5 213.0L2024.0 227.3L2026.5 214.3L2029.0 211.8L2031.5 250.9L2034.0 194.4L2036.5 226.3L2039.0 193.9L2041.5 190.7L2044.0 187.5"/>
<path d="M1545.0 515.0L1547.5 255.7L1550.0 212.4L1552.5 222.8L1555.0 228.8L1557.5 205.2L1560.0 230.2L1562.5 224.5L1565.0 224.5L1567.5 217.3L1570.0 219.7L1572.5 235.4L1575.1 229.3L1577.6 226.3L1580.1 187.8L1582.6 197.7L1585.1 214.6L1587.6 214.4L1590.1 221.7L1592.6 191.7L1595.1 214.4L1597.6 233.1L1600.1 155.8L1602.6 215.5L1605.1 227.0L1607.7 236.5L1610.2 215.9L1612.7 228.8L1615.2 233.6L1617.7 205.8L1620.2 191.3L1622.7 206.2L1625.2 232.5L1627.7 213.5L1630.2 227.2L1632.7 215.5L1635.2 212.5L1637.8 235.9L1640.3 207.9L1642.8 215.4L1645.3 218.2L1647.8 235.6L1650.3 206.9L1652.8 226.7L1655.3 218.5L1657.8 234.8L1660.3 242.7L1662.8 244.7L1665.3 251.8L1667.8 233.3L1670.4 200.2L1672.9 196.1L1675.4 227.1L1677.9 233.6L1680.4 196.9L1682.9 200.1L1685.4 213.6L1687.9 223.5L1690.4 226.3L1692.9 259.1L1695.4 239.1L1697.9 189.3L1700.5 185.1L1703.0 214.8L1705.5 204.6L1708.0 205.3L1710.5 224.8L1713.0 234.9L1715.5 232.3L1718.0 219.2L1720.5 197.1L1723.0 209.3L1725.5 216.2L1728.0 222.2L1730.5 198.9L1733.1 186.5L1735.6 206.5L1738.1 219.4L1740.6 213.6L1743.1 207.6L1745.6 196.3L1748.1 196.9L1750.6 225.9L1753.1 222.1L1755.6 226.1L1758.1 209.8L1760.6 234.5L1763.2 252.0L1765.7 225.8L1768.2 228.4L1770.7 228.3L1773.2 223.1L1775.7 234.7L1778.2 221.4L1780.7 238.0L1783.2 242.8L1785.7 216.1L1788.2 223.3L1790.7 201.7L1793.2 209.8L1795.8 228.2L1798.3 230.2L1800.8 238.5L1803.3 224.0L1805.8 211.6L1808.3 217.3L1810.8 215.1L1813.3 233.7L1815.8 202.5L1818.3 205.4L1820.8 199.5L1823.3 232.8L1825.8 225.9L1828.4 233.1L1830.9 197.1L1833.4 216.8L1835.9 181.9L1838.4 202.6L1840.9 224.4L1843.4 200.4L1845.9 186.2L1848.4 213.6L1850.9 227.1L1853.4 221.9L1855.9 239.0L1858.5 241.2L1861.0 259.7L1863.5 238.7L1866.0 245.1L1868.5 223.1L1871.0 215.6L1873.5 201.7L1876.0 210.7L1878.5 220.8L1881.0 198.9L1883.5 225.6L1886.0 255.3L1888.5 250.4L1891.1 234.1L1893.6 214.2L1896.1 201.8L1898.6 231.3L1901.1 205.0L1903.6 209.6L1906.1 206.6L1908.6 232.5L1911.1 226.5L1913.6 255.8L1916.1 227.0L1918.6 227.4L1921.2 210.1L1923.7 199.0L1926.2 229.0L1928.7 207.0L1931.2 198.8L1933.7 218.6L1936.2 188.7L1938.7 224.1L1941.2 243.5L1943.7 224.8L1946.2 192.5L1948.7 203.7L1951.2 243.2L1953.8 233.3L1956.3 202.6L1958.8 226.6L1961.3 223.3L1963.8 236.6L1966.3 191.3L1968.8 184.3L1971.3 230.9L1973.8 250.9L1976.3 217.6L1978.8 211.2L1981.3 216.5L1983.9 216.0L1986.4 222.5L1988.9 204.3L1991.4 200.6L1993.9 192.7L1996.4 197.3L1998.9 221.8L2001.4 225.8L2003.9 224.3L2006.4 217.6L2008.9 229.0L2011.4 234.1L2013.9 226.0L2016.5 227.3L2019.0 222.4L2021.5 193.1L2024.0 190.3L2026.5 219.2L2029.0 216.8L2031.5 222.6L2034.0 233.2L2036.5 213.4L2039.0 249.1L2041.5 223.2L2044.0 225.3"/>
<path d="M1545.0 511.4L1547.5 253.5L1550.0 201.0L1552.5 200.5L1555.0 221.8L1557.5 205.6L1560.0 184.6L1562.5 221.7L1565.0 176.9L1567.5 230.4L1570.0 200.4L1572.5 217.3L1575.1 208.2L1577.6 209.7L1580.1 209.7L1582.6 193.5L1585.1 210.5L1587.6 206.7L1590.1 189.9L1592.6 206.9L1595.1 244.0L1597.6 227.2L1600.1 223.5L1602.6 227.8L1605.1 204.0L1607.7 206.9L1610.2 221.9L1612.7 222.1L1615.2 236.3L1617.7 225.2L1620.2 182.9L1622.7 231.0L1625.2 184.1L1627.7 204.2L1630.2 211.8L1632.7 219.6L1635.2 232.6L1637.8 205.4L1640.3 214.1L1642.8 221.9L1645.3 214.0L1647.8 185.8L1650.3 211.6L1652.8 213.1L1655.3 188.8L1657.8 221.6L1660.3 199.0L1662.8 167.5L1665.3 199.6L1667.8 234.5L1670.4 200.5L1672.9 212.8L1675.4 188.9L1677.9 196.1L1680.4 201.7L1682.9 222.1L1685.4 193.5L1687.9 198.0L1690.4 199.2L1692.9 199.1L1695.4 199.1L1697.9 203.0L1700.5 208.6L1703.0 235.5L1705.5 224.8L1708.0 218.5L1710.5 193.0L1713.0 187.2L1715.5 219.0L1718.0 219.3L1720.5 221.1L1723.0 206.4L1725.5 203.1L1728.0 197.0L1730.5 216.1L1733.1 215.6L1735.6 175.9L1738.1 218.4L1740.6 186.5L1743.1 189.6L1745.6 187.5L1748.1 200.3L1750.6 205.3L1753.1 194.0L1755.6 206.2L1758.1 207.6L1760.6 211.5L1763.2 201.4L1765.7 206.9L1768.2 211.9L1770.7 198.3L1773.2 201.5L1775.7 226.6L1778.2 212.7L1780.7 185.7L1783.2 194.9L1785.7 178.9L1788.2 227.3L1790.7 205.8L1793.2 238.4L1795.8 204.9L1798.3 217.1L1800.8 212.3L1803.3 201.3L1805.8 219.4L1808.3 221.7L1810.8 217.3L1813.3 197.8L1815.8 183.0L1818.3 213.8L1820.8 224.2L1823.3 210.9L1825.8 228.1L1828.4 235.2L1830.9 206.4L1833.4 216.0L1835.9 184.8L1838.4 217.1L1840.9 186.0L1843.4 182.6L1845.9 206.7L1848.4 204.2L1850.9 250.5L1853.4 214.3L1855.9 208.5L1858.5 221.2L1861.0 189.1L1863.5 241.8L1866.0 204.9L1868.5 206.2L1871.0 204.2L1873.5 231.4L1876.0 203.4L1878.5 215.3L1881.0 207.1L1883.5 192.8L1886.0 218.1L1888.5 256.5L1891.1 214.5L1893.6 205.7L1896.1 211.2L1898.6 219.0L1901.1 225.4L1903.6 209.9L1906.1 198.4L1908.6 212.2L1911.1 187.2L1913.6 205.6L1916.1 195.7L1918.6 206.4L1921.2 206.3L1923.7 190.0L1926.2 190.8L1928.7 182.3L1931.2 181.1L1933.7 198.3L1936.2 190.9L1938.7 193.0L1941.2 193.9L1943.7 188.7L1946.2 198.8L1948.7 200.3L1951.2 194.9L1953.8 217.2L1956.3 193.8L1958.8 185.5L1961.3 232.8L1963.8 199.3L1966.3 214.6L1968.8 220.2L1971.3 197.8L1973.8 217.7L1976.3 204.3L1978.8 215.3L1981.3 227.4L1983.9 181.6L1986.4 211.8L1988.9 226.4L1991.4 216.5L1993.9 178.8L1996.4 224.9L1998.9 191.9L2001.4 213.9L2003.9 204.0L2006.4 206.1L2008.9 188.6L2011.4 213.6L2013.9 176.8L2016.5 204.5L2019.0 227.9L2021.5 207.8L2024.0 192.7L2026.5 190.9L2029.0 186.0L2031.5 203.7L2034.0 181.1L2036.5 185.0L2039.0 214.9L2041.5 213.8L2044.0 218.9"/>
<path d="M1545.0 517.2L1547.5 252.3L1550.0 196.5L1552.5 185.4L1555.0 257.3L1557.5 234.5L1560.0 230.0L1562.5 226.1L1565.0 230.9L1567.5 232.7L1570.0 206.2L1572.5 190.3L1575.1 225.1L1577.6 204.0L1580.1 246.4L1582.6 212.6L1585.1 185.6L1587.6 190.8L1590.1 220.9L1592.6 229.2L1595.1 222.1L1597.6 194.5L1600.1 202.6L1602.6 207.1L1605.1 203.3L1607.7 228.3L1610.2 252.4L1612.7 232.7L1615.2 226.4L1617.7 212.0L1620.2 212.3L1622.7 160.7L1625.2 207.5L1627.7 221.2L1630.2 192.4L1632.7 207.3L1635.2 179.8L1637.8 173.5L1640.3 189.2L1642.8 194.4L1645.3 233.8L1647.8 196.4L1650.3 205.2L1652.8 200.3L1655.3 193.2L1657.8 205.2L1660.3 226.3L1662.8 224.2L1665.3 231.7L1667.8 201.7L1670.4 210.1L1672.9 210.6L1675.4 219.7L1677.9 216.3L1680.4 232.5L1682.9 215.6L1685.4 231.2L1687.9 212.8L1690.4 216.9L1692.9 206.5L1695.4 193.3L1697.9 200.2L1700.5 207.0L1703.0 197.2L1705.5 217.7L1708.0 214.5L1710.5 206.2L1713.0 234.1L1715.5 228.8L1718.0 182.4L1720.5 201.1L1723.0 206.3L1725.5 201.2L1728.0 212.2L1730.5 219.2L1733.1 218.8L1735.6 196.6L1738.1 181.5L1740.6 213.5L1743.1 214.4L1745.6 205.2L1748.1 228.9L1750.6 215.0L1753.1 195.3L1755.6 189.1L1758.1 166.3L1760.6 205.5L1763.2 209.8L1765.7 196.5L1768.2 202.4L1770.7 190.2L1773.2 205.6L1775.7 237.9L1778.2 231.3L1780.7 243.9L1783.2 217.0L1785.7 192.0L1788.2 197.3L1790.7 215.9L1793.2 245.6L1795.8 220.6L1798.3 225.3L1800.8 226.0L1803.3 215.5L1805.8 174.5L1808.3 210.0L1810.8 224.1L1813.3 239.3L1815.8 204.2L1818.3 226.4L1820.8 247.4L1823.3 229.9L1825.8 212.9L1828.4 233.9L1830.9 219.8L1833.4 242.7L1835.9 200.8L1838.4 230.3L1840.9 219.2L1843.4 231.2L1845.9 227.5L1848.4 212.3L1850.9 223.5L1853.4 218.2L1855.9 195.5L1858.5 167.1L1861.0 188.5L1863.5 206.9L1866.0 208.4L1868.5 233.1L1871.0 236.6L1873.5 237.8L1876.0 212.9L1878.5 215.6L1881.0 220.2L1883.5 176.5L1886.0 204.8L1888.5 197.9L1891.1 202.3L1893.6 210.4L1896.1 204.8L1898.6 236.7L1901.1 217.9L1903.6 198.0L1906.1 182.3L1908.6 209.6L1911.1 189.5L1913.6 194.1L1916.1 215.0L1918.6 240.4L1921.2 215.4L1923.7 224.8L1926.2 197.2L1928.7 203.1L1931.2 235.3L1933.7 226.7L1936.2 210.6L1938.7 191.5L1941.2 250.3L1943.7 214.5L1946.2 235.5L1948.7 223.3L1951.2 230.8L1953.8 202.8L1956.3 205.6L1958.8 182.6L1961.3 184.8L1963.8 218.7L1966.3 251.8L1968.8 227.5L1971.3 226.6L1973.8 215.3L1976.3 226.5L1978.8 227.9L1981.3 205.0L1983.9 207.8L1986.4 224.0L1988.9 209.8L1991.4 227.8L1993.9 217.2L1996.4 199.1L1998.9 218.6L2001.4 237.7L2003.9 217.6L2006.4 221.7L2008.9 186.7L2011.4 209.5L2013.9 223.9L2016.5 236.7L2019.0 257.7L2021.5 239.5L2024.0 220.2L2026.5 231.6L2029.0 210.8L2031.5 198.9L2034.0 199.5L2036.5 222.1L2039.0 229.9L2041.5 204.8L2044.0 223.3"/>
<path d="M1545.0 511.9L1547.5 250.8L1550.0 190.0L1552.5 176.8L1555.0 192.1L1557.5 166.2L1560.0 184.4L1562.5 216.2L1565.0 233.4L1567.5 213.4L1570.0 201.3L1572.5 200.8L1575.1 189.1L1577.6 183.9L1580.1 242.4L1582.6 216.7L1585.1 210.1L1587.6 198.4L1590.1 218.7L1592.6 191.0L1595.1 202.5L1597.6 184.3L1600.1 212.4L1602.6 211.0L1605.1 230.4L1607.7 229.1L1610.2 218.3L1612.7 219.6L1615.2 205.5L1617.7 199.9L1620.2 205.9L1622.7 207.1L1625.2 226.2L1627.7 219.6L1630.2 214.7L1632.7 221.8L1635.2 198.8L1637.8 196.5L1640.3 218.8L1642.8 218.5L1645.3 212.0L1647.8 207.8L1650.3 183.6L1652.8 205.7L1655.3 218.1L1657.8 205.2L1660.3 197.4L1662.8 186.0L1665.3 219.5L1667.8 216.1L1670.4 207.4L1672.9 205.9L1675.4 234.1L1677.9 208.9L1680.4 185.3L1682.9 193.1L1685.4 207.8L1687.9 226.3L1690.4 230.1L1692.9 215.2L1695.4 223.5L1697.9 225.5L1700.5 240.8L1703.0 210.1L1705.5 195.9L1708.0 207.6L1710.5 199.2L1713.0 205.2L1715.5 181.5L1718.0 204.4L1720.5 208.8L1723.0 229.5L1725.5 215.7L1728.0 218.0L1730.5 220.1L1733.1 187.6L1735.6 191.6L1738.1 188.4L1740.6 199.3L1743.1 222.4L1745.6 212.3L1748.1 193.4L1750.6 219.7L1753.1 215.1L1755.6 211.4L1758.1 193.1L1760.6 204.9L1763.2 196.2L1765.7 195.4L1768.2 210.3L1770.7 206.1L1773.2 229.3L1775.7 222.3L1778.2 203.3L1780.7 200.7L1783.2 200.8L1785.7 206.0L1788.2 194.0L1790.7 194.2L1793.2 203.4L1795.8 233.3L1798.3 164.2L1800.8 158.8L1803.3 209.1L1805.8 182.8L1808.3 205.3L1810.8 187.0L1813.3 216.4L1815.8 209.9L1818.3 215.7L1820.8 197.0L1823.3 189.6L1825.8 200.8L1828.4 243.5L1830.9 215.0L1833.4 226.9L1835.9 186.2L1838.4 210.3L1840.9 243.6L1843.4 218.6L1845.9 232.2L1848.4 206.0L1850.9 227.8L1853.4 205.9L1855.9 234.4L1858.5 194.8L1861.0 205.2L1863.5 195.1L1866.0 208.4L1868.5 173.9L1871.0 203.0L1873.5 195.8L1876.0 206.8L1878.5 187.4L1881.0 227.1L1883.5 239.4L1886.0 207.5L1888.5 220.6L1891.1 228.2L1893.6 205.8L1896.1 208.4L1898.6 250.3L1901.1 217.6L1903.6 220.4L1906.1 229.8L1908.6 201.9L1911.1 197.8L1913.6 183.3L1916.1 211.7L1918.6 225.6L1921.2 170.3L1923.7 185.3L1926.2 191.4L1928.7 219.8L1931.2 219.7L1933.7 198.9L1936.2 257.1L1938.7 243.6L1941.2 213.6L1943.7 242.9L1946.2 206.6L1948.7 213.2L1951.2 240.1L1953.8 218.4L1956.3 212.3L1958.8 212.8L1961.3 201.6L1963.8 235.3L1966.3 226.2L1968.8 206.6L1971.3 205.7L1973.8 206.1L1976.3 162.2L1978.8 206.0L1981.3 219.9L1983.9 202.7L1986.4 212.5L1988.9 195.8L1991.4 210.3L1993.9 181.2L1996.4 214.6L1998.9 216.0L2001.4 197.0L2003.9 206.0L2006.4 193.8L2008.9 193.1L2011.4 190.9L2013.9 226.1L2016.5 198.7L2019.0 205.6L2021.5 202.9L2024.0 221.8L2026.5 203.6L2029.0 193.4L2031.5 198.4L2034.0 197.1L2036.5 202.5L2039.0 209.9L2041.5 200.1L2044.0 208.9"/>
<path d="M1545.0 520.8L1547.5 312.7L1550.0 200.9L1552.5 220.2L1555.0 206.1L1557.5 224.9L1560.0 229.6L1562.5 245.9L1565.0 197.3L1567.5 186.8L1570.0 221.3L1572.5 209.9L1575.1 202.8L1577.6 181.3L1580.1 177.7L1582.6 215.7L1585.1 204.8L1587.6 233.9L1590.1 216.8L1592.6 209.8L1595.1 213.7L1597.6 228.9L1600.1 219.5L1602.6 175.4L1605.1 210.9L1607.7 209.1L1610.2 192.8L1612.7 190.6L1615.2 210.3L1617.7 184.6L1620.2 178.5L1622.7 197.4L1625.2 200.4L1627.7 208.0L1630.2 198.8L1632.7 200.8L1635.2 187.1L1637.8 231.0L1640.3 198.1L1642.8 207.6L1645.3 183.6L1647.8 182.0L1650.3 204.1L1652.8 207.3L1655.3 215.7L1657.8 226.9L1660.3 216.2L1662.8 196.9L1665.3 209.4L1667.8 230.8L1670.4 214.5L1672.9 228.1L1675.4 212.9L1677.9 198.7L1680.4 190.7L1682.9 185.3L1685.4 216.9L1687.9 254.2L1690.4 221.1L1692.9 216.2L1695.4 198.7L1697.9 195.4L1700.5 210.8L1703.0 208.8L1705.5 195.0L1708.0 217.2L1710.5 247.9L1713.0 213.6L1715.5 208.3L1718.0 218.2L1720.5 190.5L1723.0 207.3L1725.5 221.6L1728.0 209.0L1730.5 180.4L1733.1 220.8L1735.6 198.6L1738.1 228.6L1740.6 202.9L1743.1 216.3L1745.6 218.7L1748.1 200.6L1750.6 165.6L1753.1 228.5L1755.6 218.6L1758.1 226.0L1760.6 194.5L1763.2 205.1L1765.7 223.7L1768.2 199.3L1770.7 196.5L1773.2 208.8L1775.7 196.3L1778.2 201.0L1780.7 192.1L1783.2 224.0L1785.7 203.0L1788.2 192.8L1790.7 220.5L1793.2 153.4L1795.8 170.2L1798.3 195.7L1800.8 215.8L1803.3 215.5L1805.8 211.8L1808.3 202.7L1810.8 230.4L1813.3 233.9L1815.8 194.1L1818.3 228.5L1820.8 181.0L1823.3 205.1L1825.8 233.1L1828.4 230.7L1830.9 186.9L1833.4 200.4L1835.9 224.9L1838.4 192.3L1840.9 197.0L1843.4 217.4L1845.9 230.7L1848.4 241.1L1850.9 217.2L1853.4 203.2L1855.9 182.8L1858.5 177.0L1861.0 184.6L1863.5 228.0L1866.0 224.0L1868.5 204.2L1871.0 212.4L1873.5 208.2L1876.0 216.5L1878.5 211.1L1881.0 192.8L1883.5 196.5L1886.0 230.2L1888.5 222.2L1891.1 232.0L1893.6 242.5L1896.1 201.2L1898.6 207.8L1901.1 167.8L1903.6 187.5L1906.1 195.1L1908.6 214.2L1911.1 222.7L1913.6 199.4L1916.1 215.2L1918.6 184.2L1921.2 186.1L1923.7 186.6L1926.2 199.9L1928.7 221.9L1931.2 191.4L1933.7 213.8L1936.2 209.7L1938.7 195.3L1941.2 211.0L1943.7 216.2L1946.2 232.7L1948.7 195.9L1951.2 175.9L1953.8 214.2L1956.3 189.7L1958.8 170.4L1961.3 168.1L1963.8 179.6L1966.3 211.3L1968.8 232.5L1971.3 224.7L1973.8 202.5L1976.3 181.6L1978.8 177.8L1981.3 200.9L1983.9 197.1L1986.4 210.7L1988.9 237.4L1991.4 224.7L1993.9 192.4L1996.4 188.9L1998.9 199.4L2001.4 203.4L2003.9 165.3L2006.4 187.4L2008.9 205.8L2011.4 229.2L2013.9 222.1L2016.5 202.8L2019.0 213.7L2021.5 199.3L2024.0 212.3L2026.5 161.2L2029.0 201.6L2031.5 189.1L2034.0 214.2L2036.5 202.8L2039.0 190.0L2041.5 198.2L2044.0 232.8"/>
<path d="M1545.0 516.6L1547.5 246.8L1550.0 226.4L1552.5 207.4L1555.0 235.0L1557.5 218.6L1560.0 202.8L1562.5 219.9L1565.0 214.6L1567.5 209.2L1570.0 189.7L1572.5 188.9L1575.1 205.5L1577.6 208.8L1580.1 220.7L1582.6 224.2L1585.1 226.4L1587.6 228.8L1590.1 205.4L1592.6 218.7L1595.1 232.3L1597.6 235.4L1600.1 224.1L1602.6 211.8L1605.1 226.3L1607.7 237.5L1610.2 219.8L1612.7 202.4L1615.2 231.7L1617.7 229.1L1620.2 253.4L1622.7 186.1L1625.2 228.2L1627.7 241.6L1630.2 220.3L1632.7 225.0L1635.2 207.3L1637.8 230.2L1640.3 219.8L1642.8 215.4L1645.3 208.9L1647.8 184.6L1650.3 210.8L1652.8 230.9L1655.3 214.1L1657.8 229.6L1660.3 205.6L1662.8 210.6L1665.3 214.4L1667.8 244.0L1670.4 250.9L1672.9 236.8L1675.4 224.0L1677.9 255.1L1680.4 236.1L1682.9 219.4L1685.4 229.4L1687.9 205.7L1690.4 211.3L1692.9 190.4L1695.4 223.5L1697.9 212.2L1700.5 263.6L1703.0 243.7L1705.5 208.9L1708.0 223.3L1710.5 228.7L1713.0 242.0L1715.5 196.1L1718.0 191.5L1720.5 212.5L1723.0 211.5L1725.5 217.1L1728.0 242.1L1730.5 219.1L1733.1 228.2L1735.6 234.7L1738.1 204.4L1740.6 214.8L1743.1 235.3L1745.6 213.8L1748.1 218.3L1750.6 213.0L1753.1 219.5L1755.6 213.7L1758.1 212.8L1760.6 232.6L1763.2 186.4L1765.7 206.4L1768.2 257.7L1770.7 211.6L1773.2 242.1L1775.7 218.1L1778.2 192.2L1780.7 217.2L1783.2 220.3L1785.7 199.3L1788.2 203.4L1790.7 205.7L1793.2 218.4L1795.8 217.8L1798.3 250.8L1800.8 233.9L1803.3 224.9L1805.8 209.8L1808.3 208.3L1810.8 238.4L1813.3 237.0L1815.8 261.5L1818.3 232.7L1820.8 197.5L1823.3 211.3L1825.8 230.9L1828.4 220.7L1830.9 223.3L1833.4 242.0L1835.9 241.1L1838.4 229.2L1840.9 208.9L1843.4 227.8L1845.9 234.1L1848.4 247.8L1850.9 228.5L1853.4 241.3L1855.9 195.7L1858.5 213.3L1861.0 271.4L1863.5 210.2L1866.0 213.7L1868.5 220.4L1871.0 218.3L1873.5 231.2L1876.0 239.5L1878.5 238.8L1881.0 228.7L1883.5 216.8L1886.0 187.6L1888.5 206.6L1891.1 203.7L1893.6 200.3L1896.1 229.3L1898.6 239.7L1901.1 240.4L1903.6 199.8L1906.1 239.0L1908.6 215.7L1911.1 233.5L1913.6 180.4L1916.1 233.5L1918.6 244.8L1921.2 235.1L1923.7 243.3L1926.2 213.4L1928.7 203.0L1931.2 199.6L1933.7 179.6L1936.2 225.7L1938.7 218.7L1941.2 226.1L1943.7 233.8L1946.2 217.3L1948.7 182.1L1951.2 225.6L1953.8 183.7L1956.3 205.0L1958.8 223.5L1961.3 240.1L1963.8 209.7L1966.3 214.1L1968.8 220.3L1971.3 229.7L1973.8 224.1L1976.3 226.5L1978.8 218.5L1981.3 250.2L1983.9 222.6L1986.4 203.1L1988.9 201.3L1991.4 237.4L1993.9 221.8L1996.4 214.7L1998.9 198.4L2001.4 198.7L2003.9 196.3L2006.4 215.6L2008.9 206.3L2011.4 217.6L2013.9 223.5L2016.5 246.4L2019.0 220.1L2021.5 222.5L2024.0 246.2L2026.5 203.2L2029.0 221.5L2031.5 212.9L2034.0 211.5L2036.5 220.2L2039.0 215.6L2041.5 202.5L2044.0 227.9"/>
<path d="M1545.0 506.9L1547.5 285.1L1550.0 229.6L1552.5 215.2L1555.0 207.6L1557.5 211.2L1560.0 204.5L1562.5 218.9L1565.0 241.7L1567.5 229.9L1570.0 207.2L1572.5 210.4L1575.1 212.7L1577.6 218.0L1580.1 195.3L1582.6 216.9L1585.1 208.9L1587.6 206.6L1590.1 226.7L1592.6 202.3L1595.1 202.3L1597.6 199.8L1600.1 232.1L1602.6 197.3L1605.1 215.2L1607.7 213.8L1610.2 206.0L1612.7 195.9L1615.2 217.6L1617.7 208.4L1620.2 211.2L1622.7 212.9L1625.2 213.1L1627.7 229.1L1630.2 217.8L1632.7 194.0L1635.2 225.0L1637.8 243.2L1640.3 196.8L1642.8 232.1L1645.3 223.5L1647.8 226.3L1650.3 212.7L1652.8 219.4L1655.3 207.2L1657.8 219.9L1660.3 233.7L1662.8 178.3L1665.3 202.8L1667.8 202.3L1670.4 231.6L1672.9 229.8L1675.4 225.5L1677.9 199.8L1680.4 223.6L1682.9 207.5L1685.4 216.9L1687.9 225.2L1690.4 203.8L1692.9 205.5L1695.4 228.2L1697.9 205.6L1700.5 232.4L1703.0 209.1L1705.5 213.3L1708.0 175.1L1710.5 194.5L1713.0 172.2L1715.5 192.6L1718.0 214.0L1720.5 200.6L1723.0 234.2L1725.5 238.3L1728.0 220.7L1730.5 188.9L1733.1 191.0L1735.6 229.9L1738.1 251.3L1740.6 217.5L1743.1 240.2L1745.6 238.6L1748.1 230.1L1750.6 233.9L1753.1 232.6L1755.6 221.9L1758.1 199.3L1760.6 220.7L1763.2 214.5L1765.7 206.2L1768.2 203.2L1770.7 212.4L1773.2 225.7L1775.7 217.7L1778.2 239.1L1780.7 221.2L1783.2 194.4L1785.7 198.8L1788.2 260.0L1790.7 215.8L1793.2 204.6L1795.8 216.9L1798.3 202.7L1800.8 199.6L1803.3 212.4L1805.8 217.4L1808.3 233.9L1810.8 201.3L1813.3 247.5L1815.8 215.8L1818.3 220.2L1820.8 214.0L1823.3 220.5L1825.8 216.3L1828.4 228.8L1830.9 232.8L1833.4 190.4L1835.9 213.3L1838.4 190.7L1840.9 194.8L1843.4 205.3L1845.9 206.1L1848.4 212.1L1850.9 197.0L1853.4 210.9L1855.9 219.0L1858.5 203.5L1861.0 210.9L1863.5 203.8L1866.0 221.3L1868.5 216.1L1871.0 198.0L1873.5 193.6L1876.0 226.4L1878.5 218.4L1881.0 232.3L1883.5 205.0L1886.0 227.0L1888.5 246.7L1891.1 241.0L1893.6 240.2L1896.1 180.8L1898.6 215.1L1901.1 201.6L1903.6 222.9L1906.1 209.5L1908.6 192.0L1911.1 192.8L1913.6 186.1L1916.1 191.0L1918.6 211.5L1921.2 204.7L1923.7 208.9L1926.2 220.5L1928.7 179.8L1931.2 221.1L1933.7 236.4L1936.2 227.9L1938.7 198.7L1941.2 216.2L1943.7 209.7L1946.2 224.2L1948.7 195.8L1951.2 203.3L1953.8 209.2L1956.3 188.5L1958.8 220.6L1961.3 190.6L1963.8 193.2L1966.3 227.8L1968.8 219.4L1971.3 206.2L1973.8 228.7L1976.3 230.7L1978.8 193.8L1981.3 162.6L1983.9 173.2L1986.4 192.8L1988.9 205.5L1991.4 227.0L1993.9 203.2L1996.4 218.5L1998.9 213.0L2001.4 210.2L2003.9 197.6L2006.4 199.3L2008.9 244.9L2011.4 230.2L2013.9 200.5L2016.5 187.8L2019.0 193.1L2021.5 190.6L2024.0 224.7L2026.5 216.1L2029.0 211.3L2031.5 196.3L2034.0 206.1L2036.5 218.9L2039.0 197.8L2041.5 207.3L2044.0 200.4"/>
<path d="M1545.0 508.9L1547.5 293.4L1550.0 235.7L1552.5 238.6L1555.0 199.8L1557.5 191.8L1560.0 209.9L1562.5 225.1L1565.0 197.1L1567.5 216.5L1570.0 213.8L1572.5 236.6L1575.1 261.3L1577.6 220.7L1580.1 183.9L1582.6 210.0L1585.1 232.0L1587.6 194.9L1590.1 224.2L1592.6 250.0L1595.1 230.1L1597.6 211.6L1600.1 225.9L1602.6 215.8L1605.1 213.0L1607.7 211.6L1610.2 187.3L1612.7 203.0L1615.2 200.7L1617.7 187.3L1620.2 211.4L1622.7 197.4L1625.2 218.2L1627.7 212.7L1630.2 213.5L1632.7 196.0L1635.2 193.2L1637.8 218.9L1640.3 230.1L1642.8 235.2L1645.3 233.8L1647.8 228.3L1650.3 217.1L1652.8 227.4L1655.3 185.6L1657.8 185.0L1660.3 170.7L1662.8 193.4L1665.3 195.7L1667.8 211.0L1670.4 191.7L1672.9 197.2L1675.4 209.2L1677.9 204.1L1680.4 178.4L1682.9 175.8L1685.4 201.7L1687.9 240.8L1690.4 266.0L1692.9 225.8L1695.4 215.8L1697.9 213.2L1700.5 205.2L1703.0 200.8L1705.5 221.6L1708.0 223.5L1710.5 187.7L1713.0 168.1L1715.5 197.1L1718.0 204.3L1720.5 194.3L1723.0 199.9L1725.5 206.1L1728.0 208.8L1730.5 185.0L1733.1 215.0L1735.6 201.9L1738.1 226.4L1740.6 204.4L1743.1 202.7L1745.6 209.1L1748.1 203.2L1750.6 236.1L1753.1 228.9L1755.6 221.4L1758.1 210.7L1760.6 210.2L1763.2 221.2L1765.7 211.1L1768.2 203.7L1770.7 166.4L1773.2 195.5L1775.7 200.0L1778.2 201.7L1780.7 212.3L1783.2 216.9L1785.7 198.2L1788.2 210.5L1790.7 217.4L1793.2 211.3L1795.8 183.1L1798.3 221.5L1800.8 218.2L1803.3 206.3L1805.8 198.3L1808.3 178.6L1810.8 168.2L1813.3 208.6L1815.8 195.9L1818.3 173.4L1820.8 180.4L1823.3 215.0L1825.8 219.5L1828.4 209.3L1830.9 194.4L1833.4 221.3L1835.9 197.3L1838.4 215.8L1840.9 199.5L1843.4 193.8L1845.9 196.7L1848.4 188.3L1850.9 203.1L1853.4 203.4L1855.9 185.4L1858.5 211.7L1861.0 219.1L1863.5 233.9L1866.0 186.5L1868.5 215.2L1871.0 194.6L1873.5 203.3L1876.0 199.6L1878.5 212.6L1881.0 211.7L1883.5 193.2L1886.0 202.9L1888.5 223.9L1891.1 215.3L1893.6 233.2L1896.1 206.6L1898.6 194.2L1901.1 202.0L1903.6 182.7L1906.1 177.3L1908.6 204.3L1911.1 190.9L1913.6 209.3L1916.1 207.0L1918.6 213.0L1921.2 209.2L1923.7 229.5L1926.2 217.7L1928.7 232.7L1931.2 190.0L1933.7 213.3L1936.2 211.8L1938.7 235.8L1941.2 227.9L1943.7 205.7L1946.2 242.9L1948.7 212.7L1951.2 218.3L1953.8 176.6L1956.3 189.8L1958.8 189.4L1961.3 198.8L1963.8 189.2L1966.3 222.7L1968.8 184.2L1971.3 189.4L1973.8 229.6L1976.3 207.3L1978.8 207.3L1981.3 183.2L1983.9 206.1L1986.4 206.4L1988.9 199.9L1991.4 208.7L1993.9 179.7L1996.4 192.8L1998.9 214.5L2001.4 205.5L2003.9 210.3L2006.4 180.4L2008.9 218.5L2011.4 239.9L2013.9 180.4L2016.5 200.5L2019.0 186.1L2021.5 201.2L2024.0 213.1L2026.5 199.2L2029.0 203.2L2031.5 216.1L2034.0 240.3L2036.5 209.8L2039.0 184.6L2041.5 181.7L2044.0 223.0"/>
<path d="M1545.0 516.0L1547.5 320.6L1550.0 222.9L1552.5 218.2L1555.0 209.7L1557.5 207.6L1560.0 197.5L1562.5 191.1L1565.0 202.6L1567.5 219.4L1570.0 199.5L1572.5 207.1L1575.1 221.8L1577.6 252.1L1580.1 217.2L1582.6 200.4L1585.1 189.9L1587.6 220.9L1590.1 213.8L1592.6 239.7L1595.1 214.7L1597.6 207.0L1600.1 223.4L1602.6 205.0L1605.1 192.4L1607.7 188.6L1610.2 219.6L1612.7 211.8L1615.2 193.1L1617.7 208.6L1620.2 215.7L1622.7 215.4L1625.2 196.4L1627.7 210.1L1630.2 240.8L1632.7 206.3L1635.2 161.7L1637.8 189.8L1640.3 181.6L1642.8 196.9L1645.3 209.8L1647.8 226.1L1650.3 204.9L1652.8 208.1L1655.3 193.7L1657.8 202.6L1660.3 196.5L1662.8 239.6L1665.3 211.2L1667.8 199.4L1670.4 201.4L1672.9 184.9L1675.4 204.5L1677.9 197.2L1680.4 238.8L1682.9 204.2L1685.4 196.0L1687.9 221.0L1690.4 249.1L1692.9 236.3L1695.4 217.8L1697.9 185.7L1700.5 224.2L1703.0 207.0L1705.5 200.0L1708.0 199.4L1710.5 219.6L1713.0 202.5L1715.5 232.0L1718.0 248.9L1720.5 222.5L1723.0 229.0L1725.5 253.8L1728.0 200.5L1730.5 196.1L1733.1 198.0L1735.6 223.9L1738.1 226.5L1740.6 241.9L1743.1 219.7L1745.6 218.4L1748.1 214.2L1750.6 188.2L1753.1 214.5L1755.6 215.6L1758.1 237.6L1760.6 192.3L1763.2 186.5L1765.7 243.9L1768.2 256.9L1770.7 194.9L1773.2 174.9L1775.7 190.5L1778.2 182.2L1780.7 226.0L1783.2 213.7L1785.7 197.7L1788.2 210.9L1790.7 227.4L1793.2 218.0L1795.8 227.6L1798.3 183.2L1800.8 210.7L1803.3 222.9L1805.8 246.3L1808.3 195.4L1810.8 210.5L1813.3 201.7L1815.8 211.0L1818.3 206.8L1820.8 209.9L1823.3 221.4L1825.8 206.1L1828.4 224.0L1830.9 210.0L1833.4 204.9L1835.9 196.4L1838.4 223.0L1840.9 174.7L1843.4 199.0L1845.9 228.5L1848.4 244.3L1850.9 218.8L1853.4 215.5L1855.9 202.4L1858.5 236.5L1861.0 219.6L1863.5 207.2L1866.0 195.0L1868.5 238.2L1871.0 229.9L1873.5 230.9L1876.0 219.8L1878.5 220.1L1881.0 213.6L1883.5 229.1L1886.0 210.4L1888.5 239.1L1891.1 221.0L1893.6 179.6L1896.1 222.7L1898.6 185.7L1901.1 184.5L1903.6 214.7L1906.1 205.9L1908.6 201.7L1911.1 227.5L1913.6 253.2L1916.1 228.5L1918.6 240.3L1921.2 211.2L1923.7 242.6L1926.2 185.7L1928.7 166.2L1931.2 215.1L1933.7 249.2L1936.2 217.4L1938.7 224.1L1941.2 218.6L1943.7 242.7L1946.2 246.5L1948.7 213.5L1951.2 237.1L1953.8 254.8L1956.3 215.9L1958.8 204.8L1961.3 217.8L1963.8 233.6L1966.3 191.4L1968.8 215.1L1971.3 203.4L1973.8 235.0L1976.3 243.5L1978.8 218.3L1981.3 189.3L1983.9 226.1L1986.4 227.6L1988.9 224.8L1991.4 193.2L1993.9 209.7L1996.4 206.6L1998.9 196.8L2001.4 197.7L2003.9 181.8L2006.4 228.7L2008.9 212.8L2011.4 207.6L2013.9 233.7L2016.5 216.8L2019.0 210.5L2021.5 219.7L2024.0 227.1L2026.5 195.7L2029.0 204.9L2031.5 213.0L2034.0 209.2L2036.5 221.2L2039.0 211.7L2041.5 205.0L2044.0 226.4"/>
<path d="M1545.0 520.8L1547.5 306.8L1550.0 220.5L1552.5 229.3L1555.0 225.4L1557.5 242.8L1560.0 209.4L1562.5 205.4L1565.0 225.6L1567.5 231.7L1570.0 232.2L1572.5 237.9L1575.1 238.2L1577.6 209.9L1580.1 217.0L1582.6 198.2L1585.1 200.2L1587.6 202.1L1590.1 232.2L1592.6 187.0L1595.1 209.0L1597.6 251.0L1600.1 226.3L1602.6 222.1L1605.1 205.1L1607.7 228.3L1610.2 214.0L1612.7 219.2L1615.2 193.4L1617.7 212.9L1620.2 204.1L1622.7 193.2L1625.2 221.7L1627.7 209.4L1630.2 211.4L1632.7 184.5L1635.2 194.9L1637.8 220.4L1640.3 182.3L1642.8 213.9L1645.3 213.3L1647.8 210.3L1650.3 201.5L1652.8 221.0L1655.3 218.3L1657.8 220.0L1660.3 210.6L1662.8 225.6L1665.3 222.8L1667.8 238.8L1670.4 188.9L1672.9 197.3L1675.4 186.8L1677.9 218.0L1680.4 243.9L1682.9 248.0L1685.4 242.7L1687.9 210.8L1690.4 218.5L1692.9 223.0L1695.4 236.6L1697.9 189.5L1700.5 230.0L1703.0 220.5L1705.5 219.1L1708.0 216.3L1710.5 215.9L1713.0 206.7L1715.5 165.0L1718.0 180.7L1720.5 198.6L1723.0 226.6L1725.5 189.3L1728.0 178.9L1730.5 213.3L1733.1 202.4L1735.6 249.5L1738.1 238.7L1740.6 198.9L1743.1 238.1L1745.6 206.7L1748.1 190.8L1750.6 231.0L1753.1 218.2L1755.6 186.9L1758.1 163.2L1760.6 197.5L1763.2 181.1L1765.7 217.4L1768.2 223.7L1770.7 205.9L1773.2 195.9L1775.7 203.1L1778.2 188.1L1780.7 189.4L1783.2 180.8L1785.7 187.9L1788.2 201.9L1790.7 203.5L1793.2 207.9L1795.8 204.6L1798.3 187.0L1800.8 184.2L1803.3 177.4L1805.8 183.1L1808.3 184.9L1810.8 215.2L1813.3 214.8L1815.8 216.6L1818.3 222.1L1820.8 253.4L1823.3 206.7L1825.8 225.9L1828.4 225.5L1830.9 225.1L1833.4 185.3L1835.9 195.1L1838.4 179.2L1840.9 201.5L1843.4 193.0L1845.9 190.6L1848.4 206.5L1850.9 205.4L1853.4 237.4L1855.9 234.3L1858.5 213.7L1861.0 250.4L1863.5 215.5L1866.0 208.0L1868.5 220.8L1871.0 199.1L1873.5 198.7L1876.0 187.4L1878.5 200.7L1881.0 196.9L1883.5 201.2L1886.0 231.1L1888.5 215.7L1891.1 214.0L1893.6 209.5L1896.1 209.6L1898.6 196.2L1901.1 208.0L1903.6 222.4L1906.1 204.0L1908.6 245.0L1911.1 244.1L1913.6 198.5L1916.1 233.2L1918.6 212.0L1921.2 230.0L1923.7 204.7L1926.2 203.8L1928.7 191.9L1931.2 197.0L1933.7 187.5L1936.2 221.1L1938.7 187.7L1941.2 213.0L1943.7 197.6L1946.2 210.9L1948.7 191.7L1951.2 198.9L1953.8 204.3L1956.3 198.9L1958.8 208.4L1961.3 210.1L1963.8 186.2L1966.3 194.7L1968.8 204.8L1971.3 215.8L1973.8 191.3L1976.3 219.3L1978.8 213.9L1981.3 231.2L1983.9 226.1L1986.4 217.2L1988.9 206.3L1991.4 210.5L1993.9 194.5L1996.4 237.7L1998.9 181.8L2001.4 193.5L2003.9 197.8L2006.4 221.3L2008.9 196.4L2011.4 219.5L2013.9 213.4L2016.5 207.4L2019.0 200.0L2021.5 198.8L2024.0 221.8L2026.5 234.4L2029.0 193.2L2031.5 192.2L2034.0 195.3L2036.5 198.3L2039.0 197.7L2041.5 237.9L2044.0 215.6"/>
</g>
<path clip-path="url(#c2)" d="M1545.0 513.0L1547.5 295.0L1550.0 222.0L1552.5 206.9L1555.0 221.8L1557.5 214.0L1560.0 201.1L1562.5 240.0L1565.0 241.3L1567.5 234.8L1570.0 241.9L1572.5 192.0L1575.1 186.8L1577.6 180.4L1580.1 199.8L1582.6 189.4L1585.1 206.9L1587.6 192.7L1590.1 195.3L1592.6 209.8L1595.1 224.2L1597.6 209.6L1600.1 195.0L1602.6 201.8L1605.1 197.0L1607.7 222.8L1610.2 248.5L1612.7 222.8L1615.2 197.0L1617.7 225.2L1620.2 214.3L1622.7 207.8L1625.2 211.6L1627.7 208.6L1630.2 197.6L1632.7 192.1L1635.2 213.7L1637.8 244.6L1640.3 227.0L1642.8 216.0L1645.3 228.4L1647.8 183.3L1650.3 219.3L1652.8 207.2L1655.3 195.0L1657.8 211.6L1660.3 204.7L1662.8 208.6L1665.3 199.8L1667.8 191.1L1670.4 227.0L1672.9 222.3L1675.4 249.5L1677.9 238.0L1680.4 255.0L1682.9 205.7L1685.4 238.8L1687.9 214.5L1690.4 213.5L1692.9 203.2L1695.4 232.2L1697.9 261.2L1700.5 231.0L1703.0 200.9L1705.5 170.7L1708.0 182.8L1710.5 195.0L1713.0 224.2L1715.5 234.4L1718.0 244.6L1720.5 233.4L1723.0 222.3L1725.5 219.3L1728.0 206.7L1730.5 211.6L1733.1 199.9L1735.6 209.6L1738.1 198.9L1740.6 212.5L1743.1 226.1L1745.6 225.1L1748.1 224.2L1750.6 220.3L1753.1 226.1L1755.6 225.2L1758.1 203.8L1760.6 222.3L1763.2 205.7L1765.7 232.0L1768.2 207.7L1770.7 235.9L1773.2 207.7L1775.7 179.5L1778.2 219.3L1780.7 213.5L1783.2 215.4L1785.7 225.2L1788.2 224.2L1790.7 228.1L1793.2 255.3L1795.8 244.6L1798.3 233.9L1800.8 209.6L1803.3 185.3L1805.8 228.1L1808.3 234.4L1810.8 240.7L1813.3 221.3L1815.8 241.7L1818.3 232.0L1820.8 248.5L1823.3 230.7L1825.8 212.8L1828.4 195.0L1830.9 226.1L1833.4 216.4L1835.9 225.2L1838.4 233.9L1840.9 222.3L1843.4 227.7L1845.9 233.0L1848.4 234.9L1850.9 215.4L1853.4 196.0L1855.9 214.5L1858.5 233.0L1861.0 216.4L1863.5 199.9L1866.0 217.9L1868.5 235.9L1871.0 249.0L1873.5 262.1L1876.0 245.3L1878.5 228.4L1881.0 211.6L1883.5 244.6L1886.0 222.8L1888.5 200.9L1891.1 254.4L1893.6 213.5L1896.1 257.3L1898.6 225.2L1901.1 193.1L1903.6 243.7L1906.1 232.0L1908.6 220.3L1911.1 246.6L1913.6 225.2L1916.1 237.8L1918.6 250.5L1921.2 228.1L1923.7 205.7L1926.2 222.8L1928.7 239.8L1931.2 229.4L1933.7 219.0L1936.2 208.6L1938.7 209.3L1941.2 220.3L1943.7 241.7L1946.2 226.1L1948.7 233.0L1951.2 203.8L1953.8 219.0L1956.3 234.3L1958.8 249.5L1961.3 229.1L1963.8 261.2L1966.3 223.2L1968.8 222.3L1971.3 206.7L1973.8 212.5L1976.3 196.0L1978.8 218.8L1981.3 241.7L1983.9 216.9L1986.4 192.1L1988.9 243.7L1991.4 218.4L1993.9 193.1L1996.4 217.4L1998.9 241.7L2001.4 214.5L2003.9 231.5L2006.4 248.5L2008.9 232.6L2011.4 216.8L2013.9 200.9L2016.5 205.7L2019.0 232.0L2021.5 211.6L2024.0 246.6L2026.5 233.3L2029.0 220.0L2031.5 206.7L2034.0 219.3L2036.5 232.0L2039.0 238.3L2041.5 244.6L2044.0 231.0" fill="none" stroke="#000" stroke-width="4.17" stroke-linejoin="round" stroke-linecap="square"/>
<path d="M118 539V134H667V539Z" fill="none" stroke="#000" stroke-width="1.67" stroke-linejoin="miter" stroke-linecap="square"/>
<path d="M143 539v7.0M268 539v7.0M394 539v7.0M519 539v7.0M645 539v7.0M118 517h-7.0M118 463h-7.0M118 410h-7.0M118 356h-7.0M118 302h-7.0M118 248h-7.0M118 195h-7.0M118 141h-7.0" stroke="#000" stroke-width="1.67" fill="none"/>
<text x="136.54" y="569.90" font-size="22.20" textLength="12.21" lengthAdjust="spacingAndGlyphs">0</text>
<text x="255.50" y="569.90" font-size="22.20" textLength="25.32" lengthAdjust="spacingAndGlyphs">50</text>
<text x="374.09" y="569.90" font-size="22.20" textLength="38.77" lengthAdjust="spacingAndGlyphs">100</text>
<text x="499.49" y="569.90" font-size="22.20" textLength="38.77" lengthAdjust="spacingAndGlyphs">150</text>
<text x="624.72" y="569.90" font-size="22.20" textLength="38.94" lengthAdjust="spacingAndGlyphs">200</text>
<text x="43.72" y="524.90" font-size="22.20" textLength="58.72" lengthAdjust="spacingAndGlyphs">0.010</text>
<text x="43.72" y="471.19" font-size="22.20" textLength="58.34" lengthAdjust="spacingAndGlyphs">0.015</text>
<text x="43.72" y="417.47" font-size="22.20" textLength="58.72" lengthAdjust="spacingAndGlyphs">0.020</text>
<text x="43.72" y="363.76" font-size="22.20" textLength="58.34" lengthAdjust="spacingAndGlyphs">0.025</text>
<text x="43.72" y="310.04" font-size="22.20" textLength="58.72" lengthAdjust="spacingAndGlyphs">0.030</text>
<text x="43.72" y="256.33" font-size="22.20" textLength="58.34" lengthAdjust="spacingAndGlyphs">0.035</text>
<text x="43.72" y="202.61" font-size="22.20" textLength="58.72" lengthAdjust="spacingAndGlyphs">0.040</text>
<text x="43.72" y="148.90" font-size="22.20" textLength="58.34" lengthAdjust="spacingAndGlyphs">0.045</text>
<text x="334.38" y="597.90" font-size="21.88" textLength="115.98" lengthAdjust="spacingAndGlyphs">Generation</text>
<path d="M819 539V134H1368V539Z" fill="none" stroke="#000" stroke-width="1.67" stroke-linejoin="miter" stroke-linecap="square"/>
<path d="M844 539v7.0M969 539v7.0M1095 539v7.0M1220 539v7.0M1346 539v7.0M819 521h-7.0M819 444h-7.0M819 368h-7.0M819 292h-7.0M819 216h-7.0M819 140h-7.0" stroke="#000" stroke-width="1.67" fill="none"/>
<text x="837.54" y="569.90" font-size="22.20" textLength="12.21" lengthAdjust="spacingAndGlyphs">0</text>
<text x="956.50" y="569.90" font-size="22.20" textLength="25.32" lengthAdjust="spacingAndGlyphs">50</text>
<text x="1075.09" y="569.90" font-size="22.20" textLength="38.77" lengthAdjust="spacingAndGlyphs">100</text>
<text x="1200.49" y="569.90" font-size="22.20" textLength="38.77" lengthAdjust="spacingAndGlyphs">150</text>
<text x="1325.72" y="569.90" font-size="22.20" textLength="38.94" lengthAdjust="spacingAndGlyphs">200</text>
<text x="717.30" y="528.50" font-size="22.20" textLength="85.24" lengthAdjust="spacingAndGlyphs">0.00000</text>
<text x="717.31" y="452.40" font-size="22.20" textLength="84.86" lengthAdjust="spacingAndGlyphs">0.00005</text>
<text x="717.30" y="376.30" font-size="22.20" textLength="85.24" lengthAdjust="spacingAndGlyphs">0.00010</text>
<text x="717.31" y="300.20" font-size="22.20" textLength="84.86" lengthAdjust="spacingAndGlyphs">0.00015</text>
<text x="717.30" y="224.10" font-size="22.20" textLength="85.24" lengthAdjust="spacingAndGlyphs">0.00020</text>
<text x="717.31" y="148.00" font-size="22.20" textLength="84.86" lengthAdjust="spacingAndGlyphs">0.00025</text>
<text x="1035.38" y="597.90" font-size="21.88" textLength="115.98" lengthAdjust="spacingAndGlyphs">Generation</text>
<path d="M1520 539V134H2069V539Z" fill="none" stroke="#000" stroke-width="1.67" stroke-linejoin="miter" stroke-linecap="square"/>
<path d="M1545 539v7.0M1670 539v7.0M1796 539v7.0M1921 539v7.0M2047 539v7.0M1520 494h-7.0M1520 437h-7.0M1520 379h-7.0M1520 321h-7.0M1520 263h-7.0M1520 205h-7.0M1520 147h-7.0" stroke="#000" stroke-width="1.67" fill="none"/>
<text x="1538.54" y="569.90" font-size="22.20" textLength="12.21" lengthAdjust="spacingAndGlyphs">0</text>
<text x="1657.50" y="569.90" font-size="22.20" textLength="25.32" lengthAdjust="spacingAndGlyphs">50</text>
<text x="1776.09" y="569.90" font-size="22.20" textLength="38.77" lengthAdjust="spacingAndGlyphs">100</text>
<text x="1901.49" y="569.90" font-size="22.20" textLength="38.77" lengthAdjust="spacingAndGlyphs">150</text>
<text x="2026.72" y="569.90" font-size="22.20" textLength="38.94" lengthAdjust="spacingAndGlyphs">200</text>
<text x="1452.53" y="502.40" font-size="22.20" textLength="52.21" lengthAdjust="spacingAndGlyphs">2000</text>
<text x="1452.53" y="444.50" font-size="22.20" textLength="52.21" lengthAdjust="spacingAndGlyphs">2200</text>
<text x="1452.53" y="386.60" font-size="22.20" textLength="52.21" lengthAdjust="spacingAndGlyphs">2400</text>
<text x="1452.53" y="328.70" font-size="22.20" textLength="52.21" lengthAdjust="spacingAndGlyphs">2600</text>
<text x="1452.53" y="270.80" font-size="22.20" textLength="52.21" lengthAdjust="spacingAndGlyphs">2800</text>
<text x="1452.88" y="212.90" font-size="22.20" textLength="51.85" lengthAdjust="spacingAndGlyphs">3000</text>
<text x="1452.88" y="155.00" font-size="22.20" textLength="51.85" lengthAdjust="spacingAndGlyphs">3200</text>
<text x="1736.38" y="597.90" font-size="21.88" textLength="115.98" lengthAdjust="spacingAndGlyphs">Generation</text>
<text x="310.48" y="121.00" font-size="26.25" textLength="164.02" lengthAdjust="spacingAndGlyphs">Mean Fitness</text>
<text x="990.52" y="121.00" font-size="26.25" textLength="206.04" lengthAdjust="spacingAndGlyphs">Fitness Variance</text>
<text x="1698.94" y="121.00" font-size="26.25" textLength="191.20" lengthAdjust="spacingAndGlyphs">Population Size</text>
<text transform="translate(31.10,337.80) rotate(-90)" x="-68.35" y="0" font-size="21.88" textLength="136.68" lengthAdjust="spacingAndGlyphs">Mean Fitness</text>
<text transform="translate(705.00,339.40) rotate(-90)" x="-45.75" y="0" font-size="21.88" textLength="91.49" lengthAdjust="spacingAndGlyphs">Variance</text>
<text transform="translate(1438.60,337.00) rotate(-90)" x="-43.71" y="0" font-size="21.88" textLength="87.53" lengthAdjust="spacingAndGlyphs">Pop Size</text>
<text x="850.63" y="36.90" font-size="30.62" textLength="382.80" lengthAdjust="spacingAndGlyphs">Posterior Predictive Check</text>
<rect x="127.7" y="491.7" width="175.5" height="36.9" rx="4.2" fill="#fff" fill-opacity="0.8" stroke="#ccc" stroke-width="1.67"/>
<path d="M134 508.9H180" stroke="#000" stroke-width="4.17"/>
<text x="194.08" y="517.00" font-size="21.88" textLength="99.74" lengthAdjust="spacingAndGlyphs">Observed</text>
</svg></body></html>
